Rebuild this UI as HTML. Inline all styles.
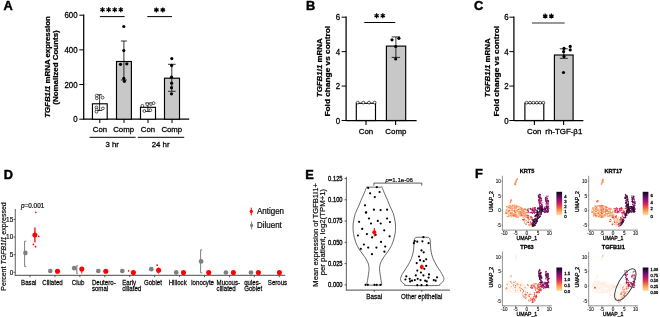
<!DOCTYPE html>
<html><head><meta charset="utf-8"><title>Figure</title>
<style>
html,body{margin:0;padding:0;background:#fff;width:660px;height:317px;overflow:hidden}
svg{display:block;font-family:"Liberation Sans",sans-serif;will-change:transform}
text{stroke:#000;stroke-width:0.28px}
</style></head><body>
<svg width="660" height="317" viewBox="0 0 660 317">
<rect width="660" height="317" fill="#fff"/>
<text x="3.50" y="9.75" font-size="12.8" text-anchor="start" font-weight="bold" fill="#000" style="stroke-width:0.45px">A</text>
<text x="306.10" y="9.75" font-size="12.8" text-anchor="start" font-weight="bold" fill="#000" style="stroke-width:0.45px">B</text>
<text x="474.10" y="10.15" font-size="12.8" text-anchor="start" font-weight="bold" fill="#000" style="stroke-width:0.45px">C</text>
<text x="3.80" y="178.75" font-size="12.8" text-anchor="start" font-weight="bold" fill="#000" style="stroke-width:0.45px">D</text>
<text x="305.20" y="178.75" font-size="12.8" text-anchor="start" font-weight="bold" fill="#000" style="stroke-width:0.45px">E</text>
<text x="474.90" y="178.35" font-size="12.8" text-anchor="start" font-weight="bold" fill="#000" style="stroke-width:0.45px">F</text>
<line x1="83.70" y1="14.60" x2="83.70" y2="119.80" stroke="#000" stroke-width="1.25"/>
<line x1="79.30" y1="119.20" x2="83.70" y2="119.20" stroke="#000" stroke-width="1.0"/>
<text transform="translate(77.6,122.25) scale(0.915,1)" font-size="8.6" text-anchor="end">0</text>
<line x1="79.30" y1="84.53" x2="83.70" y2="84.53" stroke="#000" stroke-width="1.0"/>
<text transform="translate(77.6,87.58) scale(0.915,1)" font-size="8.6" text-anchor="end">200</text>
<line x1="79.30" y1="49.87" x2="83.70" y2="49.87" stroke="#000" stroke-width="1.0"/>
<text transform="translate(77.6,52.92) scale(0.915,1)" font-size="8.6" text-anchor="end">400</text>
<line x1="79.30" y1="15.20" x2="83.70" y2="15.20" stroke="#000" stroke-width="1.0"/>
<text transform="translate(77.6,18.25) scale(0.915,1)" font-size="8.6" text-anchor="end">600</text>
<line x1="83.70" y1="119.20" x2="189.20" y2="119.20" stroke="#000" stroke-width="1.25"/>
<rect x="92.45" y="103.80" width="14.75" height="15.40" fill="#fff" stroke="#000" stroke-width="1.15"/>
<rect x="116.50" y="61.50" width="14.90" height="57.70" fill="#c8c8c8" stroke="#000" stroke-width="1.15"/>
<rect x="140.50" y="107.30" width="15.00" height="11.90" fill="#fff" stroke="#000" stroke-width="1.15"/>
<rect x="164.50" y="78.20" width="15.00" height="41.00" fill="#c8c8c8" stroke="#000" stroke-width="1.15"/>
<line x1="99.80" y1="119.20" x2="99.80" y2="123.00" stroke="#000" stroke-width="1.0"/>
<line x1="124.00" y1="119.20" x2="124.00" y2="123.00" stroke="#000" stroke-width="1.0"/>
<line x1="148.00" y1="119.20" x2="148.00" y2="123.00" stroke="#000" stroke-width="1.0"/>
<line x1="172.00" y1="119.20" x2="172.00" y2="123.00" stroke="#000" stroke-width="1.0"/>
<line x1="123.90" y1="41.00" x2="123.90" y2="80.00" stroke="#000" stroke-width="0.8"/>
<line x1="120.90" y1="41.00" x2="126.90" y2="41.00" stroke="#000" stroke-width="0.8"/>
<line x1="120.90" y1="80.00" x2="126.90" y2="80.00" stroke="#000" stroke-width="0.8"/>
<line x1="99.60" y1="94.80" x2="99.60" y2="110.50" stroke="#000" stroke-width="0.8"/>
<line x1="97.10" y1="94.80" x2="102.10" y2="94.80" stroke="#000" stroke-width="0.8"/>
<line x1="97.10" y1="110.50" x2="102.10" y2="110.50" stroke="#000" stroke-width="0.8"/>
<line x1="147.90" y1="103.00" x2="147.90" y2="111.50" stroke="#000" stroke-width="0.8"/>
<line x1="145.30" y1="103.00" x2="150.50" y2="103.00" stroke="#000" stroke-width="0.8"/>
<line x1="145.30" y1="111.50" x2="150.50" y2="111.50" stroke="#000" stroke-width="0.8"/>
<line x1="171.80" y1="64.30" x2="171.80" y2="91.30" stroke="#000" stroke-width="0.8"/>
<line x1="168.00" y1="64.30" x2="175.60" y2="64.30" stroke="#000" stroke-width="0.8"/>
<line x1="168.00" y1="91.30" x2="175.60" y2="91.30" stroke="#000" stroke-width="0.8"/>
<circle cx="123.80" cy="26.50" r="1.6" fill="#000"/>
<circle cx="123.80" cy="50.60" r="1.6" fill="#000"/>
<circle cx="120.50" cy="64.30" r="1.6" fill="#000"/>
<circle cx="126.80" cy="63.80" r="1.6" fill="#000"/>
<circle cx="123.80" cy="78.40" r="1.6" fill="#000"/>
<circle cx="124.40" cy="81.30" r="1.6" fill="#000"/>
<circle cx="171.80" cy="58.60" r="1.6" fill="#000"/>
<circle cx="171.60" cy="65.40" r="1.6" fill="#000"/>
<circle cx="171.50" cy="77.20" r="1.6" fill="#000"/>
<circle cx="171.60" cy="83.20" r="1.6" fill="#000"/>
<circle cx="171.50" cy="87.70" r="1.6" fill="#000"/>
<circle cx="171.50" cy="93.80" r="1.6" fill="#000"/>
<circle cx="96.70" cy="95.60" r="1.4" fill="#fff" stroke="#000" stroke-width="0.65"/>
<circle cx="96.80" cy="98.30" r="1.4" fill="#fff" stroke="#000" stroke-width="0.65"/>
<circle cx="102.60" cy="97.60" r="1.4" fill="#fff" stroke="#000" stroke-width="0.65"/>
<circle cx="96.50" cy="107.40" r="1.4" fill="#fff" stroke="#000" stroke-width="0.65"/>
<circle cx="96.70" cy="109.60" r="1.4" fill="#fff" stroke="#000" stroke-width="0.65"/>
<circle cx="96.50" cy="111.70" r="1.4" fill="#fff" stroke="#000" stroke-width="0.65"/>
<circle cx="102.90" cy="108.40" r="1.4" fill="#fff" stroke="#000" stroke-width="0.65"/>
<circle cx="142.40" cy="105.80" r="1.4" fill="#fff" stroke="#000" stroke-width="0.65"/>
<circle cx="147.30" cy="104.20" r="1.4" fill="#fff" stroke="#000" stroke-width="0.65"/>
<circle cx="151.00" cy="104.00" r="1.4" fill="#fff" stroke="#000" stroke-width="0.65"/>
<circle cx="153.60" cy="103.10" r="1.4" fill="#fff" stroke="#000" stroke-width="0.65"/>
<circle cx="144.30" cy="111.00" r="1.4" fill="#fff" stroke="#000" stroke-width="0.65"/>
<circle cx="150.40" cy="110.20" r="1.4" fill="#fff" stroke="#000" stroke-width="0.65"/>
<text x="100.00" y="131.80" font-size="7.8" text-anchor="middle" fill="#000">Con</text>
<text x="123.60" y="131.80" font-size="7.8" text-anchor="middle" fill="#000">Comp</text>
<text x="148.00" y="131.80" font-size="7.8" text-anchor="middle" fill="#000">Con</text>
<text x="171.80" y="131.80" font-size="7.8" text-anchor="middle" fill="#000">Comp</text>
<line x1="89.60" y1="137.30" x2="135.60" y2="137.30" stroke="#000" stroke-width="1.0"/>
<line x1="137.80" y1="137.30" x2="184.20" y2="137.30" stroke="#000" stroke-width="1.0"/>
<text x="112.20" y="146.50" font-size="7.8" text-anchor="middle" fill="#000">3 hr</text>
<text x="160.60" y="146.50" font-size="7.8" text-anchor="middle" fill="#000">24 hr</text>
<path d="M102.50,7.20L102.50,12.20M100.33,8.45L104.67,10.95M100.33,10.95L104.67,8.45" stroke="#000" stroke-width="1.25"/>
<path d="M108.60,7.20L108.60,12.20M106.43,8.45L110.77,10.95M106.43,10.95L110.77,8.45" stroke="#000" stroke-width="1.25"/>
<path d="M114.70,7.20L114.70,12.20M112.53,8.45L116.87,10.95M112.53,10.95L116.87,8.45" stroke="#000" stroke-width="1.25"/>
<path d="M120.80,7.20L120.80,12.20M118.63,8.45L122.97,10.95M118.63,10.95L122.97,8.45" stroke="#000" stroke-width="1.25"/>
<line x1="99.90" y1="16.60" x2="124.60" y2="16.60" stroke="#000" stroke-width="1.0"/>
<path d="M156.40,7.40L156.40,12.40M154.23,8.65L158.57,11.15M154.23,11.15L158.57,8.65" stroke="#000" stroke-width="1.25"/>
<path d="M162.80,7.40L162.80,12.40M160.63,8.65L164.97,11.15M160.63,11.15L164.97,8.65" stroke="#000" stroke-width="1.25"/>
<line x1="147.30" y1="16.60" x2="172.00" y2="16.60" stroke="#000" stroke-width="1.0"/>
<text transform="translate(49.8,67.0) rotate(-90) scale(1,0.88)" font-size="7.85" text-anchor="middle" font-weight="bold"><tspan font-style="italic">TGFB1l1</tspan> mRNA expression</text>
<text transform="translate(58.30,67.50) rotate(-90) scale(1,0.88)" font-size="7.95" text-anchor="middle" font-weight="bold" fill="#000">(Nomalized Counts)</text>
<line x1="346.10" y1="16.60" x2="346.10" y2="121.10" stroke="#000" stroke-width="1.25"/>
<line x1="341.60" y1="120.50" x2="346.10" y2="120.50" stroke="#000" stroke-width="1.0"/>
<text transform="translate(340.2,123.55) scale(0.915,1)" font-size="8.6" text-anchor="end">0</text>
<line x1="341.60" y1="86.07" x2="346.10" y2="86.07" stroke="#000" stroke-width="1.0"/>
<text transform="translate(340.2,89.12) scale(0.915,1)" font-size="8.6" text-anchor="end">2</text>
<line x1="341.60" y1="51.63" x2="346.10" y2="51.63" stroke="#000" stroke-width="1.0"/>
<text transform="translate(340.2,54.68) scale(0.915,1)" font-size="8.6" text-anchor="end">4</text>
<line x1="341.60" y1="17.20" x2="346.10" y2="17.20" stroke="#000" stroke-width="1.0"/>
<text transform="translate(340.2,20.25) scale(0.915,1)" font-size="8.6" text-anchor="end">6</text>
<line x1="346.10" y1="120.50" x2="416.60" y2="120.50" stroke="#000" stroke-width="1.25"/>
<rect x="356.30" y="103.28" width="19.20" height="17.22" fill="#fff" stroke="#000" stroke-width="1.15"/>
<rect x="386.40" y="46.10" width="19.30" height="74.40" fill="#c8c8c8" stroke="#000" stroke-width="1.15"/>
<line x1="395.90" y1="36.90" x2="395.90" y2="57.40" stroke="#000" stroke-width="0.8"/>
<line x1="391.70" y1="36.90" x2="400.10" y2="36.90" stroke="#000" stroke-width="0.8"/>
<line x1="391.70" y1="57.40" x2="400.10" y2="57.40" stroke="#000" stroke-width="0.8"/>
<circle cx="392.00" cy="39.80" r="1.6" fill="#000"/>
<circle cx="398.90" cy="38.30" r="1.6" fill="#000"/>
<circle cx="395.70" cy="46.50" r="1.6" fill="#000"/>
<circle cx="395.70" cy="59.00" r="1.6" fill="#000"/>
<circle cx="357.70" cy="102.60" r="1.4" fill="#fff" stroke="#000" stroke-width="0.65"/>
<circle cx="363.30" cy="102.60" r="1.4" fill="#fff" stroke="#000" stroke-width="0.65"/>
<circle cx="369.00" cy="102.60" r="1.4" fill="#fff" stroke="#000" stroke-width="0.65"/>
<circle cx="374.60" cy="102.60" r="1.4" fill="#fff" stroke="#000" stroke-width="0.65"/>
<line x1="366.00" y1="120.50" x2="366.00" y2="125.00" stroke="#000" stroke-width="1.1"/>
<line x1="395.60" y1="120.50" x2="395.60" y2="125.00" stroke="#000" stroke-width="1.1"/>
<text x="366.00" y="134.00" font-size="7.9" text-anchor="middle" fill="#000">Con</text>
<text x="395.90" y="134.00" font-size="7.9" text-anchor="middle" fill="#000">Comp</text>
<path d="M376.60,13.20L376.60,18.20M374.43,14.45L378.77,16.95M374.43,16.95L378.77,14.45" stroke="#000" stroke-width="1.25"/>
<path d="M382.80,13.20L382.80,18.20M380.63,14.45L384.97,16.95M380.63,16.95L384.97,14.45" stroke="#000" stroke-width="1.25"/>
<line x1="364.30" y1="22.50" x2="395.30" y2="22.50" stroke="#000" stroke-width="1.0"/>
<text transform="translate(321.6,67.8) rotate(-90) scale(1,0.88)" font-size="7.9" text-anchor="middle" font-weight="bold"><tspan font-style="italic">TGFB1l1</tspan> mRNA</text>
<text transform="translate(330.40,71.20) rotate(-90) scale(1,0.88)" font-size="8.3" text-anchor="middle" font-weight="bold" fill="#000">Fold change vs control</text>
<line x1="513.90" y1="16.60" x2="513.90" y2="121.10" stroke="#000" stroke-width="1.25"/>
<line x1="509.40" y1="120.50" x2="513.90" y2="120.50" stroke="#000" stroke-width="1.0"/>
<text transform="translate(508.6,123.55) scale(0.915,1)" font-size="8.6" text-anchor="end">0</text>
<line x1="509.40" y1="86.07" x2="513.90" y2="86.07" stroke="#000" stroke-width="1.0"/>
<text transform="translate(508.6,89.12) scale(0.915,1)" font-size="8.6" text-anchor="end">2</text>
<line x1="509.40" y1="51.63" x2="513.90" y2="51.63" stroke="#000" stroke-width="1.0"/>
<text transform="translate(508.6,54.68) scale(0.915,1)" font-size="8.6" text-anchor="end">4</text>
<line x1="509.40" y1="17.20" x2="513.90" y2="17.20" stroke="#000" stroke-width="1.0"/>
<text transform="translate(508.6,20.25) scale(0.915,1)" font-size="8.6" text-anchor="end">6</text>
<line x1="513.90" y1="120.50" x2="583.40" y2="120.50" stroke="#000" stroke-width="1.25"/>
<rect x="524.90" y="103.28" width="18.90" height="17.22" fill="#fff" stroke="#000" stroke-width="1.15"/>
<rect x="554.40" y="55.00" width="18.70" height="65.50" fill="#c8c8c8" stroke="#000" stroke-width="1.15"/>
<line x1="563.80" y1="48.80" x2="563.80" y2="58.30" stroke="#000" stroke-width="0.8"/>
<line x1="559.80" y1="48.80" x2="567.80" y2="48.80" stroke="#000" stroke-width="0.8"/>
<line x1="559.80" y1="58.30" x2="567.80" y2="58.30" stroke="#000" stroke-width="0.8"/>
<circle cx="564.00" cy="48.40" r="1.6" fill="#000"/>
<circle cx="570.20" cy="46.40" r="1.6" fill="#000"/>
<circle cx="570.20" cy="49.90" r="1.6" fill="#000"/>
<circle cx="563.60" cy="51.60" r="1.6" fill="#000"/>
<circle cx="564.00" cy="56.40" r="1.6" fill="#000"/>
<circle cx="563.50" cy="72.50" r="1.6" fill="#000"/>
<circle cx="526.60" cy="102.70" r="1.4" fill="#fff" stroke="#000" stroke-width="0.65"/>
<circle cx="530.00" cy="102.70" r="1.4" fill="#fff" stroke="#000" stroke-width="0.65"/>
<circle cx="533.40" cy="102.70" r="1.4" fill="#fff" stroke="#000" stroke-width="0.65"/>
<circle cx="536.80" cy="102.70" r="1.4" fill="#fff" stroke="#000" stroke-width="0.65"/>
<circle cx="540.20" cy="102.70" r="1.4" fill="#fff" stroke="#000" stroke-width="0.65"/>
<circle cx="543.40" cy="102.70" r="1.4" fill="#fff" stroke="#000" stroke-width="0.65"/>
<line x1="534.40" y1="120.50" x2="534.40" y2="125.00" stroke="#000" stroke-width="1.1"/>
<line x1="563.60" y1="120.50" x2="563.60" y2="125.00" stroke="#000" stroke-width="1.1"/>
<text x="534.20" y="133.60" font-size="7.9" text-anchor="middle" fill="#000">Con</text>
<text x="563.80" y="133.60" font-size="7.9" text-anchor="middle" fill="#000">rh-TGF-β1</text>
<path d="M545.20,13.60L545.20,18.60M543.03,14.85L547.37,17.35M543.03,17.35L547.37,14.85" stroke="#000" stroke-width="1.25"/>
<path d="M551.40,13.60L551.40,18.60M549.23,14.85L553.57,17.35M549.23,17.35L553.57,14.85" stroke="#000" stroke-width="1.25"/>
<line x1="531.90" y1="23.00" x2="564.70" y2="23.00" stroke="#333" stroke-width="1.2"/>
<text transform="translate(490.4,67.8) rotate(-90) scale(1,0.88)" font-size="7.9" text-anchor="middle" font-weight="bold"><tspan font-style="italic">TGFB1l1</tspan> mRNA</text>
<text transform="translate(499.20,71.20) rotate(-90) scale(1,0.88)" font-size="8.3" text-anchor="middle" font-weight="bold" fill="#000">Fold change vs control</text>
<line x1="15.30" y1="209.00" x2="15.30" y2="275.90" stroke="#6e6e6e" stroke-width="1.1"/>
<line x1="14.75" y1="275.40" x2="285.20" y2="275.40" stroke="#6e6e6e" stroke-width="1.1"/>
<line x1="13.60" y1="272.30" x2="15.30" y2="272.30" stroke="#333" stroke-width="0.8"/>
<text x="13.20" y="274.60" font-size="6.4" text-anchor="end" fill="#333" style="stroke-width:0.2px">0</text>
<line x1="13.60" y1="254.67" x2="15.30" y2="254.67" stroke="#333" stroke-width="0.8"/>
<text x="13.20" y="256.97" font-size="6.4" text-anchor="end" fill="#333" style="stroke-width:0.2px">5</text>
<line x1="13.60" y1="237.04" x2="15.30" y2="237.04" stroke="#333" stroke-width="0.8"/>
<text x="13.20" y="239.34" font-size="6.4" text-anchor="end" fill="#333" style="stroke-width:0.2px">10</text>
<line x1="13.60" y1="219.41" x2="15.30" y2="219.41" stroke="#333" stroke-width="0.8"/>
<text x="13.20" y="221.71" font-size="6.4" text-anchor="end" fill="#333" style="stroke-width:0.2px">15</text>
<line x1="30.00" y1="275.40" x2="30.00" y2="277.20" stroke="#333" stroke-width="0.8"/>
<line x1="54.93" y1="275.40" x2="54.93" y2="277.20" stroke="#333" stroke-width="0.8"/>
<line x1="79.86" y1="275.40" x2="79.86" y2="277.20" stroke="#333" stroke-width="0.8"/>
<line x1="104.79" y1="275.40" x2="104.79" y2="277.20" stroke="#333" stroke-width="0.8"/>
<line x1="129.72" y1="275.40" x2="129.72" y2="277.20" stroke="#333" stroke-width="0.8"/>
<line x1="154.65" y1="275.40" x2="154.65" y2="277.20" stroke="#333" stroke-width="0.8"/>
<line x1="179.58" y1="275.40" x2="179.58" y2="277.20" stroke="#333" stroke-width="0.8"/>
<line x1="204.51" y1="275.40" x2="204.51" y2="277.20" stroke="#333" stroke-width="0.8"/>
<line x1="229.44" y1="275.40" x2="229.44" y2="277.20" stroke="#333" stroke-width="0.8"/>
<line x1="254.37" y1="275.40" x2="254.37" y2="277.20" stroke="#333" stroke-width="0.8"/>
<line x1="279.30" y1="275.40" x2="279.30" y2="277.20" stroke="#333" stroke-width="0.8"/>
<text transform="translate(21.10,284.50) scale(0.85,1)" font-size="7.2" fill="#1a1a1a" style="stroke-width:0.26px">Basal</text>
<text transform="translate(42.30,284.50) scale(0.85,1)" font-size="7.2" fill="#1a1a1a" style="stroke-width:0.26px">Ciliated</text>
<text transform="translate(71.80,284.50) scale(0.85,1)" font-size="7.2" fill="#1a1a1a" style="stroke-width:0.26px">Club</text>
<text transform="translate(91.90,284.50) scale(0.85,1)" font-size="7.2" fill="#1a1a1a" style="stroke-width:0.26px">Deutero-</text>
<text transform="translate(91.90,291.00) scale(0.85,1)" font-size="7.2" fill="#1a1a1a" style="stroke-width:0.26px">somal</text>
<text transform="translate(122.20,284.50) scale(0.85,1)" font-size="7.2" fill="#1a1a1a" style="stroke-width:0.26px">Early</text>
<text transform="translate(122.20,291.00) scale(0.85,1)" font-size="7.2" fill="#1a1a1a" style="stroke-width:0.26px">ciliated</text>
<text transform="translate(143.90,284.50) scale(0.85,1)" font-size="7.2" fill="#1a1a1a" style="stroke-width:0.26px">Goblet</text>
<text transform="translate(168.70,284.50) scale(0.85,1)" font-size="7.2" fill="#1a1a1a" style="stroke-width:0.26px">Hillock</text>
<text transform="translate(190.90,284.50) scale(0.85,1)" font-size="7.2" fill="#1a1a1a" style="stroke-width:0.26px">Ionocyte</text>
<text transform="translate(216.60,284.50) scale(0.85,1)" font-size="7.2" fill="#1a1a1a" style="stroke-width:0.26px">Mucous-</text>
<text transform="translate(216.60,291.00) scale(0.85,1)" font-size="7.2" fill="#1a1a1a" style="stroke-width:0.26px">ciliated</text>
<text transform="translate(244.20,284.50) scale(0.85,1)" font-size="7.2" fill="#1a1a1a" style="stroke-width:0.26px">quies-</text>
<text transform="translate(244.20,291.00) scale(0.85,1)" font-size="7.2" fill="#1a1a1a" style="stroke-width:0.26px">Goblet</text>
<text transform="translate(267.80,284.50) scale(0.85,1)" font-size="7.2" fill="#1a1a1a" style="stroke-width:0.26px">Serous</text>
<path d="M26.30,241.20H24.60V266.40H26.30" fill="none" stroke="#7f7f7f" stroke-width="1.0"/>
<circle cx="25.40" cy="252.90" r="2.3" fill="#7f7f7f"/>
<line x1="34.90" y1="227.40" x2="34.90" y2="242.60" stroke="#ff0000" stroke-width="1.3"/>
<circle cx="34.90" cy="235.00" r="2.5" fill="#ff0000"/>
<circle cx="35.80" cy="212.30" r="0.85" fill="#ff0000"/>
<circle cx="38.80" cy="236.30" r="0.85" fill="#ff0000"/>
<circle cx="33.40" cy="244.40" r="0.85" fill="#ff0000"/>
<circle cx="35.60" cy="246.70" r="0.85" fill="#ff0000"/>
<path d="M202.30,249.90H200.60V272.80H202.30" fill="none" stroke="#7f7f7f" stroke-width="1.0"/>
<path d="M77.90,265.80H76.80V273.20H77.90" fill="none" stroke="#7f7f7f" stroke-width="1.1"/>
<circle cx="50.30" cy="271.00" r="2.35" fill="#7f7f7f"/>
<circle cx="74.20" cy="268.20" r="2.35" fill="#7f7f7f"/>
<circle cx="98.30" cy="271.00" r="2.35" fill="#7f7f7f"/>
<circle cx="122.30" cy="271.00" r="2.35" fill="#7f7f7f"/>
<circle cx="151.30" cy="269.20" r="2.35" fill="#7f7f7f"/>
<circle cx="176.20" cy="272.40" r="2.35" fill="#7f7f7f"/>
<circle cx="201.10" cy="261.40" r="2.35" fill="#7f7f7f"/>
<circle cx="225.90" cy="272.50" r="2.35" fill="#7f7f7f"/>
<circle cx="251.00" cy="272.50" r="2.35" fill="#7f7f7f"/>
<line x1="158.40" y1="267.40" x2="158.40" y2="273.60" stroke="#ff0000" stroke-width="1.0"/>
<line x1="81.80" y1="269.00" x2="81.80" y2="273.50" stroke="#ff0000" stroke-width="1.0"/>
<circle cx="57.50" cy="271.20" r="2.55" fill="#ff0000"/>
<circle cx="81.80" cy="269.00" r="2.55" fill="#ff0000"/>
<circle cx="105.80" cy="271.20" r="2.55" fill="#ff0000"/>
<circle cx="133.40" cy="272.50" r="2.55" fill="#ff0000"/>
<circle cx="158.60" cy="270.20" r="2.55" fill="#ff0000"/>
<circle cx="183.50" cy="272.50" r="2.55" fill="#ff0000"/>
<circle cx="208.70" cy="272.50" r="2.55" fill="#ff0000"/>
<circle cx="233.40" cy="272.50" r="2.55" fill="#ff0000"/>
<circle cx="258.40" cy="272.50" r="2.55" fill="#ff0000"/>
<circle cx="279.40" cy="272.50" r="2.55" fill="#ff0000"/>
<circle cx="157.20" cy="265.20" r="0.85" fill="#ff0000"/>
<circle cx="128.60" cy="270.90" r="0.8" fill="#ff0000"/>
<line x1="251.30" y1="207.60" x2="251.30" y2="215.40" stroke="#ff0000" stroke-width="1.0"/>
<circle cx="251.30" cy="211.40" r="1.6" fill="#ff0000"/>
<text transform="translate(257.0,213.8) scale(0.95,1)" font-size="8.4" fill="#111" style="stroke-width:0.22px">Antigen</text>
<line x1="251.60" y1="221.70" x2="251.60" y2="229.30" stroke="#7f7f7f" stroke-width="1.0"/>
<circle cx="251.60" cy="225.40" r="1.6" fill="#7f7f7f"/>
<text transform="translate(257.0,227.6) scale(0.95,1)" font-size="8.4" fill="#111" style="stroke-width:0.22px">Diluent</text>
<text x="21.00" y="208.10" font-size="6.4" text-anchor="start" fill="#111" style="stroke-width:0.2px"><tspan font-style="italic">p</tspan>=0.001</text>
<text transform="translate(6.1,246.5) rotate(-90)" font-size="7" text-anchor="middle" fill="#111" style="stroke-width:0.2px">Percent <tspan font-style="italic">TGFB1l1</tspan> expressed</text>
<line x1="346.40" y1="176.80" x2="346.40" y2="290.60" stroke="#6e6e6e" stroke-width="1.1"/>
<line x1="345.85" y1="290.10" x2="449.90" y2="290.10" stroke="#6e6e6e" stroke-width="1.1"/>
<line x1="344.60" y1="284.90" x2="346.40" y2="284.90" stroke="#333" stroke-width="0.8"/>
<text transform="translate(342.6,287.25) scale(0.88,1)" font-size="6.6" text-anchor="end" fill="#111" style="stroke-width:0.32px">0.000</text>
<line x1="344.60" y1="263.62" x2="346.40" y2="263.62" stroke="#333" stroke-width="0.8"/>
<text transform="translate(342.6,265.97) scale(0.88,1)" font-size="6.6" text-anchor="end" fill="#111" style="stroke-width:0.32px">0.025</text>
<line x1="344.60" y1="242.34" x2="346.40" y2="242.34" stroke="#333" stroke-width="0.8"/>
<text transform="translate(342.6,244.69) scale(0.88,1)" font-size="6.6" text-anchor="end" fill="#111" style="stroke-width:0.32px">0.050</text>
<line x1="344.60" y1="221.06" x2="346.40" y2="221.06" stroke="#333" stroke-width="0.8"/>
<text transform="translate(342.6,223.41) scale(0.88,1)" font-size="6.6" text-anchor="end" fill="#111" style="stroke-width:0.32px">0.075</text>
<line x1="344.60" y1="199.78" x2="346.40" y2="199.78" stroke="#333" stroke-width="0.8"/>
<text transform="translate(342.6,202.13) scale(0.88,1)" font-size="6.6" text-anchor="end" fill="#111" style="stroke-width:0.32px">0.100</text>
<line x1="344.60" y1="178.50" x2="346.40" y2="178.50" stroke="#333" stroke-width="0.8"/>
<text transform="translate(342.6,180.85) scale(0.88,1)" font-size="6.6" text-anchor="end" fill="#111" style="stroke-width:0.32px">0.125</text>
<line x1="374.30" y1="290.10" x2="374.30" y2="291.90" stroke="#333" stroke-width="0.8"/>
<line x1="421.80" y1="290.10" x2="421.80" y2="291.90" stroke="#333" stroke-width="0.8"/>
<text transform="translate(374.3,298.7) scale(0.89,1)" font-size="7.2" text-anchor="middle" fill="#1a1a1a" style="stroke-width:0.26px">Basal</text>
<text transform="translate(421.7,298.7) scale(0.855,1)" font-size="7.2" text-anchor="middle" fill="#1a1a1a" style="stroke-width:0.26px">Other epithelial</text>
<text transform="translate(317.8,234.9) rotate(-90)" font-size="7.6" text-anchor="middle" fill="#111" style="stroke-width:0.2px">Mean expression of TGFB1I1+</text>
<text transform="translate(324.9,232.1) rotate(-90)" font-size="7.8" text-anchor="middle" fill="#111" style="stroke-width:0.2px">per patient, log2(TPM+1)</text>
<path d="M380.30,187.20C382.57,187.22 381.17,186.18 381.90,187.30C382.63,188.42 383.75,191.73 384.70,193.90C385.65,196.07 386.70,198.18 387.60,200.30C388.50,202.42 389.15,204.40 390.10,206.60C391.05,208.80 392.45,210.93 393.30,213.50C394.15,216.07 394.82,219.63 395.20,222.00C395.57,224.37 395.57,225.80 395.55,227.70C395.53,229.60 395.53,231.03 395.10,233.40C394.68,235.77 393.92,239.30 393.00,241.90C392.08,244.50 391.12,246.50 389.60,249.00C388.08,251.50 385.40,254.60 383.90,256.90C382.40,259.20 381.33,260.83 380.60,262.80C379.87,264.77 379.57,266.72 379.50,268.70C379.43,270.68 379.93,272.72 380.20,274.70C380.47,276.68 380.85,278.95 381.10,280.60C381.35,282.25 381.83,283.85 381.70,284.60C381.57,285.35 382.53,285.02 380.30,285.10C378.07,285.18 370.53,285.18 368.30,285.10C366.07,285.02 367.03,285.35 366.90,284.60C366.77,283.85 367.25,282.25 367.50,280.60C367.75,278.95 368.13,276.68 368.40,274.70C368.67,272.72 369.17,270.68 369.10,268.70C369.03,266.72 368.73,264.77 368.00,262.80C367.27,260.83 366.20,259.20 364.70,256.90C363.20,254.60 360.52,251.50 359.00,249.00C357.48,246.50 356.52,244.50 355.60,241.90C354.68,239.30 353.93,235.77 353.50,233.40C353.07,231.03 353.07,229.60 353.05,227.70C353.03,225.80 353.03,224.37 353.40,222.00C353.78,219.63 354.45,216.07 355.30,213.50C356.15,210.93 357.55,208.80 358.50,206.60C359.45,204.40 360.10,202.42 361.00,200.30C361.90,198.18 362.95,196.07 363.90,193.90C364.85,191.73 365.97,188.42 366.70,187.30C367.43,186.18 366.03,187.22 368.30,187.20C370.57,187.18 378.03,187.18 380.30,187.20Z" fill="none" stroke="#444" stroke-width="0.8"/>
<path d="M427.20,237.30C429.20,237.42 428.70,237.55 429.20,238.00C429.70,238.45 430.00,239.12 430.20,240.00C430.40,240.88 430.27,241.48 430.40,243.30C430.53,245.12 430.57,248.37 431.00,250.90C431.43,253.43 432.02,255.98 433.00,258.50C433.98,261.02 435.63,263.80 436.90,266.00C438.17,268.20 439.48,269.80 440.60,271.70C441.72,273.60 443.15,275.83 443.60,277.40C444.05,278.97 443.95,279.93 443.30,281.10C442.65,282.27 440.72,283.67 439.70,284.40C438.68,285.13 442.62,285.32 437.20,285.50C431.78,285.68 412.62,285.68 407.20,285.50C401.78,285.32 405.72,285.13 404.70,284.40C403.68,283.67 401.75,282.27 401.10,281.10C400.45,279.93 400.35,278.97 400.80,277.40C401.25,275.83 402.68,273.60 403.80,271.70C404.92,269.80 406.23,268.20 407.50,266.00C408.77,263.80 410.42,261.02 411.40,258.50C412.38,255.98 412.97,253.43 413.40,250.90C413.83,248.37 413.87,245.12 414.00,243.30C414.13,241.48 414.00,240.88 414.20,240.00C414.40,239.12 414.70,238.45 415.20,238.00C415.70,237.55 415.20,237.42 417.20,237.30C419.20,237.18 425.20,237.18 427.20,237.30Z" fill="none" stroke="#444" stroke-width="0.8"/>
<circle cx="368.20" cy="187.90" r="1.1" fill="#000"/>
<circle cx="376.80" cy="187.20" r="1.1" fill="#000"/>
<circle cx="370.10" cy="193.30" r="1.1" fill="#000"/>
<circle cx="379.60" cy="192.00" r="1.1" fill="#000"/>
<circle cx="374.80" cy="197.10" r="1.1" fill="#000"/>
<circle cx="365.00" cy="205.30" r="1.1" fill="#000"/>
<circle cx="373.90" cy="209.70" r="1.1" fill="#000"/>
<circle cx="380.60" cy="210.10" r="1.1" fill="#000"/>
<circle cx="387.10" cy="209.70" r="1.1" fill="#000"/>
<circle cx="365.90" cy="212.60" r="1.1" fill="#000"/>
<circle cx="366.20" cy="212.40" r="1.1" fill="#000"/>
<circle cx="369.00" cy="218.50" r="1.1" fill="#000"/>
<circle cx="387.10" cy="218.50" r="1.1" fill="#000"/>
<circle cx="359.10" cy="221.80" r="1.1" fill="#000"/>
<circle cx="371.00" cy="223.50" r="1.1" fill="#000"/>
<circle cx="377.80" cy="220.90" r="1.1" fill="#000"/>
<circle cx="380.70" cy="223.50" r="1.1" fill="#000"/>
<circle cx="389.90" cy="222.00" r="1.1" fill="#000"/>
<circle cx="362.20" cy="228.90" r="1.1" fill="#000"/>
<circle cx="384.20" cy="230.30" r="1.1" fill="#000"/>
<circle cx="366.90" cy="234.10" r="1.1" fill="#000"/>
<circle cx="375.70" cy="234.80" r="1.1" fill="#000"/>
<circle cx="357.90" cy="235.50" r="1.1" fill="#000"/>
<circle cx="372.10" cy="237.40" r="1.1" fill="#000"/>
<circle cx="389.60" cy="236.30" r="1.1" fill="#000"/>
<circle cx="381.00" cy="241.90" r="1.1" fill="#000"/>
<circle cx="363.90" cy="244.50" r="1.1" fill="#000"/>
<circle cx="360.80" cy="248.80" r="1.1" fill="#000"/>
<circle cx="368.20" cy="247.60" r="1.1" fill="#000"/>
<circle cx="376.40" cy="247.60" r="1.1" fill="#000"/>
<circle cx="385.20" cy="246.60" r="1.1" fill="#000"/>
<circle cx="384.40" cy="251.70" r="1.1" fill="#000"/>
<circle cx="372.00" cy="254.20" r="1.1" fill="#000"/>
<circle cx="365.60" cy="284.80" r="1.1" fill="#000"/>
<circle cx="367.80" cy="284.80" r="1.1" fill="#000"/>
<circle cx="374.50" cy="284.80" r="1.1" fill="#000"/>
<circle cx="376.70" cy="284.80" r="1.1" fill="#000"/>
<circle cx="380.40" cy="284.80" r="1.1" fill="#000"/>
<circle cx="423.40" cy="237.20" r="1.1" fill="#000"/>
<circle cx="414.80" cy="241.00" r="1.1" fill="#000"/>
<circle cx="417.30" cy="241.70" r="1.1" fill="#000"/>
<circle cx="413.90" cy="243.20" r="1.1" fill="#000"/>
<circle cx="422.40" cy="241.30" r="1.1" fill="#000"/>
<circle cx="428.60" cy="243.20" r="1.1" fill="#000"/>
<circle cx="421.50" cy="250.40" r="1.1" fill="#000"/>
<circle cx="423.70" cy="252.30" r="1.1" fill="#000"/>
<circle cx="419.00" cy="256.50" r="1.1" fill="#000"/>
<circle cx="420.10" cy="260.20" r="1.1" fill="#000"/>
<circle cx="423.70" cy="261.20" r="1.1" fill="#000"/>
<circle cx="426.20" cy="259.30" r="1.1" fill="#000"/>
<circle cx="416.70" cy="263.10" r="1.1" fill="#000"/>
<circle cx="426.20" cy="265.90" r="1.1" fill="#000"/>
<circle cx="424.30" cy="268.80" r="1.1" fill="#000"/>
<circle cx="417.30" cy="270.60" r="1.1" fill="#000"/>
<circle cx="420.90" cy="272.50" r="1.1" fill="#000"/>
<circle cx="429.00" cy="274.40" r="1.1" fill="#000"/>
<circle cx="415.80" cy="275.40" r="1.1" fill="#000"/>
<circle cx="423.40" cy="275.40" r="1.1" fill="#000"/>
<circle cx="406.30" cy="276.30" r="1.1" fill="#000"/>
<circle cx="409.70" cy="278.80" r="1.1" fill="#000"/>
<circle cx="417.70" cy="278.80" r="1.1" fill="#000"/>
<circle cx="428.60" cy="277.60" r="1.1" fill="#000"/>
<circle cx="437.00" cy="277.30" r="1.1" fill="#000"/>
<circle cx="405.40" cy="279.50" r="1.1" fill="#000"/>
<circle cx="412.00" cy="280.70" r="1.1" fill="#000"/>
<circle cx="414.80" cy="280.10" r="1.1" fill="#000"/>
<circle cx="420.50" cy="280.10" r="1.1" fill="#000"/>
<circle cx="425.20" cy="280.70" r="1.1" fill="#000"/>
<circle cx="433.80" cy="280.10" r="1.1" fill="#000"/>
<circle cx="435.60" cy="280.70" r="1.1" fill="#000"/>
<circle cx="410.10" cy="281.40" r="1.1" fill="#000"/>
<circle cx="426.80" cy="281.40" r="1.1" fill="#000"/>
<circle cx="417.30" cy="285.20" r="1.1" fill="#000"/>
<circle cx="421.50" cy="285.20" r="1.1" fill="#000"/>
<circle cx="426.80" cy="285.20" r="1.1" fill="#000"/>
<line x1="374.30" y1="228.00" x2="374.30" y2="236.40" stroke="#ff0000" stroke-width="1.1"/>
<circle cx="374.30" cy="232.30" r="2.0" fill="#ff0000"/>
<line x1="421.80" y1="264.50" x2="421.80" y2="269.30" stroke="#ff0000" stroke-width="1.0"/>
<circle cx="421.80" cy="266.90" r="2.0" fill="#ff0000"/>
<path d="M373.9,185.6V183.1H421.8V185.6" fill="none" stroke="#333" stroke-width="0.8"/>
<text x="399.20" y="181.90" font-size="6.1" text-anchor="middle" fill="#111" style="stroke-width:0.2px"><tspan font-style="italic">p</tspan>=1.1e-06</text>
<line x1="502.40" y1="175.80" x2="502.40" y2="230.50" stroke="#7a7a7a" stroke-width="0.8"/>
<line x1="502.00" y1="230.10" x2="551.80" y2="230.10" stroke="#7a7a7a" stroke-width="0.8"/>
<line x1="504.30" y1="230.10" x2="504.30" y2="231.10" stroke="#333" stroke-width="0.5"/>
<text x="504.30" y="235.00" font-size="4.6" text-anchor="middle" fill="#333" style="stroke-width:0.12px">-10</text>
<line x1="515.55" y1="230.10" x2="515.55" y2="231.10" stroke="#333" stroke-width="0.5"/>
<text x="515.55" y="235.00" font-size="4.6" text-anchor="middle" fill="#333" style="stroke-width:0.12px">-5</text>
<line x1="526.80" y1="230.10" x2="526.80" y2="231.10" stroke="#333" stroke-width="0.5"/>
<text x="526.80" y="235.00" font-size="4.6" text-anchor="middle" fill="#333" style="stroke-width:0.12px">0</text>
<line x1="538.05" y1="230.10" x2="538.05" y2="231.10" stroke="#333" stroke-width="0.5"/>
<text x="538.05" y="235.00" font-size="4.6" text-anchor="middle" fill="#333" style="stroke-width:0.12px">5</text>
<line x1="549.30" y1="230.10" x2="549.30" y2="231.10" stroke="#333" stroke-width="0.5"/>
<text x="549.30" y="235.00" font-size="4.6" text-anchor="middle" fill="#333" style="stroke-width:0.12px">10</text>
<line x1="501.40" y1="181.20" x2="502.40" y2="181.20" stroke="#333" stroke-width="0.5"/>
<text x="500.80" y="182.85" font-size="4.6" text-anchor="end" fill="#333" style="stroke-width:0.12px">10</text>
<line x1="501.40" y1="195.85" x2="502.40" y2="195.85" stroke="#333" stroke-width="0.5"/>
<text x="500.80" y="197.50" font-size="4.6" text-anchor="end" fill="#333" style="stroke-width:0.12px">5</text>
<line x1="501.40" y1="210.50" x2="502.40" y2="210.50" stroke="#333" stroke-width="0.5"/>
<text x="500.80" y="212.15" font-size="4.6" text-anchor="end" fill="#333" style="stroke-width:0.12px">0</text>
<line x1="501.40" y1="225.15" x2="502.40" y2="225.15" stroke="#333" stroke-width="0.5"/>
<text x="500.80" y="226.80" font-size="4.6" text-anchor="end" fill="#333" style="stroke-width:0.12px">-5</text>
<text x="526.80" y="239.80" font-size="5.2" text-anchor="middle" fill="#111">UMAP_1</text>
<text transform="translate(492.60,201.50) rotate(-90)" font-size="5.2" text-anchor="middle" fill="#111">UMAP_2</text>
<text x="527.00" y="173.00" font-size="5.6" text-anchor="middle" font-weight="bold" fill="#000">KRT5</text>
<defs><linearGradient id="gKRT5" x1="0" y1="0" x2="0" y2="1"><stop offset="0.00" stop-color="#0e0514"/><stop offset="0.10" stop-color="#2e0a38"/><stop offset="0.20" stop-color="#580c5c"/><stop offset="0.32" stop-color="#8a1070"/><stop offset="0.43" stop-color="#b0186c"/><stop offset="0.55" stop-color="#d83058"/><stop offset="0.67" stop-color="#ef6340"/><stop offset="0.78" stop-color="#f9954f"/><stop offset="0.90" stop-color="#fcc07a"/><stop offset="1.00" stop-color="#fde3b0"/></linearGradient></defs>
<rect x="556.40" y="191.80" width="5.7" height="23.5" fill="url(#gKRT5)"/>
<text x="564.20" y="197.55" font-size="4.3" text-anchor="start" fill="#111">4</text>
<text x="564.20" y="202.55" font-size="4.3" text-anchor="start" fill="#111">3</text>
<text x="564.20" y="207.55" font-size="4.3" text-anchor="start" fill="#111">2</text>
<text x="564.20" y="212.65" font-size="4.3" text-anchor="start" fill="#111">1</text>
<text x="564.20" y="217.55" font-size="4.3" text-anchor="start" fill="#111">0</text>
<circle cx="512.9" cy="213.6" r="0.6" fill="#fdeddd"/>
<circle cx="509.9" cy="211.3" r="0.6" fill="#fde1c2"/>
<circle cx="515.9" cy="180.3" r="0.6" fill="#fde0c0"/>
<circle cx="509.8" cy="216.5" r="0.6" fill="#fddcba"/>
<circle cx="511.0" cy="215.0" r="0.6" fill="#fddab6"/>
<circle cx="505.9" cy="209.7" r="0.6" fill="#fdd9b4"/>
<circle cx="516.7" cy="215.7" r="0.6" fill="#fdd8b2"/>
<circle cx="511.3" cy="210.7" r="0.6" fill="#fdd8b2"/>
<circle cx="515.0" cy="211.4" r="0.6" fill="#fdd8b2"/>
<circle cx="515.2" cy="216.8" r="0.6" fill="#fdd7b2"/>
<circle cx="511.4" cy="216.9" r="0.6" fill="#fdd7b1"/>
<circle cx="513.2" cy="206.3" r="0.6" fill="#fdd6af"/>
<circle cx="506.2" cy="210.3" r="0.6" fill="#fdd6af"/>
<circle cx="511.4" cy="208.8" r="0.6" fill="#fdd5ad"/>
<circle cx="508.8" cy="212.7" r="0.6" fill="#fdd4ac"/>
<circle cx="506.9" cy="207.8" r="0.6" fill="#fdd4ac"/>
<circle cx="512.9" cy="214.2" r="0.6" fill="#fdd3ab"/>
<circle cx="509.8" cy="209.6" r="0.6" fill="#fdd3aa"/>
<circle cx="510.3" cy="205.8" r="0.6" fill="#fdd3aa"/>
<circle cx="507.5" cy="216.3" r="0.6" fill="#fcd3aa"/>
<circle cx="514.5" cy="212.4" r="0.6" fill="#fcd3aa"/>
<circle cx="509.3" cy="211.7" r="0.6" fill="#fcd3aa"/>
<circle cx="516.1" cy="179.9" r="0.6" fill="#fcd2a9"/>
<circle cx="511.3" cy="210.6" r="0.6" fill="#fcd2a8"/>
<circle cx="511.7" cy="213.8" r="0.6" fill="#fcd2a8"/>
<circle cx="512.6" cy="207.1" r="0.6" fill="#fcd2a8"/>
<circle cx="515.1" cy="213.5" r="0.6" fill="#fcd1a7"/>
<circle cx="512.4" cy="208.2" r="0.6" fill="#fcd1a7"/>
<circle cx="514.8" cy="209.7" r="0.6" fill="#fcd0a5"/>
<circle cx="517.7" cy="206.1" r="0.6" fill="#fccfa4"/>
<circle cx="510.6" cy="208.0" r="0.6" fill="#fccfa3"/>
<circle cx="516.1" cy="205.9" r="0.6" fill="#fccea2"/>
<circle cx="515.4" cy="207.5" r="0.6" fill="#fccd9f"/>
<circle cx="521.7" cy="213.9" r="0.6" fill="#fccd9f"/>
<circle cx="515.1" cy="215.2" r="0.6" fill="#fccc9f"/>
<circle cx="515.4" cy="214.3" r="0.6" fill="#fccc9e"/>
<circle cx="526.1" cy="212.1" r="0.6" fill="#fccc9e"/>
<circle cx="516.2" cy="210.2" r="0.6" fill="#fccc9e"/>
<circle cx="515.3" cy="212.3" r="0.6" fill="#fccb9c"/>
<circle cx="509.5" cy="215.6" r="0.6" fill="#fccb9c"/>
<circle cx="522.5" cy="209.5" r="0.6" fill="#fccb9c"/>
<circle cx="514.0" cy="205.3" r="0.6" fill="#fccb9c"/>
<circle cx="521.2" cy="210.0" r="0.6" fill="#fcca9b"/>
<circle cx="506.2" cy="212.9" r="0.6" fill="#fcca9b"/>
<circle cx="511.5" cy="207.6" r="0.6" fill="#fcca9a"/>
<circle cx="507.4" cy="206.3" r="0.6" fill="#fcca9a"/>
<circle cx="518.0" cy="209.7" r="0.6" fill="#fcc999"/>
<circle cx="522.4" cy="211.9" r="0.6" fill="#fcc999"/>
<circle cx="511.0" cy="207.5" r="0.6" fill="#fcc999"/>
<circle cx="508.1" cy="210.6" r="0.6" fill="#fcc898"/>
<circle cx="523.4" cy="215.9" r="0.6" fill="#fcc898"/>
<circle cx="507.0" cy="214.2" r="0.6" fill="#fcc897"/>
<circle cx="514.9" cy="212.0" r="0.6" fill="#fcc897"/>
<circle cx="528.3" cy="217.6" r="0.6" fill="#fcc896"/>
<circle cx="514.7" cy="215.9" r="0.6" fill="#fcc795"/>
<circle cx="516.0" cy="207.2" r="0.6" fill="#fcc794"/>
<circle cx="510.7" cy="215.3" r="0.6" fill="#fcc694"/>
<circle cx="510.4" cy="216.2" r="0.6" fill="#fcc491"/>
<circle cx="518.4" cy="209.3" r="0.6" fill="#fcc490"/>
<circle cx="523.4" cy="209.5" r="0.6" fill="#fcc490"/>
<circle cx="510.2" cy="207.5" r="0.6" fill="#fcc38f"/>
<circle cx="513.3" cy="214.4" r="0.6" fill="#fcc38f"/>
<circle cx="515.6" cy="183.6" r="0.6" fill="#fcc38f"/>
<circle cx="522.7" cy="212.9" r="0.6" fill="#fcc28e"/>
<circle cx="509.0" cy="216.4" r="0.6" fill="#fcc18d"/>
<circle cx="519.1" cy="213.7" r="0.6" fill="#fcc18c"/>
<circle cx="507.8" cy="209.3" r="0.6" fill="#fcc18c"/>
<circle cx="525.1" cy="210.9" r="0.6" fill="#fcc08b"/>
<circle cx="515.5" cy="214.7" r="0.6" fill="#fcc08b"/>
<circle cx="521.3" cy="211.8" r="0.6" fill="#fcbf8a"/>
<circle cx="523.1" cy="213.2" r="0.6" fill="#fcbf8a"/>
<circle cx="507.3" cy="206.4" r="0.6" fill="#fcbf8a"/>
<circle cx="525.8" cy="217.0" r="0.6" fill="#fcbf8a"/>
<circle cx="516.5" cy="206.0" r="0.6" fill="#fcbe89"/>
<circle cx="522.6" cy="209.9" r="0.6" fill="#fbbe88"/>
<circle cx="520.3" cy="213.8" r="0.6" fill="#fbbe88"/>
<circle cx="520.6" cy="207.5" r="0.6" fill="#fbbe88"/>
<circle cx="512.4" cy="210.3" r="0.6" fill="#fbbe88"/>
<circle cx="514.4" cy="207.1" r="0.6" fill="#fbbd87"/>
<circle cx="512.0" cy="215.8" r="0.6" fill="#fbbd87"/>
<circle cx="509.9" cy="215.7" r="0.6" fill="#fbbd87"/>
<circle cx="524.9" cy="213.3" r="0.6" fill="#fbbd87"/>
<circle cx="515.4" cy="214.0" r="0.6" fill="#fbbc85"/>
<circle cx="515.0" cy="205.2" r="0.6" fill="#fbbc85"/>
<circle cx="514.6" cy="207.5" r="0.6" fill="#fbbc85"/>
<circle cx="509.7" cy="210.5" r="0.6" fill="#fbbb85"/>
<circle cx="511.4" cy="209.0" r="0.6" fill="#fbbb85"/>
<circle cx="509.1" cy="210.1" r="0.6" fill="#fbbb84"/>
<circle cx="519.5" cy="213.7" r="0.6" fill="#fbba84"/>
<circle cx="515.1" cy="211.3" r="0.6" fill="#fbba83"/>
<circle cx="520.9" cy="215.4" r="0.6" fill="#fbba83"/>
<circle cx="510.0" cy="212.8" r="0.6" fill="#fbba83"/>
<circle cx="509.6" cy="215.2" r="0.6" fill="#fbb982"/>
<circle cx="521.7" cy="213.6" r="0.6" fill="#fbb982"/>
<circle cx="517.2" cy="210.2" r="0.6" fill="#fbb981"/>
<circle cx="516.2" cy="212.6" r="0.6" fill="#fbb881"/>
<circle cx="515.2" cy="184.7" r="0.6" fill="#fbb880"/>
<circle cx="522.9" cy="210.2" r="0.6" fill="#fbb780"/>
<circle cx="523.8" cy="213.0" r="0.6" fill="#fbb77f"/>
<circle cx="519.6" cy="210.1" r="0.6" fill="#fbb77f"/>
<circle cx="529.0" cy="225.7" r="0.6" fill="#fbb67f"/>
<circle cx="514.1" cy="205.2" r="0.6" fill="#fbb67e"/>
<circle cx="520.2" cy="216.2" r="0.6" fill="#fbb57d"/>
<circle cx="508.1" cy="211.1" r="0.6" fill="#fbb57d"/>
<circle cx="516.6" cy="216.6" r="0.6" fill="#fbb57d"/>
<circle cx="512.1" cy="216.0" r="0.6" fill="#fbb57d"/>
<circle cx="519.4" cy="214.4" r="0.6" fill="#fbb57d"/>
<circle cx="515.0" cy="183.2" r="0.6" fill="#fbb57d"/>
<circle cx="507.7" cy="213.7" r="0.6" fill="#fbb47c"/>
<circle cx="508.2" cy="213.4" r="0.6" fill="#fbb47c"/>
<circle cx="526.4" cy="210.5" r="0.6" fill="#fbb47b"/>
<circle cx="512.1" cy="208.9" r="0.6" fill="#fbb47b"/>
<circle cx="512.0" cy="210.0" r="0.6" fill="#fbb47b"/>
<circle cx="514.8" cy="183.2" r="0.6" fill="#fbb37b"/>
<circle cx="526.8" cy="213.0" r="0.6" fill="#fbb37b"/>
<circle cx="508.3" cy="205.5" r="0.6" fill="#fbb37a"/>
<circle cx="518.5" cy="206.0" r="0.6" fill="#fbb37a"/>
<circle cx="507.2" cy="212.8" r="0.6" fill="#fbb37a"/>
<circle cx="510.6" cy="207.7" r="0.6" fill="#fbb279"/>
<circle cx="520.4" cy="213.4" r="0.6" fill="#fbb279"/>
<circle cx="518.7" cy="209.5" r="0.6" fill="#fab178"/>
<circle cx="507.1" cy="209.4" r="0.6" fill="#fab178"/>
<circle cx="519.7" cy="208.3" r="0.6" fill="#fab178"/>
<circle cx="521.5" cy="210.4" r="0.6" fill="#fab178"/>
<circle cx="517.1" cy="214.0" r="0.6" fill="#fab178"/>
<circle cx="518.9" cy="207.9" r="0.6" fill="#fab177"/>
<circle cx="517.4" cy="216.5" r="0.6" fill="#fab077"/>
<circle cx="530.6" cy="216.7" r="0.6" fill="#fab077"/>
<circle cx="519.3" cy="208.3" r="0.6" fill="#fab077"/>
<circle cx="515.6" cy="212.6" r="0.6" fill="#fab077"/>
<circle cx="509.6" cy="205.4" r="0.6" fill="#fab077"/>
<circle cx="506.6" cy="210.5" r="0.6" fill="#fab077"/>
<circle cx="527.4" cy="218.5" r="0.6" fill="#fab076"/>
<circle cx="505.7" cy="212.1" r="0.6" fill="#fab076"/>
<circle cx="516.2" cy="215.5" r="0.6" fill="#fab076"/>
<circle cx="506.3" cy="213.4" r="0.6" fill="#fab076"/>
<circle cx="510.4" cy="205.3" r="0.6" fill="#fab076"/>
<circle cx="530.9" cy="225.3" r="0.6" fill="#faaf76"/>
<circle cx="509.4" cy="207.5" r="0.6" fill="#faaf75"/>
<circle cx="525.2" cy="212.7" r="0.6" fill="#faaf75"/>
<circle cx="512.0" cy="208.8" r="0.6" fill="#faaf75"/>
<circle cx="516.5" cy="208.3" r="0.6" fill="#faaf75"/>
<circle cx="515.5" cy="212.0" r="0.6" fill="#faaf75"/>
<circle cx="513.7" cy="210.9" r="0.6" fill="#faaf75"/>
<circle cx="514.8" cy="205.4" r="0.6" fill="#faaf75"/>
<circle cx="515.5" cy="207.2" r="0.6" fill="#faae74"/>
<circle cx="521.2" cy="215.8" r="0.6" fill="#faae74"/>
<circle cx="514.9" cy="212.1" r="0.6" fill="#faae74"/>
<circle cx="526.4" cy="215.5" r="0.6" fill="#faae74"/>
<circle cx="514.5" cy="184.2" r="0.6" fill="#faae74"/>
<circle cx="514.7" cy="183.9" r="0.6" fill="#faae74"/>
<circle cx="528.5" cy="215.0" r="0.6" fill="#faae73"/>
<circle cx="513.2" cy="213.5" r="0.6" fill="#faad73"/>
<circle cx="506.2" cy="211.0" r="0.6" fill="#faad73"/>
<circle cx="519.4" cy="211.9" r="0.6" fill="#faad73"/>
<circle cx="514.9" cy="214.0" r="0.6" fill="#faad73"/>
<circle cx="512.4" cy="212.2" r="0.6" fill="#faad72"/>
<circle cx="513.6" cy="213.7" r="0.6" fill="#faad72"/>
<circle cx="509.1" cy="215.3" r="0.6" fill="#faad72"/>
<circle cx="525.4" cy="209.2" r="0.6" fill="#faad72"/>
<circle cx="512.9" cy="214.1" r="0.6" fill="#faac72"/>
<circle cx="514.4" cy="211.0" r="0.6" fill="#faac71"/>
<circle cx="508.6" cy="214.8" r="0.6" fill="#faac71"/>
<circle cx="515.0" cy="184.6" r="0.6" fill="#faac71"/>
<circle cx="515.9" cy="205.1" r="0.6" fill="#faab70"/>
<circle cx="520.7" cy="212.2" r="0.6" fill="#faab70"/>
<circle cx="524.2" cy="221.4" r="0.6" fill="#faab70"/>
<circle cx="510.6" cy="213.4" r="0.6" fill="#faab70"/>
<circle cx="514.3" cy="210.6" r="0.6" fill="#faab70"/>
<circle cx="509.0" cy="213.9" r="0.6" fill="#faaa6f"/>
<circle cx="515.9" cy="216.0" r="0.6" fill="#faaa6f"/>
<circle cx="517.5" cy="206.3" r="0.6" fill="#faaa6f"/>
<circle cx="510.1" cy="206.4" r="0.6" fill="#faaa6e"/>
<circle cx="510.5" cy="200.5" r="0.6" fill="#faa96e"/>
<circle cx="522.0" cy="209.7" r="0.6" fill="#faa96d"/>
<circle cx="511.0" cy="210.3" r="0.6" fill="#faa96d"/>
<circle cx="519.8" cy="213.6" r="0.6" fill="#faa96d"/>
<circle cx="506.2" cy="212.8" r="0.6" fill="#faa96d"/>
<circle cx="526.1" cy="214.1" r="0.6" fill="#faa86c"/>
<circle cx="523.1" cy="211.4" r="0.6" fill="#faa86c"/>
<circle cx="526.8" cy="222.3" r="0.6" fill="#faa86c"/>
<circle cx="527.2" cy="212.5" r="0.6" fill="#faa76c"/>
<circle cx="522.0" cy="216.6" r="0.6" fill="#faa76c"/>
<circle cx="529.0" cy="218.3" r="0.6" fill="#faa76b"/>
<circle cx="514.9" cy="183.7" r="0.6" fill="#faa76b"/>
<circle cx="518.2" cy="212.2" r="0.6" fill="#faa76b"/>
<circle cx="516.3" cy="207.4" r="0.6" fill="#faa76b"/>
<circle cx="530.2" cy="223.9" r="0.6" fill="#faa76b"/>
<circle cx="514.4" cy="206.4" r="0.6" fill="#faa66a"/>
<circle cx="518.0" cy="211.4" r="0.6" fill="#faa66a"/>
<circle cx="516.1" cy="210.4" r="0.6" fill="#faa66a"/>
<circle cx="510.4" cy="213.3" r="0.6" fill="#faa66a"/>
<circle cx="511.1" cy="217.0" r="0.6" fill="#f9a66a"/>
<circle cx="523.1" cy="217.6" r="0.6" fill="#f9a669"/>
<circle cx="516.2" cy="215.5" r="0.6" fill="#f9a569"/>
<circle cx="529.4" cy="225.4" r="0.6" fill="#f9a569"/>
<circle cx="509.5" cy="206.1" r="0.6" fill="#f9a569"/>
<circle cx="520.2" cy="209.7" r="0.6" fill="#f9a568"/>
<circle cx="523.2" cy="220.0" r="0.6" fill="#f9a568"/>
<circle cx="528.6" cy="219.3" r="0.6" fill="#f9a568"/>
<circle cx="513.3" cy="213.6" r="0.6" fill="#f9a568"/>
<circle cx="522.6" cy="208.7" r="0.6" fill="#f9a568"/>
<circle cx="520.3" cy="212.3" r="0.6" fill="#f9a568"/>
<circle cx="508.2" cy="216.1" r="0.6" fill="#f9a468"/>
<circle cx="530.5" cy="217.8" r="0.6" fill="#f9a468"/>
<circle cx="515.4" cy="181.6" r="0.6" fill="#f9a467"/>
<circle cx="506.9" cy="212.6" r="0.6" fill="#f9a467"/>
<circle cx="506.9" cy="212.1" r="0.6" fill="#f9a467"/>
<circle cx="521.6" cy="208.6" r="0.6" fill="#f9a366"/>
<circle cx="509.6" cy="207.9" r="0.6" fill="#f9a366"/>
<circle cx="524.0" cy="214.1" r="0.6" fill="#f9a366"/>
<circle cx="524.3" cy="209.0" r="0.6" fill="#f9a366"/>
<circle cx="512.5" cy="215.5" r="0.6" fill="#f9a366"/>
<circle cx="530.4" cy="222.1" r="0.6" fill="#f9a365"/>
<circle cx="524.2" cy="216.6" r="0.6" fill="#f9a365"/>
<circle cx="510.6" cy="212.3" r="0.6" fill="#f9a265"/>
<circle cx="525.6" cy="213.3" r="0.6" fill="#f9a265"/>
<circle cx="515.4" cy="211.7" r="0.6" fill="#f9a264"/>
<circle cx="514.1" cy="205.6" r="0.6" fill="#f9a264"/>
<circle cx="520.5" cy="213.3" r="0.6" fill="#f9a264"/>
<circle cx="516.0" cy="208.6" r="0.6" fill="#f9a264"/>
<circle cx="522.8" cy="208.6" r="0.6" fill="#f9a264"/>
<circle cx="516.6" cy="205.9" r="0.6" fill="#f9a264"/>
<circle cx="511.3" cy="213.9" r="0.6" fill="#f9a164"/>
<circle cx="518.0" cy="215.7" r="0.6" fill="#f9a163"/>
<circle cx="518.9" cy="210.0" r="0.6" fill="#f9a163"/>
<circle cx="513.4" cy="208.2" r="0.6" fill="#f9a062"/>
<circle cx="521.2" cy="214.9" r="0.6" fill="#f9a062"/>
<circle cx="512.5" cy="212.1" r="0.6" fill="#f9a062"/>
<circle cx="516.5" cy="214.7" r="0.6" fill="#f9a062"/>
<circle cx="513.4" cy="216.5" r="0.6" fill="#f9a062"/>
<circle cx="531.7" cy="224.6" r="0.6" fill="#f99f62"/>
<circle cx="527.6" cy="215.0" r="0.6" fill="#f99f61"/>
<circle cx="516.6" cy="181.9" r="0.6" fill="#f99f61"/>
<circle cx="511.7" cy="210.4" r="0.6" fill="#f99e61"/>
<circle cx="530.2" cy="216.7" r="0.6" fill="#f99e61"/>
<circle cx="507.1" cy="207.0" r="0.6" fill="#f99e61"/>
<circle cx="518.1" cy="209.7" r="0.6" fill="#f99d61"/>
<circle cx="523.0" cy="217.6" r="0.6" fill="#f99d60"/>
<circle cx="516.4" cy="215.1" r="0.6" fill="#f99d60"/>
<circle cx="529.9" cy="223.8" r="0.6" fill="#f99d60"/>
<circle cx="527.8" cy="219.0" r="0.6" fill="#f89d60"/>
<circle cx="519.7" cy="206.5" r="0.6" fill="#f89c60"/>
<circle cx="517.3" cy="217.2" r="0.6" fill="#f89c60"/>
<circle cx="528.6" cy="218.5" r="0.6" fill="#f89b60"/>
<circle cx="524.3" cy="216.1" r="0.6" fill="#f89b5f"/>
<circle cx="530.6" cy="217.1" r="0.6" fill="#f89b5f"/>
<circle cx="515.5" cy="184.1" r="0.6" fill="#f89a5f"/>
<circle cx="513.0" cy="214.3" r="0.6" fill="#f89a5f"/>
<circle cx="516.7" cy="210.8" r="0.6" fill="#f89a5f"/>
<circle cx="517.1" cy="207.1" r="0.6" fill="#f8995e"/>
<circle cx="510.0" cy="208.3" r="0.6" fill="#f8995e"/>
<circle cx="525.3" cy="214.4" r="0.6" fill="#f8995e"/>
<circle cx="518.1" cy="207.0" r="0.6" fill="#f8995e"/>
<circle cx="524.9" cy="219.4" r="0.6" fill="#f8995e"/>
<circle cx="508.1" cy="207.9" r="0.6" fill="#f8995e"/>
<circle cx="507.9" cy="211.6" r="0.6" fill="#f8995e"/>
<circle cx="520.0" cy="211.4" r="0.6" fill="#f8995e"/>
<circle cx="526.2" cy="216.7" r="0.6" fill="#f8995e"/>
<circle cx="529.6" cy="219.5" r="0.6" fill="#f8985e"/>
<circle cx="524.3" cy="211.9" r="0.6" fill="#f8985e"/>
<circle cx="532.1" cy="217.3" r="0.6" fill="#f8975d"/>
<circle cx="515.9" cy="182.6" r="0.6" fill="#f8975d"/>
<circle cx="528.7" cy="220.2" r="0.6" fill="#f8975d"/>
<circle cx="522.1" cy="210.4" r="0.6" fill="#f8975d"/>
<circle cx="515.4" cy="183.1" r="0.6" fill="#f8965d"/>
<circle cx="529.3" cy="225.4" r="0.6" fill="#f7965c"/>
<circle cx="522.2" cy="212.8" r="0.6" fill="#f7955c"/>
<circle cx="528.8" cy="219.4" r="0.6" fill="#f7955c"/>
<circle cx="530.5" cy="217.5" r="0.6" fill="#f7955c"/>
<circle cx="526.5" cy="217.4" r="0.6" fill="#f7955c"/>
<circle cx="517.2" cy="210.6" r="0.6" fill="#f7955c"/>
<circle cx="516.9" cy="212.0" r="0.6" fill="#f7955c"/>
<circle cx="515.3" cy="212.8" r="0.6" fill="#f7955c"/>
<circle cx="505.8" cy="213.3" r="0.6" fill="#f7945c"/>
<circle cx="521.3" cy="207.5" r="0.6" fill="#f7945b"/>
<circle cx="509.1" cy="211.6" r="0.6" fill="#f7945b"/>
<circle cx="516.8" cy="206.5" r="0.6" fill="#f7935b"/>
<circle cx="523.1" cy="209.9" r="0.6" fill="#f7935b"/>
<circle cx="511.4" cy="212.6" r="0.6" fill="#f7935b"/>
<circle cx="523.7" cy="211.2" r="0.6" fill="#f7935b"/>
<circle cx="513.8" cy="215.4" r="0.6" fill="#f7935b"/>
<circle cx="526.3" cy="209.3" r="0.6" fill="#f7935b"/>
<circle cx="520.8" cy="212.1" r="0.6" fill="#f7925a"/>
<circle cx="515.0" cy="216.5" r="0.6" fill="#f7915a"/>
<circle cx="508.0" cy="216.6" r="0.6" fill="#f7915a"/>
<circle cx="517.6" cy="209.6" r="0.6" fill="#f7915a"/>
<circle cx="506.7" cy="210.0" r="0.6" fill="#f7915a"/>
<circle cx="523.9" cy="210.2" r="0.6" fill="#f79059"/>
<circle cx="527.3" cy="222.1" r="0.6" fill="#f79059"/>
<circle cx="521.2" cy="209.3" r="0.6" fill="#f79059"/>
<circle cx="531.7" cy="223.4" r="0.6" fill="#f79059"/>
<circle cx="506.7" cy="206.6" r="0.6" fill="#f78f59"/>
<circle cx="509.0" cy="207.1" r="0.6" fill="#f78f59"/>
<circle cx="515.5" cy="184.5" r="0.6" fill="#f78f59"/>
<circle cx="508.9" cy="207.4" r="0.6" fill="#f78f59"/>
<circle cx="524.4" cy="218.6" r="0.6" fill="#f68f59"/>
<circle cx="511.1" cy="199.4" r="0.6" fill="#f68e58"/>
<circle cx="515.7" cy="212.4" r="0.6" fill="#f68e58"/>
<circle cx="523.6" cy="211.1" r="0.6" fill="#f68e58"/>
<circle cx="520.7" cy="208.1" r="0.6" fill="#f68d58"/>
<circle cx="523.4" cy="212.0" r="0.6" fill="#f68c57"/>
<circle cx="516.1" cy="216.8" r="0.6" fill="#f68c57"/>
<circle cx="512.4" cy="205.7" r="0.6" fill="#f68c57"/>
<circle cx="517.0" cy="179.6" r="0.6" fill="#f68c57"/>
<circle cx="514.7" cy="214.0" r="0.6" fill="#f68b57"/>
<circle cx="521.6" cy="214.7" r="0.6" fill="#f68a56"/>
<circle cx="517.1" cy="178.7" r="0.6" fill="#f68a56"/>
<circle cx="525.0" cy="220.9" r="0.6" fill="#f68a56"/>
<circle cx="521.6" cy="212.3" r="0.6" fill="#f68a56"/>
<circle cx="526.1" cy="217.5" r="0.6" fill="#f68956"/>
<circle cx="526.7" cy="212.4" r="0.6" fill="#f68956"/>
<circle cx="514.3" cy="214.4" r="0.6" fill="#f68955"/>
<circle cx="515.4" cy="214.8" r="0.6" fill="#f68955"/>
<circle cx="508.6" cy="211.1" r="0.6" fill="#f68955"/>
<circle cx="510.7" cy="208.0" r="0.6" fill="#f68855"/>
<circle cx="507.3" cy="216.6" r="0.6" fill="#f68855"/>
<circle cx="516.2" cy="181.5" r="0.6" fill="#f68855"/>
<circle cx="514.8" cy="208.3" r="0.6" fill="#f58755"/>
<circle cx="510.9" cy="200.8" r="0.6" fill="#f58754"/>
<circle cx="516.5" cy="217.4" r="0.6" fill="#f58754"/>
<circle cx="526.1" cy="224.0" r="0.6" fill="#f58754"/>
<circle cx="509.6" cy="210.4" r="0.6" fill="#f58754"/>
<circle cx="510.5" cy="208.5" r="0.6" fill="#f58654"/>
<circle cx="531.8" cy="218.5" r="0.6" fill="#f58654"/>
<circle cx="518.6" cy="209.4" r="0.6" fill="#f58654"/>
<circle cx="512.4" cy="208.1" r="0.6" fill="#f58654"/>
<circle cx="526.2" cy="212.4" r="0.6" fill="#f58654"/>
<circle cx="516.3" cy="180.5" r="0.6" fill="#f58554"/>
<circle cx="509.2" cy="207.2" r="0.6" fill="#f58553"/>
<circle cx="520.0" cy="215.7" r="0.6" fill="#f58553"/>
<circle cx="510.4" cy="202.0" r="0.6" fill="#f58553"/>
<circle cx="515.6" cy="207.9" r="0.6" fill="#f58553"/>
<circle cx="510.6" cy="201.8" r="0.6" fill="#f58453"/>
<circle cx="511.0" cy="213.6" r="0.6" fill="#f58453"/>
<circle cx="509.9" cy="203.0" r="0.6" fill="#f58453"/>
<circle cx="531.6" cy="223.7" r="0.6" fill="#f58453"/>
<circle cx="532.1" cy="219.7" r="0.6" fill="#f58453"/>
<circle cx="522.8" cy="211.0" r="0.6" fill="#f58353"/>
<circle cx="516.7" cy="206.2" r="0.6" fill="#f58352"/>
<circle cx="524.4" cy="222.9" r="0.6" fill="#f58352"/>
<circle cx="524.2" cy="213.2" r="0.6" fill="#f58252"/>
<circle cx="514.5" cy="215.6" r="0.6" fill="#f58252"/>
<circle cx="523.5" cy="213.7" r="0.6" fill="#f58252"/>
<circle cx="514.9" cy="211.3" r="0.6" fill="#f58151"/>
<circle cx="510.7" cy="202.6" r="0.6" fill="#f48151"/>
<circle cx="514.7" cy="209.9" r="0.6" fill="#f48051"/>
<circle cx="526.3" cy="220.3" r="0.6" fill="#f48051"/>
<circle cx="532.3" cy="222.4" r="0.6" fill="#f47f50"/>
<circle cx="517.4" cy="179.4" r="0.6" fill="#f47e50"/>
<circle cx="514.4" cy="210.7" r="0.6" fill="#f47c4e"/>
<circle cx="510.5" cy="213.2" r="0.6" fill="#f47c4e"/>
<circle cx="513.0" cy="206.0" r="0.6" fill="#f47b4e"/>
<circle cx="515.0" cy="207.1" r="0.6" fill="#f47b4e"/>
<circle cx="528.8" cy="224.4" r="0.6" fill="#f47a4e"/>
<circle cx="511.6" cy="200.6" r="0.6" fill="#f3794d"/>
<circle cx="521.3" cy="214.7" r="0.6" fill="#f3794d"/>
<circle cx="520.3" cy="211.9" r="0.6" fill="#f3794d"/>
<circle cx="512.2" cy="205.1" r="0.6" fill="#f3794d"/>
<circle cx="524.9" cy="209.2" r="0.6" fill="#f3794d"/>
<circle cx="529.2" cy="216.0" r="0.6" fill="#f3794d"/>
<circle cx="506.2" cy="212.9" r="0.6" fill="#f3774c"/>
<circle cx="511.1" cy="206.7" r="0.6" fill="#f3774c"/>
<circle cx="518.2" cy="213.8" r="0.6" fill="#f3774c"/>
<circle cx="524.4" cy="215.0" r="0.6" fill="#f3774c"/>
<circle cx="530.8" cy="218.8" r="0.6" fill="#f3764c"/>
<circle cx="520.7" cy="213.9" r="0.6" fill="#f3764b"/>
<circle cx="528.6" cy="218.0" r="0.6" fill="#f3754b"/>
<circle cx="519.0" cy="211.9" r="0.6" fill="#f3754b"/>
<circle cx="511.9" cy="213.8" r="0.6" fill="#f3744a"/>
<circle cx="524.6" cy="219.3" r="0.6" fill="#f27349"/>
<circle cx="512.9" cy="210.0" r="0.6" fill="#f27249"/>
<circle cx="523.6" cy="220.1" r="0.6" fill="#f27148"/>
<circle cx="508.9" cy="210.5" r="0.6" fill="#f26f48"/>
<circle cx="530.3" cy="221.8" r="0.6" fill="#f16f48"/>
<circle cx="521.7" cy="212.9" r="0.6" fill="#f16e49"/>
<circle cx="518.5" cy="217.1" r="0.6" fill="#f16d49"/>
<circle cx="514.5" cy="211.0" r="0.6" fill="#f16d49"/>
<circle cx="524.8" cy="209.0" r="0.6" fill="#f16c49"/>
<circle cx="527.1" cy="215.8" r="0.6" fill="#ef694a"/>
<circle cx="531.9" cy="217.4" r="0.6" fill="#ef694a"/>
<circle cx="521.4" cy="215.1" r="0.6" fill="#ef684a"/>
<circle cx="515.0" cy="215.9" r="0.6" fill="#ef684a"/>
<circle cx="522.7" cy="219.7" r="0.6" fill="#ef684a"/>
<circle cx="523.5" cy="219.4" r="0.6" fill="#ee664b"/>
<circle cx="530.7" cy="224.1" r="0.6" fill="#ee664b"/>
<circle cx="525.3" cy="209.4" r="0.6" fill="#ed644c"/>
<circle cx="515.5" cy="184.1" r="0.6" fill="#ec624c"/>
<circle cx="521.3" cy="208.1" r="0.6" fill="#ec604d"/>
<circle cx="510.9" cy="215.3" r="0.6" fill="#eb5e4d"/>
<circle cx="530.7" cy="224.1" r="0.6" fill="#ea5c4e"/>
<circle cx="513.3" cy="215.7" r="0.6" fill="#e8584f"/>
<circle cx="533.7" cy="208.9" r="0.6" fill="#e8574f"/>
<circle cx="525.2" cy="215.9" r="0.6" fill="#e14754"/>
<circle cx="527.6" cy="216.0" r="0.6" fill="#de3e57"/>
<circle cx="539.9" cy="198.3" r="0.6" fill="#de3e57"/>
<circle cx="534.6" cy="212.7" r="0.6" fill="#dc3a58"/>
<circle cx="532.6" cy="209.7" r="0.6" fill="#db3958"/>
<circle cx="523.0" cy="219.4" r="0.6" fill="#db3958"/>
<circle cx="531.1" cy="216.9" r="0.6" fill="#db3958"/>
<circle cx="547.9" cy="207.9" r="0.6" fill="#d7365a"/>
<circle cx="540.1" cy="202.4" r="0.6" fill="#d6355b"/>
<circle cx="532.4" cy="220.3" r="0.6" fill="#d5345b"/>
<circle cx="535.7" cy="209.8" r="0.6" fill="#d3325c"/>
<circle cx="532.0" cy="219.6" r="0.6" fill="#d2325c"/>
<circle cx="531.4" cy="217.2" r="0.6" fill="#cf2f5e"/>
<circle cx="533.2" cy="211.5" r="0.6" fill="#ce2e5e"/>
<circle cx="527.9" cy="209.9" r="0.6" fill="#cc2d5f"/>
<circle cx="533.8" cy="207.9" r="0.6" fill="#cc2d5f"/>
<circle cx="531.5" cy="223.9" r="0.6" fill="#ca2b60"/>
<circle cx="534.8" cy="210.9" r="0.6" fill="#c62961"/>
<circle cx="541.6" cy="200.5" r="0.6" fill="#c62861"/>
<circle cx="533.9" cy="212.2" r="0.6" fill="#c52762"/>
<circle cx="528.2" cy="210.8" r="0.6" fill="#c52762"/>
<circle cx="539.3" cy="197.3" r="0.6" fill="#c32663"/>
<circle cx="532.2" cy="210.2" r="0.6" fill="#c32663"/>
<circle cx="531.7" cy="209.5" r="0.6" fill="#c22563"/>
<circle cx="529.0" cy="208.6" r="0.6" fill="#c12464"/>
<circle cx="532.2" cy="209.7" r="0.6" fill="#c02364"/>
<circle cx="532.8" cy="208.5" r="0.6" fill="#bf2264"/>
<circle cx="539.9" cy="197.1" r="0.6" fill="#bf2265"/>
<circle cx="530.4" cy="208.7" r="0.6" fill="#be2265"/>
<circle cx="532.6" cy="213.2" r="0.6" fill="#be2265"/>
<circle cx="535.5" cy="210.2" r="0.6" fill="#be2265"/>
<circle cx="534.5" cy="213.2" r="0.6" fill="#be2165"/>
<circle cx="528.0" cy="217.7" r="0.6" fill="#bd2165"/>
<circle cx="544.3" cy="207.0" r="0.6" fill="#bd2165"/>
<circle cx="541.7" cy="200.6" r="0.6" fill="#bc2066"/>
<circle cx="548.1" cy="206.2" r="0.6" fill="#bc2066"/>
<circle cx="546.6" cy="210.8" r="0.6" fill="#ba1f66"/>
<circle cx="545.9" cy="199.7" r="0.6" fill="#ba1e67"/>
<circle cx="547.1" cy="206.4" r="0.6" fill="#ba1e67"/>
<circle cx="539.2" cy="199.0" r="0.6" fill="#b91e67"/>
<circle cx="542.1" cy="206.0" r="0.6" fill="#b91d67"/>
<circle cx="528.1" cy="222.3" r="0.6" fill="#b81d67"/>
<circle cx="539.0" cy="196.4" r="0.6" fill="#b81d67"/>
<circle cx="530.5" cy="212.6" r="0.6" fill="#b71c68"/>
<circle cx="527.0" cy="215.1" r="0.6" fill="#b71c68"/>
<circle cx="548.1" cy="204.2" r="0.6" fill="#b71c68"/>
<circle cx="539.3" cy="203.4" r="0.6" fill="#b61c68"/>
<circle cx="528.6" cy="222.2" r="0.6" fill="#b61b68"/>
<circle cx="540.9" cy="200.3" r="0.6" fill="#b61b68"/>
<circle cx="529.9" cy="212.7" r="0.6" fill="#b51b69"/>
<circle cx="547.5" cy="209.8" r="0.6" fill="#b51a69"/>
<circle cx="534.8" cy="209.7" r="0.6" fill="#b51a69"/>
<circle cx="522.8" cy="215.2" r="0.6" fill="#b41a69"/>
<circle cx="533.7" cy="212.7" r="0.6" fill="#b41a69"/>
<circle cx="530.9" cy="208.9" r="0.6" fill="#b41a69"/>
<circle cx="533.7" cy="211.9" r="0.6" fill="#b31969"/>
<circle cx="546.0" cy="198.8" r="0.6" fill="#b3196a"/>
<circle cx="541.5" cy="204.3" r="0.6" fill="#b2186a"/>
<circle cx="531.4" cy="212.0" r="0.6" fill="#b2186a"/>
<circle cx="531.3" cy="212.4" r="0.6" fill="#b2186a"/>
<circle cx="546.8" cy="211.5" r="0.6" fill="#b2186a"/>
<circle cx="534.4" cy="211.6" r="0.6" fill="#b1186a"/>
<circle cx="530.8" cy="222.1" r="0.6" fill="#b1186a"/>
<circle cx="535.3" cy="207.7" r="0.6" fill="#b0186a"/>
<circle cx="546.8" cy="207.6" r="0.6" fill="#b0186a"/>
<circle cx="528.4" cy="215.8" r="0.6" fill="#b0186a"/>
<circle cx="548.3" cy="211.4" r="0.6" fill="#b0186a"/>
<circle cx="528.1" cy="212.7" r="0.6" fill="#b0186a"/>
<circle cx="548.0" cy="203.7" r="0.6" fill="#b0186a"/>
<circle cx="548.8" cy="206.1" r="0.6" fill="#af176a"/>
<circle cx="546.5" cy="198.1" r="0.6" fill="#af176a"/>
<circle cx="535.8" cy="209.1" r="0.6" fill="#ae176a"/>
<circle cx="534.0" cy="209.9" r="0.6" fill="#ae176a"/>
<circle cx="540.8" cy="202.8" r="0.6" fill="#ad176a"/>
<circle cx="532.5" cy="208.0" r="0.6" fill="#ad176a"/>
<circle cx="546.0" cy="201.2" r="0.6" fill="#ac176a"/>
<circle cx="545.4" cy="198.1" r="0.6" fill="#ac176a"/>
<circle cx="530.7" cy="208.4" r="0.6" fill="#ab176a"/>
<circle cx="546.9" cy="205.6" r="0.6" fill="#ab176a"/>
<circle cx="540.8" cy="203.3" r="0.6" fill="#aa166a"/>
<circle cx="531.8" cy="209.6" r="0.6" fill="#aa166a"/>
<circle cx="548.4" cy="200.4" r="0.6" fill="#aa166a"/>
<circle cx="538.3" cy="195.6" r="0.6" fill="#a91669"/>
<circle cx="547.2" cy="210.8" r="0.6" fill="#a91669"/>
<circle cx="547.9" cy="203.8" r="0.6" fill="#a91669"/>
<circle cx="540.5" cy="206.7" r="0.6" fill="#a91669"/>
<circle cx="546.8" cy="200.7" r="0.6" fill="#a81669"/>
<circle cx="546.2" cy="204.2" r="0.6" fill="#a81669"/>
<circle cx="534.6" cy="211.0" r="0.6" fill="#a71669"/>
<circle cx="538.4" cy="196.4" r="0.6" fill="#a71669"/>
<circle cx="532.5" cy="212.8" r="0.6" fill="#a71669"/>
<circle cx="546.0" cy="200.7" r="0.6" fill="#a71669"/>
<circle cx="527.8" cy="209.2" r="0.6" fill="#a61569"/>
<circle cx="546.4" cy="208.1" r="0.6" fill="#a61569"/>
<circle cx="539.5" cy="194.4" r="0.6" fill="#a61569"/>
<circle cx="541.3" cy="200.6" r="0.6" fill="#a61569"/>
<circle cx="548.1" cy="201.3" r="0.6" fill="#a51569"/>
<circle cx="542.0" cy="204.7" r="0.6" fill="#a51569"/>
<circle cx="539.1" cy="202.2" r="0.6" fill="#a51569"/>
<circle cx="548.3" cy="201.0" r="0.6" fill="#a51569"/>
<circle cx="547.8" cy="208.4" r="0.6" fill="#a51569"/>
<circle cx="540.2" cy="197.5" r="0.6" fill="#a41569"/>
<circle cx="547.3" cy="201.4" r="0.6" fill="#a41569"/>
<circle cx="527.7" cy="210.7" r="0.6" fill="#a41569"/>
<circle cx="547.0" cy="208.5" r="0.6" fill="#a41569"/>
<circle cx="540.5" cy="208.0" r="0.6" fill="#a31569"/>
<circle cx="546.6" cy="203.4" r="0.6" fill="#a31569"/>
<circle cx="540.5" cy="196.1" r="0.6" fill="#a21569"/>
<circle cx="539.2" cy="202.5" r="0.6" fill="#a21469"/>
<circle cx="546.6" cy="196.0" r="0.6" fill="#a21469"/>
<circle cx="547.7" cy="207.6" r="0.6" fill="#a11469"/>
<circle cx="540.8" cy="205.3" r="0.6" fill="#a11469"/>
<circle cx="533.7" cy="210.6" r="0.6" fill="#a11469"/>
<circle cx="539.9" cy="200.7" r="0.6" fill="#a01469"/>
<circle cx="545.5" cy="197.4" r="0.6" fill="#a01469"/>
<circle cx="546.9" cy="202.1" r="0.6" fill="#9f1469"/>
<circle cx="540.7" cy="205.6" r="0.6" fill="#9f1469"/>
<circle cx="532.4" cy="219.2" r="0.6" fill="#9f1469"/>
<circle cx="546.2" cy="198.2" r="0.6" fill="#9f1469"/>
<circle cx="546.6" cy="202.4" r="0.6" fill="#9f1469"/>
<circle cx="541.4" cy="206.7" r="0.6" fill="#9e1469"/>
<circle cx="539.7" cy="199.7" r="0.6" fill="#9e1469"/>
<circle cx="541.9" cy="206.6" r="0.6" fill="#9d1369"/>
<circle cx="545.4" cy="212.1" r="0.6" fill="#9d1369"/>
<circle cx="530.5" cy="209.2" r="0.6" fill="#9d1369"/>
<circle cx="547.1" cy="207.8" r="0.6" fill="#9c1369"/>
<circle cx="539.7" cy="197.7" r="0.6" fill="#9c1369"/>
<circle cx="541.3" cy="201.0" r="0.6" fill="#9c1369"/>
<circle cx="539.8" cy="205.5" r="0.6" fill="#9c1369"/>
<circle cx="539.4" cy="199.7" r="0.6" fill="#9c1369"/>
<circle cx="547.0" cy="206.4" r="0.6" fill="#9b1369"/>
<circle cx="548.0" cy="207.0" r="0.6" fill="#9b1369"/>
<circle cx="532.0" cy="212.9" r="0.6" fill="#9a1369"/>
<circle cx="541.1" cy="199.0" r="0.6" fill="#9a1369"/>
<circle cx="540.4" cy="198.2" r="0.6" fill="#9a1369"/>
<circle cx="547.1" cy="202.1" r="0.6" fill="#9a1369"/>
<circle cx="548.3" cy="201.6" r="0.6" fill="#9a1369"/>
<circle cx="542.0" cy="205.3" r="0.6" fill="#991369"/>
<circle cx="526.0" cy="224.0" r="0.6" fill="#991369"/>
<circle cx="539.5" cy="204.6" r="0.6" fill="#991369"/>
<circle cx="545.7" cy="198.2" r="0.6" fill="#991269"/>
<circle cx="545.3" cy="208.8" r="0.6" fill="#991269"/>
<circle cx="547.4" cy="200.6" r="0.6" fill="#991269"/>
<circle cx="541.7" cy="207.1" r="0.6" fill="#981269"/>
<circle cx="539.8" cy="195.5" r="0.6" fill="#981269"/>
<circle cx="538.9" cy="199.4" r="0.6" fill="#981269"/>
<circle cx="548.5" cy="206.7" r="0.6" fill="#971269"/>
<circle cx="546.5" cy="207.4" r="0.6" fill="#971269"/>
<circle cx="547.7" cy="208.1" r="0.6" fill="#971268"/>
<circle cx="540.7" cy="198.6" r="0.6" fill="#971268"/>
<circle cx="546.1" cy="201.6" r="0.6" fill="#961268"/>
<circle cx="546.7" cy="211.8" r="0.6" fill="#961268"/>
<circle cx="542.3" cy="207.1" r="0.6" fill="#961268"/>
<circle cx="547.5" cy="203.9" r="0.6" fill="#961268"/>
<circle cx="548.0" cy="211.2" r="0.6" fill="#961268"/>
<circle cx="547.7" cy="196.8" r="0.6" fill="#951268"/>
<circle cx="539.9" cy="206.4" r="0.6" fill="#941168"/>
<circle cx="542.0" cy="206.7" r="0.6" fill="#941168"/>
<circle cx="541.2" cy="198.5" r="0.6" fill="#941168"/>
<circle cx="533.0" cy="210.2" r="0.6" fill="#941168"/>
<circle cx="542.1" cy="202.8" r="0.6" fill="#941168"/>
<circle cx="528.4" cy="211.3" r="0.6" fill="#941168"/>
<circle cx="539.8" cy="200.1" r="0.6" fill="#941168"/>
<circle cx="548.0" cy="196.0" r="0.6" fill="#941168"/>
<circle cx="538.7" cy="196.9" r="0.6" fill="#931168"/>
<circle cx="546.9" cy="208.4" r="0.6" fill="#931168"/>
<circle cx="540.2" cy="201.3" r="0.6" fill="#931168"/>
<circle cx="546.7" cy="197.1" r="0.6" fill="#921168"/>
<circle cx="547.3" cy="199.6" r="0.6" fill="#921168"/>
<circle cx="548.4" cy="201.0" r="0.6" fill="#921168"/>
<circle cx="541.3" cy="206.2" r="0.6" fill="#921168"/>
<circle cx="540.5" cy="194.7" r="0.6" fill="#911168"/>
<circle cx="535.0" cy="208.9" r="0.6" fill="#911168"/>
<circle cx="540.2" cy="207.8" r="0.6" fill="#911168"/>
<circle cx="548.9" cy="208.3" r="0.6" fill="#911168"/>
<circle cx="528.0" cy="217.5" r="0.6" fill="#901168"/>
<circle cx="538.1" cy="213.0" r="0.6" fill="#901068"/>
<circle cx="547.5" cy="198.5" r="0.6" fill="#901068"/>
<circle cx="540.2" cy="206.5" r="0.6" fill="#901068"/>
<circle cx="539.3" cy="194.8" r="0.6" fill="#901068"/>
<circle cx="532.4" cy="210.7" r="0.6" fill="#901068"/>
<circle cx="540.9" cy="206.8" r="0.6" fill="#901068"/>
<circle cx="546.1" cy="202.9" r="0.6" fill="#8f1068"/>
<circle cx="546.9" cy="210.5" r="0.6" fill="#8f1068"/>
<circle cx="539.2" cy="201.0" r="0.6" fill="#8f1068"/>
<circle cx="545.7" cy="199.4" r="0.6" fill="#8f1068"/>
<circle cx="541.7" cy="208.5" r="0.6" fill="#8e1068"/>
<circle cx="547.8" cy="209.4" r="0.6" fill="#8e1068"/>
<circle cx="548.5" cy="210.5" r="0.6" fill="#8e1068"/>
<circle cx="535.5" cy="212.3" r="0.6" fill="#8e1068"/>
<circle cx="539.7" cy="209.9" r="0.6" fill="#8d1068"/>
<circle cx="539.0" cy="201.2" r="0.6" fill="#8d1068"/>
<circle cx="539.8" cy="207.7" r="0.6" fill="#8d1068"/>
<circle cx="546.7" cy="208.7" r="0.6" fill="#8d1068"/>
<circle cx="542.2" cy="209.2" r="0.6" fill="#8d1068"/>
<circle cx="533.2" cy="210.9" r="0.6" fill="#8d1068"/>
<circle cx="537.8" cy="208.1" r="0.6" fill="#8d1068"/>
<circle cx="541.0" cy="207.1" r="0.6" fill="#8c1067"/>
<circle cx="540.2" cy="203.5" r="0.6" fill="#8c1067"/>
<circle cx="542.2" cy="205.9" r="0.6" fill="#8c1067"/>
<circle cx="536.3" cy="219.1" r="0.6" fill="#8b1067"/>
<circle cx="547.8" cy="211.5" r="0.6" fill="#8b1067"/>
<circle cx="544.1" cy="211.6" r="0.6" fill="#8b1067"/>
<circle cx="539.0" cy="199.9" r="0.6" fill="#8a1066"/>
<circle cx="541.0" cy="211.0" r="0.6" fill="#8a1066"/>
<circle cx="547.5" cy="211.9" r="0.6" fill="#891066"/>
<circle cx="546.2" cy="200.4" r="0.6" fill="#891066"/>
<circle cx="547.5" cy="209.3" r="0.6" fill="#891066"/>
<circle cx="537.5" cy="217.2" r="0.6" fill="#881066"/>
<circle cx="534.0" cy="223.0" r="0.6" fill="#881066"/>
<circle cx="544.7" cy="210.9" r="0.6" fill="#881066"/>
<circle cx="546.1" cy="211.1" r="0.6" fill="#870f66"/>
<circle cx="534.5" cy="208.8" r="0.6" fill="#870f65"/>
<circle cx="541.6" cy="208.2" r="0.6" fill="#860f65"/>
<circle cx="541.9" cy="207.6" r="0.6" fill="#860f65"/>
<circle cx="533.8" cy="220.2" r="0.6" fill="#860f65"/>
<circle cx="541.9" cy="208.6" r="0.6" fill="#850f65"/>
<circle cx="542.1" cy="207.9" r="0.6" fill="#850f65"/>
<circle cx="539.7" cy="206.0" r="0.6" fill="#850f65"/>
<circle cx="539.8" cy="198.4" r="0.6" fill="#850f64"/>
<circle cx="540.2" cy="203.5" r="0.6" fill="#830f64"/>
<circle cx="546.1" cy="201.5" r="0.6" fill="#830f64"/>
<circle cx="533.9" cy="219.5" r="0.6" fill="#830f64"/>
<circle cx="534.7" cy="207.7" r="0.6" fill="#820f64"/>
<circle cx="540.8" cy="209.7" r="0.6" fill="#820f63"/>
<circle cx="548.5" cy="202.1" r="0.6" fill="#820f63"/>
<circle cx="547.1" cy="206.6" r="0.6" fill="#800f63"/>
<circle cx="546.2" cy="206.6" r="0.6" fill="#800f63"/>
<circle cx="538.6" cy="215.1" r="0.6" fill="#7f0f62"/>
<circle cx="543.3" cy="211.4" r="0.6" fill="#7f0f62"/>
<circle cx="537.6" cy="211.0" r="0.6" fill="#7f0f62"/>
<circle cx="543.0" cy="211.8" r="0.6" fill="#7e0f62"/>
<circle cx="538.5" cy="208.6" r="0.6" fill="#7e0f62"/>
<circle cx="547.1" cy="207.3" r="0.6" fill="#7e0f62"/>
<circle cx="544.9" cy="207.7" r="0.6" fill="#7d0f62"/>
<circle cx="547.4" cy="211.9" r="0.6" fill="#7d0f62"/>
<circle cx="533.5" cy="223.0" r="0.6" fill="#7d0f62"/>
<circle cx="541.5" cy="198.9" r="0.6" fill="#7d0f62"/>
<circle cx="540.2" cy="209.1" r="0.6" fill="#7d0f62"/>
<circle cx="539.4" cy="216.6" r="0.6" fill="#7d0f62"/>
<circle cx="546.2" cy="211.8" r="0.6" fill="#7d0f62"/>
<circle cx="544.6" cy="212.6" r="0.6" fill="#7d0f62"/>
<circle cx="534.7" cy="222.3" r="0.6" fill="#7b0e61"/>
<circle cx="533.2" cy="222.4" r="0.6" fill="#7a0e61"/>
<circle cx="540.2" cy="216.2" r="0.6" fill="#7a0e61"/>
<circle cx="545.4" cy="211.0" r="0.6" fill="#7a0e61"/>
<circle cx="538.8" cy="200.4" r="0.6" fill="#7a0e61"/>
<circle cx="537.4" cy="220.0" r="0.6" fill="#7a0e61"/>
<circle cx="535.3" cy="215.6" r="0.6" fill="#7a0e61"/>
<circle cx="545.6" cy="210.0" r="0.6" fill="#7a0e60"/>
<circle cx="539.0" cy="196.5" r="0.6" fill="#790e60"/>
<circle cx="537.8" cy="217.3" r="0.6" fill="#790e60"/>
<circle cx="542.1" cy="209.7" r="0.6" fill="#780e60"/>
<circle cx="542.3" cy="208.3" r="0.6" fill="#770e5f"/>
<circle cx="540.5" cy="216.0" r="0.6" fill="#770e5f"/>
<circle cx="541.5" cy="204.4" r="0.6" fill="#770e5f"/>
<circle cx="541.7" cy="208.7" r="0.6" fill="#770e5f"/>
<circle cx="540.2" cy="207.4" r="0.6" fill="#770e5f"/>
<circle cx="535.6" cy="223.5" r="0.6" fill="#770e5f"/>
<circle cx="547.9" cy="212.0" r="0.6" fill="#760e5f"/>
<circle cx="532.4" cy="223.9" r="0.6" fill="#750e5f"/>
<circle cx="534.8" cy="219.5" r="0.6" fill="#750e5f"/>
<circle cx="533.5" cy="223.8" r="0.6" fill="#750e5f"/>
<circle cx="541.1" cy="209.6" r="0.6" fill="#740e5e"/>
<circle cx="548.2" cy="209.8" r="0.6" fill="#730e5e"/>
<circle cx="541.2" cy="210.7" r="0.6" fill="#730e5e"/>
<circle cx="547.5" cy="211.6" r="0.6" fill="#730e5e"/>
<circle cx="547.4" cy="200.6" r="0.6" fill="#730e5e"/>
<circle cx="537.2" cy="214.6" r="0.6" fill="#730e5e"/>
<circle cx="539.4" cy="213.8" r="0.6" fill="#730e5e"/>
<circle cx="533.2" cy="220.3" r="0.6" fill="#730e5e"/>
<circle cx="544.8" cy="208.2" r="0.6" fill="#720e5e"/>
<circle cx="536.9" cy="210.6" r="0.6" fill="#720e5e"/>
<circle cx="538.9" cy="211.8" r="0.6" fill="#720e5e"/>
<circle cx="545.2" cy="209.4" r="0.6" fill="#720e5e"/>
<circle cx="544.2" cy="211.4" r="0.6" fill="#720e5d"/>
<circle cx="542.1" cy="206.8" r="0.6" fill="#710e5d"/>
<circle cx="539.6" cy="202.4" r="0.6" fill="#710e5d"/>
<circle cx="534.3" cy="222.3" r="0.6" fill="#710e5d"/>
<circle cx="546.8" cy="207.7" r="0.6" fill="#710e5d"/>
<circle cx="540.4" cy="214.1" r="0.6" fill="#710e5d"/>
<circle cx="541.4" cy="208.6" r="0.6" fill="#710e5d"/>
<circle cx="532.3" cy="226.2" r="0.6" fill="#700e5d"/>
<circle cx="534.0" cy="223.0" r="0.6" fill="#700e5d"/>
<circle cx="537.8" cy="215.1" r="0.6" fill="#6f0d5c"/>
<circle cx="536.6" cy="221.9" r="0.6" fill="#6f0d5c"/>
<circle cx="537.2" cy="217.6" r="0.6" fill="#6f0d5c"/>
<circle cx="535.0" cy="224.0" r="0.6" fill="#6f0d5c"/>
<circle cx="545.4" cy="209.3" r="0.6" fill="#6f0d5c"/>
<circle cx="536.5" cy="222.0" r="0.6" fill="#6e0d5c"/>
<circle cx="546.1" cy="210.1" r="0.6" fill="#6e0d5c"/>
<circle cx="533.7" cy="224.8" r="0.6" fill="#6e0d5c"/>
<circle cx="545.8" cy="212.0" r="0.6" fill="#6d0d5c"/>
<circle cx="538.7" cy="196.6" r="0.6" fill="#6d0d5c"/>
<circle cx="542.0" cy="211.2" r="0.6" fill="#6d0d5c"/>
<circle cx="541.3" cy="208.8" r="0.6" fill="#6d0d5c"/>
<circle cx="543.0" cy="209.6" r="0.6" fill="#6d0d5b"/>
<circle cx="540.9" cy="197.7" r="0.6" fill="#6d0d5b"/>
<circle cx="537.2" cy="213.4" r="0.6" fill="#6c0d5b"/>
<circle cx="535.6" cy="215.1" r="0.6" fill="#6c0d5b"/>
<circle cx="540.8" cy="213.5" r="0.6" fill="#6c0d5b"/>
<circle cx="541.8" cy="210.5" r="0.6" fill="#6b0d5b"/>
<circle cx="547.1" cy="207.2" r="0.6" fill="#6b0d5b"/>
<circle cx="534.1" cy="224.9" r="0.6" fill="#6b0d5b"/>
<circle cx="536.4" cy="221.4" r="0.6" fill="#6b0d5b"/>
<circle cx="546.1" cy="206.7" r="0.6" fill="#6b0d5b"/>
<circle cx="539.6" cy="208.0" r="0.6" fill="#6a0d5b"/>
<circle cx="546.2" cy="211.5" r="0.6" fill="#6a0d5a"/>
<circle cx="540.1" cy="212.0" r="0.6" fill="#6a0d5a"/>
<circle cx="541.6" cy="208.7" r="0.6" fill="#6a0d5a"/>
<circle cx="535.5" cy="218.2" r="0.6" fill="#6a0d5a"/>
<circle cx="537.8" cy="213.0" r="0.6" fill="#6a0d5a"/>
<circle cx="536.2" cy="219.4" r="0.6" fill="#690d5a"/>
<circle cx="535.6" cy="223.1" r="0.6" fill="#680d5a"/>
<circle cx="542.1" cy="208.2" r="0.6" fill="#680d5a"/>
<circle cx="546.9" cy="211.1" r="0.6" fill="#670d59"/>
<circle cx="540.8" cy="209.9" r="0.6" fill="#660d59"/>
<circle cx="537.0" cy="215.9" r="0.6" fill="#660d59"/>
<circle cx="533.9" cy="226.2" r="0.6" fill="#660d59"/>
<circle cx="545.3" cy="208.9" r="0.6" fill="#660d59"/>
<circle cx="536.0" cy="223.0" r="0.6" fill="#650d59"/>
<circle cx="533.2" cy="226.0" r="0.6" fill="#650d59"/>
<circle cx="541.9" cy="208.8" r="0.6" fill="#650d59"/>
<circle cx="539.2" cy="211.3" r="0.6" fill="#650d59"/>
<circle cx="537.0" cy="216.9" r="0.6" fill="#650d59"/>
<circle cx="539.3" cy="214.0" r="0.6" fill="#650d59"/>
<circle cx="545.6" cy="200.1" r="0.6" fill="#640d58"/>
<circle cx="535.1" cy="215.8" r="0.6" fill="#630c58"/>
<circle cx="537.3" cy="213.1" r="0.6" fill="#630c58"/>
<circle cx="542.1" cy="210.2" r="0.6" fill="#630c58"/>
<circle cx="537.5" cy="218.5" r="0.6" fill="#620c58"/>
<circle cx="540.2" cy="209.3" r="0.6" fill="#620c58"/>
<circle cx="539.6" cy="217.5" r="0.6" fill="#620c57"/>
<circle cx="535.1" cy="219.8" r="0.6" fill="#620c57"/>
<circle cx="533.4" cy="222.6" r="0.6" fill="#610c57"/>
<circle cx="546.5" cy="206.1" r="0.6" fill="#610c57"/>
<circle cx="536.3" cy="220.2" r="0.6" fill="#600c57"/>
<circle cx="533.5" cy="224.9" r="0.6" fill="#600c57"/>
<circle cx="533.4" cy="225.9" r="0.6" fill="#600c57"/>
<circle cx="536.1" cy="221.0" r="0.6" fill="#600c57"/>
<circle cx="548.0" cy="209.2" r="0.6" fill="#5f0c56"/>
<circle cx="535.3" cy="216.5" r="0.6" fill="#5f0c56"/>
<circle cx="532.4" cy="226.3" r="0.6" fill="#5e0c56"/>
<circle cx="536.8" cy="219.9" r="0.6" fill="#5e0c56"/>
<circle cx="532.4" cy="224.0" r="0.6" fill="#5d0c55"/>
<circle cx="539.8" cy="208.1" r="0.6" fill="#5d0c55"/>
<circle cx="537.5" cy="216.5" r="0.6" fill="#5d0c55"/>
<circle cx="548.0" cy="207.0" r="0.6" fill="#5b0c54"/>
<circle cx="541.7" cy="210.0" r="0.6" fill="#5b0c54"/>
<circle cx="537.2" cy="221.4" r="0.6" fill="#5b0c54"/>
<circle cx="542.1" cy="210.2" r="0.6" fill="#5a0c53"/>
<circle cx="541.8" cy="206.8" r="0.6" fill="#5a0c53"/>
<circle cx="542.5" cy="208.8" r="0.6" fill="#5a0c53"/>
<circle cx="534.9" cy="216.3" r="0.6" fill="#5a0c53"/>
<circle cx="543.0" cy="209.9" r="0.6" fill="#580c52"/>
<circle cx="541.5" cy="211.4" r="0.6" fill="#580c51"/>
<circle cx="544.5" cy="208.9" r="0.6" fill="#580c51"/>
<circle cx="536.1" cy="218.7" r="0.6" fill="#570c51"/>
<circle cx="541.4" cy="213.8" r="0.6" fill="#560c50"/>
<circle cx="540.3" cy="212.7" r="0.6" fill="#560c50"/>
<circle cx="534.2" cy="223.0" r="0.6" fill="#560c50"/>
<circle cx="538.0" cy="215.7" r="0.6" fill="#560c50"/>
<circle cx="533.5" cy="221.5" r="0.6" fill="#550c4f"/>
<circle cx="537.0" cy="216.5" r="0.6" fill="#540c4f"/>
<circle cx="535.0" cy="225.3" r="0.6" fill="#540c4f"/>
<circle cx="541.5" cy="209.6" r="0.6" fill="#540c4e"/>
<circle cx="535.5" cy="218.8" r="0.6" fill="#530c4e"/>
<circle cx="538.2" cy="215.4" r="0.6" fill="#530c4e"/>
<circle cx="540.8" cy="211.0" r="0.6" fill="#530c4e"/>
<circle cx="538.5" cy="195.1" r="0.6" fill="#520b4d"/>
<circle cx="537.1" cy="210.4" r="0.6" fill="#510b4c"/>
<circle cx="536.9" cy="212.5" r="0.6" fill="#500b4c"/>
<circle cx="543.0" cy="209.6" r="0.6" fill="#500b4c"/>
<circle cx="539.9" cy="207.8" r="0.6" fill="#500b4c"/>
<circle cx="537.2" cy="221.5" r="0.6" fill="#500b4b"/>
<circle cx="541.7" cy="207.3" r="0.6" fill="#4f0b4b"/>
<circle cx="544.3" cy="209.9" r="0.6" fill="#4e0b4a"/>
<circle cx="541.4" cy="209.6" r="0.6" fill="#4d0b4a"/>
<circle cx="536.5" cy="214.3" r="0.6" fill="#4d0b4a"/>
<circle cx="543.4" cy="209.0" r="0.6" fill="#4d0b49"/>
<circle cx="538.9" cy="212.2" r="0.6" fill="#4d0b49"/>
<circle cx="536.4" cy="215.0" r="0.6" fill="#4c0b48"/>
<circle cx="537.9" cy="214.6" r="0.6" fill="#4c0b48"/>
<circle cx="542.3" cy="210.5" r="0.6" fill="#4b0b48"/>
<circle cx="541.9" cy="210.4" r="0.6" fill="#4b0b48"/>
<circle cx="534.5" cy="221.7" r="0.6" fill="#4a0b47"/>
<circle cx="536.9" cy="221.7" r="0.6" fill="#480b46"/>
<circle cx="533.1" cy="224.9" r="0.6" fill="#480b46"/>
<circle cx="539.8" cy="214.9" r="0.6" fill="#480b46"/>
<circle cx="538.7" cy="197.5" r="0.6" fill="#470b45"/>
<circle cx="545.1" cy="208.7" r="0.6" fill="#460b44"/>
<circle cx="534.3" cy="219.3" r="0.6" fill="#460b44"/>
<circle cx="540.8" cy="209.6" r="0.6" fill="#450b44"/>
<circle cx="537.8" cy="208.9" r="0.6" fill="#450b43"/>
<circle cx="538.9" cy="212.5" r="0.6" fill="#420b42"/>
<circle cx="537.5" cy="219.9" r="0.6" fill="#420b41"/>
<circle cx="538.7" cy="207.8" r="0.6" fill="#410b40"/>
<circle cx="532.5" cy="224.7" r="0.6" fill="#400b40"/>
<circle cx="541.3" cy="214.3" r="0.6" fill="#400b40"/>
<circle cx="537.0" cy="214.7" r="0.6" fill="#3f0b3f"/>
<circle cx="537.4" cy="211.3" r="0.6" fill="#3e0b3e"/>
<circle cx="542.2" cy="211.4" r="0.6" fill="#3d0b3e"/>
<circle cx="538.4" cy="216.9" r="0.6" fill="#3d0b3e"/>
<circle cx="542.7" cy="209.8" r="0.6" fill="#3a0a3b"/>
<circle cx="533.8" cy="220.2" r="0.6" fill="#380a3a"/>
<circle cx="532.3" cy="225.1" r="0.6" fill="#380a3a"/>
<circle cx="532.9" cy="225.1" r="0.6" fill="#370a39"/>
<circle cx="540.0" cy="209.4" r="0.6" fill="#360a38"/>
<circle cx="532.9" cy="222.8" r="0.6" fill="#360a38"/>
<circle cx="538.3" cy="218.2" r="0.6" fill="#330a36"/>
<circle cx="541.1" cy="211.4" r="0.6" fill="#310a35"/>
<circle cx="538.2" cy="209.0" r="0.6" fill="#310a35"/>
<circle cx="537.1" cy="214.4" r="0.6" fill="#300a34"/>
<circle cx="537.3" cy="212.2" r="0.6" fill="#300a34"/>
<circle cx="535.0" cy="218.7" r="0.6" fill="#300a34"/>
<circle cx="542.3" cy="210.0" r="0.6" fill="#300a34"/>
<circle cx="542.3" cy="209.3" r="0.6" fill="#2f0a33"/>
<circle cx="534.0" cy="219.8" r="0.6" fill="#2f0a33"/>
<circle cx="535.7" cy="220.0" r="0.6" fill="#2e0a33"/>
<circle cx="532.9" cy="223.9" r="0.6" fill="#2e0a32"/>
<circle cx="532.8" cy="221.0" r="0.6" fill="#2e0a32"/>
<circle cx="539.8" cy="210.6" r="0.6" fill="#2d0a31"/>
<circle cx="539.7" cy="208.7" r="0.6" fill="#2c0930"/>
<circle cx="543.0" cy="209.2" r="0.6" fill="#2c0930"/>
<circle cx="539.5" cy="211.5" r="0.6" fill="#2c0930"/>
<circle cx="537.7" cy="212.6" r="0.6" fill="#2a092f"/>
<circle cx="537.4" cy="214.4" r="0.6" fill="#2a092f"/>
<circle cx="534.8" cy="224.5" r="0.6" fill="#2a092e"/>
<circle cx="533.4" cy="220.8" r="0.6" fill="#29092d"/>
<circle cx="538.2" cy="214.0" r="0.6" fill="#27092c"/>
<circle cx="534.9" cy="220.9" r="0.6" fill="#27092b"/>
<circle cx="541.4" cy="211.5" r="0.6" fill="#26082a"/>
<circle cx="535.9" cy="223.3" r="0.6" fill="#250829"/>
<circle cx="533.2" cy="225.3" r="0.6" fill="#230828"/>
<circle cx="540.0" cy="216.3" r="0.6" fill="#230828"/>
<circle cx="538.5" cy="215.1" r="0.6" fill="#220827"/>
<circle cx="536.9" cy="212.3" r="0.6" fill="#210826"/>
<circle cx="537.5" cy="218.7" r="0.6" fill="#200825"/>
<circle cx="537.7" cy="212.2" r="0.6" fill="#200825"/>
<circle cx="535.6" cy="223.7" r="0.6" fill="#1f0824"/>
<circle cx="535.7" cy="215.4" r="0.6" fill="#1e0723"/>
<circle cx="537.0" cy="211.1" r="0.6" fill="#1e0723"/>
<circle cx="535.4" cy="221.1" r="0.6" fill="#1e0723"/>
<circle cx="537.7" cy="213.1" r="0.6" fill="#1d0722"/>
<circle cx="534.5" cy="225.5" r="0.6" fill="#1c0722"/>
<circle cx="541.5" cy="212.7" r="0.6" fill="#1c0722"/>
<circle cx="536.3" cy="215.5" r="0.6" fill="#1a071f"/>
<circle cx="534.2" cy="221.8" r="0.6" fill="#19071e"/>
<circle cx="537.7" cy="208.2" r="0.6" fill="#18071e"/>
<circle cx="541.3" cy="209.8" r="0.6" fill="#17061c"/>
<circle cx="541.3" cy="208.9" r="0.6" fill="#16061c"/>
<circle cx="538.5" cy="218.0" r="0.6" fill="#16061b"/>
<circle cx="539.4" cy="217.5" r="0.6" fill="#120618"/>
<circle cx="537.3" cy="214.1" r="0.6" fill="#110517"/>
<circle cx="536.8" cy="219.9" r="0.6" fill="#0f0515"/>
<circle cx="535.0" cy="225.3" r="0.6" fill="#0e0514"/>
<circle cx="535.9" cy="222.1" r="0.6" fill="#0e0514"/>
<line x1="588.70" y1="175.80" x2="588.70" y2="230.50" stroke="#7a7a7a" stroke-width="0.8"/>
<line x1="588.30" y1="230.10" x2="638.10" y2="230.10" stroke="#7a7a7a" stroke-width="0.8"/>
<line x1="590.60" y1="230.10" x2="590.60" y2="231.10" stroke="#333" stroke-width="0.5"/>
<text x="590.60" y="235.00" font-size="4.6" text-anchor="middle" fill="#333" style="stroke-width:0.12px">-10</text>
<line x1="601.85" y1="230.10" x2="601.85" y2="231.10" stroke="#333" stroke-width="0.5"/>
<text x="601.85" y="235.00" font-size="4.6" text-anchor="middle" fill="#333" style="stroke-width:0.12px">-5</text>
<line x1="613.10" y1="230.10" x2="613.10" y2="231.10" stroke="#333" stroke-width="0.5"/>
<text x="613.10" y="235.00" font-size="4.6" text-anchor="middle" fill="#333" style="stroke-width:0.12px">0</text>
<line x1="624.35" y1="230.10" x2="624.35" y2="231.10" stroke="#333" stroke-width="0.5"/>
<text x="624.35" y="235.00" font-size="4.6" text-anchor="middle" fill="#333" style="stroke-width:0.12px">5</text>
<line x1="635.60" y1="230.10" x2="635.60" y2="231.10" stroke="#333" stroke-width="0.5"/>
<text x="635.60" y="235.00" font-size="4.6" text-anchor="middle" fill="#333" style="stroke-width:0.12px">10</text>
<line x1="587.70" y1="181.20" x2="588.70" y2="181.20" stroke="#333" stroke-width="0.5"/>
<text x="587.10" y="182.85" font-size="4.6" text-anchor="end" fill="#333" style="stroke-width:0.12px">10</text>
<line x1="587.70" y1="195.85" x2="588.70" y2="195.85" stroke="#333" stroke-width="0.5"/>
<text x="587.10" y="197.50" font-size="4.6" text-anchor="end" fill="#333" style="stroke-width:0.12px">5</text>
<line x1="587.70" y1="210.50" x2="588.70" y2="210.50" stroke="#333" stroke-width="0.5"/>
<text x="587.10" y="212.15" font-size="4.6" text-anchor="end" fill="#333" style="stroke-width:0.12px">0</text>
<line x1="587.70" y1="225.15" x2="588.70" y2="225.15" stroke="#333" stroke-width="0.5"/>
<text x="587.10" y="226.80" font-size="4.6" text-anchor="end" fill="#333" style="stroke-width:0.12px">-5</text>
<text x="613.10" y="239.80" font-size="5.2" text-anchor="middle" fill="#111">UMAP_1</text>
<text transform="translate(578.90,201.50) rotate(-90)" font-size="5.2" text-anchor="middle" fill="#111">UMAP_2</text>
<text x="613.30" y="173.00" font-size="5.6" text-anchor="middle" font-weight="bold" fill="#000">KRT17</text>
<defs><linearGradient id="gKRT17" x1="0" y1="0" x2="0" y2="1"><stop offset="0.00" stop-color="#0e0514"/><stop offset="0.10" stop-color="#2e0a38"/><stop offset="0.20" stop-color="#580c5c"/><stop offset="0.32" stop-color="#8a1070"/><stop offset="0.43" stop-color="#b0186c"/><stop offset="0.55" stop-color="#d83058"/><stop offset="0.67" stop-color="#ef6340"/><stop offset="0.78" stop-color="#f9954f"/><stop offset="0.90" stop-color="#fcc07a"/><stop offset="1.00" stop-color="#fde3b0"/></linearGradient></defs>
<rect x="642.70" y="191.80" width="5.7" height="23.5" fill="url(#gKRT17)"/>
<text x="650.50" y="196.75" font-size="4.3" text-anchor="start" fill="#111">6</text>
<text x="650.50" y="203.65" font-size="4.3" text-anchor="start" fill="#111">4</text>
<text x="650.50" y="210.35" font-size="4.3" text-anchor="start" fill="#111">2</text>
<text x="650.50" y="217.75" font-size="4.3" text-anchor="start" fill="#111">0</text>
<circle cx="623.4" cy="213.0" r="0.6" fill="#fdf3ea"/>
<circle cx="622.4" cy="216.6" r="0.6" fill="#fdf3ea"/>
<circle cx="624.9" cy="212.7" r="0.6" fill="#fdf3ea"/>
<circle cx="624.5" cy="211.2" r="0.6" fill="#fdf3ea"/>
<circle cx="610.1" cy="211.8" r="0.6" fill="#fdf3ea"/>
<circle cx="623.2" cy="213.1" r="0.6" fill="#fdf3ea"/>
<circle cx="623.7" cy="216.0" r="0.6" fill="#fdf3ea"/>
<circle cx="625.0" cy="214.0" r="0.6" fill="#fdf1e6"/>
<circle cx="623.1" cy="216.8" r="0.6" fill="#fdf0e4"/>
<circle cx="601.9" cy="216.3" r="0.6" fill="#fdefe2"/>
<circle cx="624.3" cy="208.3" r="0.6" fill="#fdefe1"/>
<circle cx="612.4" cy="216.5" r="0.6" fill="#fdefe0"/>
<circle cx="623.4" cy="214.0" r="0.6" fill="#fdefe0"/>
<circle cx="619.1" cy="223.7" r="0.6" fill="#fdecda"/>
<circle cx="602.2" cy="216.0" r="0.6" fill="#fdebd9"/>
<circle cx="623.3" cy="213.5" r="0.6" fill="#fdead6"/>
<circle cx="620.0" cy="221.7" r="0.6" fill="#fdead6"/>
<circle cx="624.0" cy="210.1" r="0.6" fill="#fde8d1"/>
<circle cx="618.4" cy="226.6" r="0.6" fill="#fde6cd"/>
<circle cx="602.4" cy="214.4" r="0.6" fill="#fde6cd"/>
<circle cx="600.5" cy="216.0" r="0.6" fill="#fde6cc"/>
<circle cx="625.4" cy="211.9" r="0.6" fill="#fde4c9"/>
<circle cx="621.3" cy="221.5" r="0.6" fill="#fde4c9"/>
<circle cx="598.7" cy="213.7" r="0.6" fill="#fde4c8"/>
<circle cx="613.6" cy="221.5" r="0.6" fill="#fde3c7"/>
<circle cx="627.4" cy="208.0" r="0.6" fill="#fde3c7"/>
<circle cx="616.3" cy="225.6" r="0.6" fill="#fde1c3"/>
<circle cx="618.3" cy="220.1" r="0.6" fill="#fde1c3"/>
<circle cx="626.1" cy="211.3" r="0.6" fill="#fde0c1"/>
<circle cx="621.9" cy="216.1" r="0.6" fill="#fde0c0"/>
<circle cx="602.0" cy="214.4" r="0.6" fill="#fddfbf"/>
<circle cx="622.0" cy="215.3" r="0.6" fill="#fddfbf"/>
<circle cx="623.7" cy="209.6" r="0.6" fill="#fddfbe"/>
<circle cx="604.4" cy="206.8" r="0.6" fill="#fddebd"/>
<circle cx="624.9" cy="210.5" r="0.6" fill="#fddebd"/>
<circle cx="620.2" cy="218.7" r="0.6" fill="#fdddbc"/>
<circle cx="621.3" cy="218.1" r="0.6" fill="#fddab6"/>
<circle cx="597.5" cy="214.3" r="0.6" fill="#fddab6"/>
<circle cx="624.4" cy="211.6" r="0.6" fill="#fdd8b3"/>
<circle cx="622.0" cy="216.4" r="0.6" fill="#fdd8b3"/>
<circle cx="602.4" cy="182.1" r="0.6" fill="#fdd8b2"/>
<circle cx="612.5" cy="222.5" r="0.6" fill="#fdd8b2"/>
<circle cx="600.5" cy="209.7" r="0.6" fill="#fdd7b1"/>
<circle cx="621.3" cy="219.6" r="0.6" fill="#fdd7b0"/>
<circle cx="604.5" cy="214.4" r="0.6" fill="#fdd6b0"/>
<circle cx="622.2" cy="215.2" r="0.6" fill="#fdd6af"/>
<circle cx="615.6" cy="222.9" r="0.6" fill="#fdd5ae"/>
<circle cx="592.1" cy="210.0" r="0.6" fill="#fdd5ad"/>
<circle cx="620.0" cy="220.5" r="0.6" fill="#fdd5ad"/>
<circle cx="609.4" cy="220.5" r="0.6" fill="#fdd5ad"/>
<circle cx="605.1" cy="209.6" r="0.6" fill="#fdd4ab"/>
<circle cx="593.9" cy="210.0" r="0.6" fill="#fdd3aa"/>
<circle cx="619.8" cy="222.4" r="0.6" fill="#fcd3aa"/>
<circle cx="602.9" cy="212.4" r="0.6" fill="#fcd3aa"/>
<circle cx="601.4" cy="205.4" r="0.6" fill="#fcd2a9"/>
<circle cx="613.9" cy="217.9" r="0.6" fill="#fcd2a8"/>
<circle cx="616.1" cy="221.2" r="0.6" fill="#fcd2a8"/>
<circle cx="610.5" cy="221.6" r="0.6" fill="#fcd2a8"/>
<circle cx="620.6" cy="221.8" r="0.6" fill="#fcd2a8"/>
<circle cx="597.7" cy="214.7" r="0.6" fill="#fcd2a8"/>
<circle cx="621.9" cy="216.2" r="0.6" fill="#fcd1a7"/>
<circle cx="597.9" cy="214.9" r="0.6" fill="#fcd1a7"/>
<circle cx="600.8" cy="206.3" r="0.6" fill="#fcd1a6"/>
<circle cx="613.5" cy="218.1" r="0.6" fill="#fcd1a6"/>
<circle cx="609.5" cy="212.5" r="0.6" fill="#fcd0a6"/>
<circle cx="618.8" cy="223.5" r="0.6" fill="#fcd0a5"/>
<circle cx="594.5" cy="214.6" r="0.6" fill="#fcd0a5"/>
<circle cx="607.6" cy="215.3" r="0.6" fill="#fccfa3"/>
<circle cx="609.7" cy="219.4" r="0.6" fill="#fccea2"/>
<circle cx="612.7" cy="211.3" r="0.6" fill="#fccd9f"/>
<circle cx="599.9" cy="212.6" r="0.6" fill="#fccd9f"/>
<circle cx="616.1" cy="215.5" r="0.6" fill="#fccd9f"/>
<circle cx="627.2" cy="208.9" r="0.6" fill="#fccc9f"/>
<circle cx="607.7" cy="215.4" r="0.6" fill="#fccc9e"/>
<circle cx="616.1" cy="226.5" r="0.6" fill="#fccc9e"/>
<circle cx="612.3" cy="223.7" r="0.6" fill="#fccb9c"/>
<circle cx="599.3" cy="215.1" r="0.6" fill="#fcca9b"/>
<circle cx="625.1" cy="212.9" r="0.6" fill="#fcca9b"/>
<circle cx="611.9" cy="214.4" r="0.6" fill="#fcca9b"/>
<circle cx="615.0" cy="220.4" r="0.6" fill="#fcca9b"/>
<circle cx="624.8" cy="208.5" r="0.6" fill="#fcca9a"/>
<circle cx="610.0" cy="211.2" r="0.6" fill="#fcca9a"/>
<circle cx="610.3" cy="210.6" r="0.6" fill="#fcca9a"/>
<circle cx="617.1" cy="221.9" r="0.6" fill="#fcc999"/>
<circle cx="602.0" cy="209.2" r="0.6" fill="#fcc999"/>
<circle cx="611.5" cy="220.3" r="0.6" fill="#fcc999"/>
<circle cx="603.5" cy="210.2" r="0.6" fill="#fcc999"/>
<circle cx="624.0" cy="214.6" r="0.6" fill="#fcc998"/>
<circle cx="611.4" cy="216.5" r="0.6" fill="#fcc998"/>
<circle cx="612.0" cy="217.4" r="0.6" fill="#fcc898"/>
<circle cx="615.2" cy="222.9" r="0.6" fill="#fcc897"/>
<circle cx="622.6" cy="212.4" r="0.6" fill="#fcc897"/>
<circle cx="597.1" cy="208.3" r="0.6" fill="#fcc897"/>
<circle cx="603.2" cy="181.6" r="0.6" fill="#fcc795"/>
<circle cx="609.1" cy="220.0" r="0.6" fill="#fcc795"/>
<circle cx="621.0" cy="220.3" r="0.6" fill="#fcc795"/>
<circle cx="613.9" cy="219.3" r="0.6" fill="#fcc694"/>
<circle cx="606.6" cy="209.2" r="0.6" fill="#fcc694"/>
<circle cx="619.5" cy="223.2" r="0.6" fill="#fcc693"/>
<circle cx="602.0" cy="215.9" r="0.6" fill="#fcc592"/>
<circle cx="597.2" cy="215.0" r="0.6" fill="#fcc591"/>
<circle cx="597.9" cy="216.9" r="0.6" fill="#fcc591"/>
<circle cx="612.2" cy="216.7" r="0.6" fill="#fcc491"/>
<circle cx="612.6" cy="215.0" r="0.6" fill="#fcc491"/>
<circle cx="601.4" cy="208.5" r="0.6" fill="#fcc491"/>
<circle cx="592.0" cy="211.4" r="0.6" fill="#fcc490"/>
<circle cx="618.4" cy="217.1" r="0.6" fill="#fcc490"/>
<circle cx="600.1" cy="211.5" r="0.6" fill="#fcc490"/>
<circle cx="602.6" cy="217.0" r="0.6" fill="#fcc38f"/>
<circle cx="610.7" cy="216.5" r="0.6" fill="#fcc38e"/>
<circle cx="614.2" cy="214.7" r="0.6" fill="#fcc38e"/>
<circle cx="624.9" cy="214.0" r="0.6" fill="#fcc38e"/>
<circle cx="599.6" cy="207.1" r="0.6" fill="#fcc28e"/>
<circle cx="596.0" cy="215.4" r="0.6" fill="#fcc28e"/>
<circle cx="619.8" cy="220.0" r="0.6" fill="#fcc28d"/>
<circle cx="616.5" cy="216.7" r="0.6" fill="#fcc28d"/>
<circle cx="600.8" cy="206.7" r="0.6" fill="#fcc28d"/>
<circle cx="619.7" cy="224.3" r="0.6" fill="#fcc28d"/>
<circle cx="611.9" cy="213.4" r="0.6" fill="#fcc28d"/>
<circle cx="596.5" cy="206.7" r="0.6" fill="#fcc28d"/>
<circle cx="608.6" cy="209.2" r="0.6" fill="#fcc18d"/>
<circle cx="620.3" cy="222.7" r="0.6" fill="#fcc18c"/>
<circle cx="618.2" cy="221.2" r="0.6" fill="#fcc08b"/>
<circle cx="598.1" cy="213.8" r="0.6" fill="#fcc08b"/>
<circle cx="600.7" cy="209.6" r="0.6" fill="#fcc08b"/>
<circle cx="601.7" cy="184.5" r="0.6" fill="#fcc08b"/>
<circle cx="599.6" cy="206.9" r="0.6" fill="#fcc08b"/>
<circle cx="595.3" cy="208.3" r="0.6" fill="#fcbf8a"/>
<circle cx="617.7" cy="220.9" r="0.6" fill="#fcbf8a"/>
<circle cx="605.0" cy="214.7" r="0.6" fill="#fcbf8a"/>
<circle cx="610.0" cy="221.7" r="0.6" fill="#fcbf89"/>
<circle cx="610.2" cy="211.5" r="0.6" fill="#fcbf89"/>
<circle cx="605.3" cy="215.5" r="0.6" fill="#fcbf89"/>
<circle cx="608.1" cy="216.4" r="0.6" fill="#fcbf89"/>
<circle cx="600.6" cy="207.8" r="0.6" fill="#fcbe89"/>
<circle cx="598.9" cy="210.4" r="0.6" fill="#fcbe89"/>
<circle cx="610.7" cy="212.2" r="0.6" fill="#fcbe88"/>
<circle cx="600.3" cy="217.1" r="0.6" fill="#fcbe88"/>
<circle cx="594.3" cy="214.9" r="0.6" fill="#fbbe88"/>
<circle cx="613.5" cy="215.0" r="0.6" fill="#fbbe88"/>
<circle cx="602.4" cy="208.7" r="0.6" fill="#fbbe88"/>
<circle cx="612.8" cy="217.7" r="0.6" fill="#fbbe88"/>
<circle cx="610.4" cy="215.3" r="0.6" fill="#fbbe88"/>
<circle cx="596.9" cy="210.7" r="0.6" fill="#fbbe88"/>
<circle cx="602.0" cy="183.2" r="0.6" fill="#fbbd88"/>
<circle cx="603.5" cy="206.0" r="0.6" fill="#fbbd87"/>
<circle cx="602.2" cy="182.8" r="0.6" fill="#fbbc86"/>
<circle cx="613.1" cy="211.2" r="0.6" fill="#fbbc86"/>
<circle cx="592.1" cy="209.7" r="0.6" fill="#fbbc85"/>
<circle cx="602.0" cy="182.6" r="0.6" fill="#fbbb85"/>
<circle cx="612.9" cy="211.4" r="0.6" fill="#fbbb85"/>
<circle cx="604.2" cy="211.9" r="0.6" fill="#fbbb85"/>
<circle cx="618.1" cy="220.0" r="0.6" fill="#fbbb85"/>
<circle cx="606.0" cy="206.5" r="0.6" fill="#fbbb84"/>
<circle cx="603.3" cy="206.8" r="0.6" fill="#fbbb84"/>
<circle cx="599.2" cy="212.1" r="0.6" fill="#fbba84"/>
<circle cx="624.9" cy="213.2" r="0.6" fill="#fbba84"/>
<circle cx="612.3" cy="218.1" r="0.6" fill="#fbba83"/>
<circle cx="616.2" cy="223.2" r="0.6" fill="#fbba83"/>
<circle cx="603.7" cy="215.9" r="0.6" fill="#fbba83"/>
<circle cx="608.0" cy="207.3" r="0.6" fill="#fbb982"/>
<circle cx="601.8" cy="215.3" r="0.6" fill="#fbb982"/>
<circle cx="591.9" cy="212.3" r="0.6" fill="#fbb982"/>
<circle cx="610.0" cy="215.6" r="0.6" fill="#fbb982"/>
<circle cx="612.7" cy="211.7" r="0.6" fill="#fbb982"/>
<circle cx="614.8" cy="221.0" r="0.6" fill="#fbb982"/>
<circle cx="600.7" cy="205.8" r="0.6" fill="#fbb982"/>
<circle cx="593.7" cy="212.5" r="0.6" fill="#fbb982"/>
<circle cx="621.3" cy="220.2" r="0.6" fill="#fbb981"/>
<circle cx="609.1" cy="211.2" r="0.6" fill="#fbb881"/>
<circle cx="621.1" cy="219.8" r="0.6" fill="#fbb881"/>
<circle cx="605.2" cy="214.6" r="0.6" fill="#fbb881"/>
<circle cx="625.1" cy="212.6" r="0.6" fill="#fbb881"/>
<circle cx="618.1" cy="218.2" r="0.6" fill="#fbb881"/>
<circle cx="599.3" cy="216.6" r="0.6" fill="#fbb881"/>
<circle cx="605.5" cy="209.3" r="0.6" fill="#fbb881"/>
<circle cx="613.4" cy="223.8" r="0.6" fill="#fbb881"/>
<circle cx="613.5" cy="216.5" r="0.6" fill="#fbb880"/>
<circle cx="613.6" cy="218.2" r="0.6" fill="#fbb780"/>
<circle cx="593.0" cy="213.8" r="0.6" fill="#fbb780"/>
<circle cx="605.4" cy="209.3" r="0.6" fill="#fbb780"/>
<circle cx="603.6" cy="215.9" r="0.6" fill="#fbb780"/>
<circle cx="595.3" cy="211.4" r="0.6" fill="#fbb780"/>
<circle cx="624.4" cy="215.1" r="0.6" fill="#fbb77f"/>
<circle cx="594.6" cy="207.2" r="0.6" fill="#fbb77f"/>
<circle cx="602.0" cy="182.1" r="0.6" fill="#fbb77f"/>
<circle cx="615.9" cy="217.7" r="0.6" fill="#fbb77f"/>
<circle cx="610.7" cy="213.5" r="0.6" fill="#fbb77f"/>
<circle cx="620.4" cy="224.4" r="0.6" fill="#fbb67e"/>
<circle cx="606.9" cy="206.8" r="0.6" fill="#fbb67e"/>
<circle cx="602.1" cy="205.4" r="0.6" fill="#fbb67e"/>
<circle cx="605.4" cy="212.2" r="0.6" fill="#fbb67e"/>
<circle cx="623.9" cy="213.2" r="0.6" fill="#fbb57d"/>
<circle cx="608.8" cy="213.6" r="0.6" fill="#fbb57d"/>
<circle cx="618.8" cy="223.8" r="0.6" fill="#fbb57d"/>
<circle cx="593.9" cy="209.0" r="0.6" fill="#fbb57c"/>
<circle cx="595.0" cy="205.9" r="0.6" fill="#fbb57c"/>
<circle cx="608.1" cy="216.1" r="0.6" fill="#fbb57c"/>
<circle cx="603.8" cy="211.6" r="0.6" fill="#fbb57c"/>
<circle cx="599.6" cy="215.0" r="0.6" fill="#fbb47c"/>
<circle cx="609.7" cy="208.8" r="0.6" fill="#fbb47c"/>
<circle cx="620.8" cy="217.1" r="0.6" fill="#fbb47c"/>
<circle cx="616.6" cy="221.4" r="0.6" fill="#fbb47b"/>
<circle cx="592.4" cy="211.9" r="0.6" fill="#fbb47b"/>
<circle cx="616.0" cy="223.8" r="0.6" fill="#fbb47b"/>
<circle cx="602.7" cy="180.7" r="0.6" fill="#fbb47b"/>
<circle cx="593.9" cy="215.1" r="0.6" fill="#fbb47b"/>
<circle cx="620.3" cy="218.5" r="0.6" fill="#fbb47b"/>
<circle cx="606.0" cy="208.9" r="0.6" fill="#fbb37b"/>
<circle cx="604.0" cy="211.4" r="0.6" fill="#fbb37b"/>
<circle cx="594.2" cy="208.4" r="0.6" fill="#fbb37a"/>
<circle cx="617.1" cy="222.2" r="0.6" fill="#fbb37a"/>
<circle cx="601.9" cy="206.2" r="0.6" fill="#fbb37a"/>
<circle cx="626.5" cy="208.1" r="0.6" fill="#fbb37a"/>
<circle cx="612.3" cy="213.6" r="0.6" fill="#fbb27a"/>
<circle cx="617.2" cy="219.1" r="0.6" fill="#fbb279"/>
<circle cx="625.3" cy="213.3" r="0.6" fill="#fbb279"/>
<circle cx="599.8" cy="206.5" r="0.6" fill="#fab279"/>
<circle cx="592.4" cy="207.9" r="0.6" fill="#fab279"/>
<circle cx="622.8" cy="217.5" r="0.6" fill="#fab278"/>
<circle cx="603.3" cy="210.1" r="0.6" fill="#fab178"/>
<circle cx="595.6" cy="211.5" r="0.6" fill="#fab178"/>
<circle cx="604.6" cy="215.4" r="0.6" fill="#fab177"/>
<circle cx="605.1" cy="210.3" r="0.6" fill="#fab077"/>
<circle cx="603.1" cy="179.4" r="0.6" fill="#fab077"/>
<circle cx="603.2" cy="212.3" r="0.6" fill="#fab077"/>
<circle cx="600.7" cy="215.5" r="0.6" fill="#fab077"/>
<circle cx="621.8" cy="217.2" r="0.6" fill="#fab077"/>
<circle cx="599.0" cy="215.6" r="0.6" fill="#fab077"/>
<circle cx="611.0" cy="217.0" r="0.6" fill="#fab076"/>
<circle cx="595.7" cy="208.6" r="0.6" fill="#faaf76"/>
<circle cx="601.4" cy="183.5" r="0.6" fill="#faaf75"/>
<circle cx="600.1" cy="214.8" r="0.6" fill="#faaf75"/>
<circle cx="610.3" cy="208.2" r="0.6" fill="#faaf75"/>
<circle cx="602.4" cy="214.7" r="0.6" fill="#faaf75"/>
<circle cx="603.8" cy="208.6" r="0.6" fill="#faaf75"/>
<circle cx="597.9" cy="213.4" r="0.6" fill="#faaf75"/>
<circle cx="621.1" cy="218.0" r="0.6" fill="#faaf75"/>
<circle cx="604.7" cy="211.9" r="0.6" fill="#faaf75"/>
<circle cx="602.2" cy="216.1" r="0.6" fill="#faaf75"/>
<circle cx="625.7" cy="207.9" r="0.6" fill="#faaf75"/>
<circle cx="602.4" cy="211.5" r="0.6" fill="#faae74"/>
<circle cx="599.0" cy="205.8" r="0.6" fill="#faae74"/>
<circle cx="614.1" cy="221.3" r="0.6" fill="#faae74"/>
<circle cx="610.6" cy="215.2" r="0.6" fill="#faae73"/>
<circle cx="607.8" cy="214.8" r="0.6" fill="#faae73"/>
<circle cx="606.8" cy="210.8" r="0.6" fill="#faad73"/>
<circle cx="601.2" cy="209.9" r="0.6" fill="#faad73"/>
<circle cx="595.8" cy="213.4" r="0.6" fill="#faad73"/>
<circle cx="597.9" cy="212.1" r="0.6" fill="#faad73"/>
<circle cx="611.5" cy="215.6" r="0.6" fill="#faad73"/>
<circle cx="603.7" cy="179.8" r="0.6" fill="#faad73"/>
<circle cx="619.7" cy="224.9" r="0.6" fill="#faad72"/>
<circle cx="595.1" cy="216.8" r="0.6" fill="#faad72"/>
<circle cx="595.3" cy="208.2" r="0.6" fill="#faad72"/>
<circle cx="595.2" cy="209.8" r="0.6" fill="#faad72"/>
<circle cx="607.6" cy="209.9" r="0.6" fill="#faad72"/>
<circle cx="602.7" cy="208.3" r="0.6" fill="#faac72"/>
<circle cx="620.2" cy="221.4" r="0.6" fill="#faac72"/>
<circle cx="602.4" cy="215.2" r="0.6" fill="#faac72"/>
<circle cx="610.9" cy="221.1" r="0.6" fill="#faac72"/>
<circle cx="600.9" cy="210.6" r="0.6" fill="#faac71"/>
<circle cx="605.0" cy="214.6" r="0.6" fill="#faab71"/>
<circle cx="599.0" cy="216.4" r="0.6" fill="#faab70"/>
<circle cx="617.3" cy="224.6" r="0.6" fill="#faab70"/>
<circle cx="608.8" cy="211.4" r="0.6" fill="#faab70"/>
<circle cx="618.9" cy="222.8" r="0.6" fill="#faab70"/>
<circle cx="610.8" cy="213.8" r="0.6" fill="#faab70"/>
<circle cx="624.6" cy="214.3" r="0.6" fill="#faab70"/>
<circle cx="605.1" cy="215.0" r="0.6" fill="#faaa6f"/>
<circle cx="596.0" cy="205.4" r="0.6" fill="#faaa6f"/>
<circle cx="609.0" cy="216.4" r="0.6" fill="#faaa6f"/>
<circle cx="608.7" cy="212.6" r="0.6" fill="#faaa6e"/>
<circle cx="616.1" cy="224.4" r="0.6" fill="#faaa6e"/>
<circle cx="620.5" cy="224.1" r="0.6" fill="#faaa6e"/>
<circle cx="606.6" cy="211.7" r="0.6" fill="#faa96e"/>
<circle cx="605.7" cy="207.9" r="0.6" fill="#faa96e"/>
<circle cx="597.1" cy="202.2" r="0.6" fill="#faa96e"/>
<circle cx="614.7" cy="216.7" r="0.6" fill="#faa96e"/>
<circle cx="610.7" cy="221.5" r="0.6" fill="#faa96e"/>
<circle cx="615.6" cy="217.4" r="0.6" fill="#faa96e"/>
<circle cx="593.5" cy="216.1" r="0.6" fill="#faa96d"/>
<circle cx="598.8" cy="211.2" r="0.6" fill="#faa86d"/>
<circle cx="603.2" cy="179.3" r="0.6" fill="#faa86d"/>
<circle cx="598.0" cy="210.3" r="0.6" fill="#faa86c"/>
<circle cx="607.0" cy="207.8" r="0.6" fill="#faa86c"/>
<circle cx="610.6" cy="210.0" r="0.6" fill="#faa76b"/>
<circle cx="598.3" cy="216.2" r="0.6" fill="#faa76b"/>
<circle cx="606.1" cy="215.8" r="0.6" fill="#faa76b"/>
<circle cx="626.3" cy="211.1" r="0.6" fill="#faa76a"/>
<circle cx="607.5" cy="213.7" r="0.6" fill="#faa76a"/>
<circle cx="596.0" cy="216.0" r="0.6" fill="#faa66a"/>
<circle cx="606.3" cy="207.0" r="0.6" fill="#faa66a"/>
<circle cx="602.3" cy="182.7" r="0.6" fill="#faa66a"/>
<circle cx="612.1" cy="223.8" r="0.6" fill="#faa66a"/>
<circle cx="596.6" cy="207.9" r="0.6" fill="#f9a669"/>
<circle cx="601.4" cy="207.7" r="0.6" fill="#f9a669"/>
<circle cx="594.1" cy="212.8" r="0.6" fill="#f9a669"/>
<circle cx="617.5" cy="219.8" r="0.6" fill="#f9a669"/>
<circle cx="594.3" cy="213.4" r="0.6" fill="#f9a669"/>
<circle cx="597.1" cy="210.1" r="0.6" fill="#f9a669"/>
<circle cx="599.7" cy="213.0" r="0.6" fill="#f9a569"/>
<circle cx="610.1" cy="221.5" r="0.6" fill="#f9a568"/>
<circle cx="614.3" cy="224.3" r="0.6" fill="#f9a568"/>
<circle cx="593.1" cy="212.0" r="0.6" fill="#f9a568"/>
<circle cx="594.4" cy="214.3" r="0.6" fill="#f9a468"/>
<circle cx="607.4" cy="207.6" r="0.6" fill="#f9a468"/>
<circle cx="617.3" cy="220.2" r="0.6" fill="#f9a467"/>
<circle cx="616.0" cy="217.0" r="0.6" fill="#f9a467"/>
<circle cx="609.7" cy="215.2" r="0.6" fill="#f9a366"/>
<circle cx="595.3" cy="206.3" r="0.6" fill="#f9a366"/>
<circle cx="612.9" cy="212.4" r="0.6" fill="#f9a366"/>
<circle cx="612.1" cy="215.6" r="0.6" fill="#f9a365"/>
<circle cx="605.0" cy="214.5" r="0.6" fill="#f9a365"/>
<circle cx="609.9" cy="212.7" r="0.6" fill="#f9a365"/>
<circle cx="617.6" cy="222.4" r="0.6" fill="#f9a265"/>
<circle cx="600.5" cy="207.8" r="0.6" fill="#f9a265"/>
<circle cx="600.6" cy="207.8" r="0.6" fill="#f9a265"/>
<circle cx="602.5" cy="212.8" r="0.6" fill="#f9a264"/>
<circle cx="601.9" cy="206.4" r="0.6" fill="#f9a264"/>
<circle cx="595.3" cy="211.6" r="0.6" fill="#f9a164"/>
<circle cx="605.2" cy="212.6" r="0.6" fill="#f9a164"/>
<circle cx="598.6" cy="210.6" r="0.6" fill="#f9a164"/>
<circle cx="604.6" cy="209.1" r="0.6" fill="#f9a163"/>
<circle cx="604.8" cy="215.6" r="0.6" fill="#f9a163"/>
<circle cx="616.3" cy="218.8" r="0.6" fill="#f9a163"/>
<circle cx="604.6" cy="206.8" r="0.6" fill="#f9a163"/>
<circle cx="597.3" cy="209.5" r="0.6" fill="#f9a063"/>
<circle cx="609.3" cy="208.2" r="0.6" fill="#f9a062"/>
<circle cx="594.2" cy="215.2" r="0.6" fill="#f9a062"/>
<circle cx="607.5" cy="211.4" r="0.6" fill="#f99f62"/>
<circle cx="595.2" cy="206.2" r="0.6" fill="#f99f62"/>
<circle cx="603.2" cy="210.8" r="0.6" fill="#f99f62"/>
<circle cx="603.3" cy="216.3" r="0.6" fill="#f99f61"/>
<circle cx="599.7" cy="214.1" r="0.6" fill="#f99f61"/>
<circle cx="609.5" cy="215.9" r="0.6" fill="#f99e61"/>
<circle cx="597.3" cy="213.1" r="0.6" fill="#f99e61"/>
<circle cx="593.3" cy="207.5" r="0.6" fill="#f99e61"/>
<circle cx="618.2" cy="225.4" r="0.6" fill="#f99e61"/>
<circle cx="594.4" cy="210.5" r="0.6" fill="#f99e61"/>
<circle cx="599.3" cy="211.3" r="0.6" fill="#f99e61"/>
<circle cx="619.7" cy="223.8" r="0.6" fill="#f99e61"/>
<circle cx="606.6" cy="211.2" r="0.6" fill="#f99d61"/>
<circle cx="611.9" cy="209.5" r="0.6" fill="#f99d60"/>
<circle cx="603.3" cy="212.7" r="0.6" fill="#f99d60"/>
<circle cx="609.2" cy="213.7" r="0.6" fill="#f99d60"/>
<circle cx="595.5" cy="214.1" r="0.6" fill="#f99d60"/>
<circle cx="601.5" cy="208.8" r="0.6" fill="#f99d60"/>
<circle cx="591.8" cy="212.6" r="0.6" fill="#f89c60"/>
<circle cx="600.7" cy="215.0" r="0.6" fill="#f89c60"/>
<circle cx="596.1" cy="216.0" r="0.6" fill="#f89c60"/>
<circle cx="605.6" cy="206.2" r="0.6" fill="#f89c60"/>
<circle cx="620.1" cy="219.9" r="0.6" fill="#f89c60"/>
<circle cx="614.9" cy="219.4" r="0.6" fill="#f89c60"/>
<circle cx="608.4" cy="211.3" r="0.6" fill="#f89b5f"/>
<circle cx="598.1" cy="209.7" r="0.6" fill="#f89b5f"/>
<circle cx="600.1" cy="216.9" r="0.6" fill="#f89b5f"/>
<circle cx="595.4" cy="209.9" r="0.6" fill="#f89a5f"/>
<circle cx="608.9" cy="208.6" r="0.6" fill="#f89a5f"/>
<circle cx="608.1" cy="216.4" r="0.6" fill="#f8995e"/>
<circle cx="616.8" cy="218.1" r="0.6" fill="#f8995e"/>
<circle cx="602.7" cy="213.1" r="0.6" fill="#f8995e"/>
<circle cx="602.3" cy="214.0" r="0.6" fill="#f8995e"/>
<circle cx="624.9" cy="208.3" r="0.6" fill="#f8985e"/>
<circle cx="620.6" cy="220.3" r="0.6" fill="#f8985e"/>
<circle cx="610.8" cy="208.8" r="0.6" fill="#f8985e"/>
<circle cx="602.6" cy="179.5" r="0.6" fill="#f8985e"/>
<circle cx="596.8" cy="215.7" r="0.6" fill="#f8985e"/>
<circle cx="601.3" cy="212.3" r="0.6" fill="#f8985e"/>
<circle cx="595.1" cy="214.5" r="0.6" fill="#f8985e"/>
<circle cx="603.9" cy="216.8" r="0.6" fill="#f8975d"/>
<circle cx="601.7" cy="205.5" r="0.6" fill="#f8975d"/>
<circle cx="598.2" cy="212.7" r="0.6" fill="#f8975d"/>
<circle cx="623.8" cy="212.0" r="0.6" fill="#f8965d"/>
<circle cx="594.2" cy="213.3" r="0.6" fill="#f8965c"/>
<circle cx="601.0" cy="210.1" r="0.6" fill="#f7955c"/>
<circle cx="601.1" cy="210.5" r="0.6" fill="#f7945c"/>
<circle cx="597.7" cy="200.8" r="0.6" fill="#f7945c"/>
<circle cx="596.0" cy="206.8" r="0.6" fill="#f7945c"/>
<circle cx="601.1" cy="209.7" r="0.6" fill="#f7945b"/>
<circle cx="608.0" cy="213.7" r="0.6" fill="#f7935b"/>
<circle cx="607.0" cy="209.7" r="0.6" fill="#f7935b"/>
<circle cx="603.1" cy="217.0" r="0.6" fill="#f7925a"/>
<circle cx="600.8" cy="212.7" r="0.6" fill="#f7925a"/>
<circle cx="610.1" cy="211.3" r="0.6" fill="#f7925a"/>
<circle cx="617.2" cy="222.6" r="0.6" fill="#f7915a"/>
<circle cx="596.0" cy="212.0" r="0.6" fill="#f7915a"/>
<circle cx="597.9" cy="200.7" r="0.6" fill="#f7915a"/>
<circle cx="596.8" cy="201.4" r="0.6" fill="#f79059"/>
<circle cx="593.6" cy="211.2" r="0.6" fill="#f79059"/>
<circle cx="600.9" cy="205.9" r="0.6" fill="#f79059"/>
<circle cx="605.0" cy="216.0" r="0.6" fill="#f79059"/>
<circle cx="595.5" cy="209.0" r="0.6" fill="#f79059"/>
<circle cx="608.0" cy="211.4" r="0.6" fill="#f78f59"/>
<circle cx="596.2" cy="209.7" r="0.6" fill="#f68f59"/>
<circle cx="620.4" cy="220.0" r="0.6" fill="#f68f59"/>
<circle cx="603.1" cy="211.9" r="0.6" fill="#f68f59"/>
<circle cx="614.2" cy="218.3" r="0.6" fill="#f68e58"/>
<circle cx="595.7" cy="208.5" r="0.6" fill="#f68e58"/>
<circle cx="593.4" cy="209.8" r="0.6" fill="#f68c57"/>
<circle cx="600.2" cy="210.1" r="0.6" fill="#f68c57"/>
<circle cx="596.4" cy="216.8" r="0.6" fill="#f68c57"/>
<circle cx="600.0" cy="214.3" r="0.6" fill="#f68c57"/>
<circle cx="602.8" cy="182.2" r="0.6" fill="#f68c57"/>
<circle cx="616.1" cy="209.7" r="0.6" fill="#f68c57"/>
<circle cx="601.4" cy="184.2" r="0.6" fill="#f68b57"/>
<circle cx="597.7" cy="206.7" r="0.6" fill="#f68b57"/>
<circle cx="602.4" cy="180.5" r="0.6" fill="#f68b56"/>
<circle cx="602.2" cy="180.6" r="0.6" fill="#f68a56"/>
<circle cx="608.0" cy="211.8" r="0.6" fill="#f68956"/>
<circle cx="606.1" cy="206.8" r="0.6" fill="#f68855"/>
<circle cx="620.4" cy="209.6" r="0.6" fill="#f68855"/>
<circle cx="598.9" cy="208.9" r="0.6" fill="#f58855"/>
<circle cx="622.1" cy="218.7" r="0.6" fill="#f58855"/>
<circle cx="598.1" cy="205.4" r="0.6" fill="#f58755"/>
<circle cx="626.1" cy="210.0" r="0.6" fill="#f58755"/>
<circle cx="593.9" cy="215.1" r="0.6" fill="#f58654"/>
<circle cx="601.6" cy="216.8" r="0.6" fill="#f58654"/>
<circle cx="606.4" cy="209.9" r="0.6" fill="#f58654"/>
<circle cx="622.0" cy="218.7" r="0.6" fill="#f58554"/>
<circle cx="603.1" cy="181.0" r="0.6" fill="#f58553"/>
<circle cx="601.5" cy="212.9" r="0.6" fill="#f58553"/>
<circle cx="601.8" cy="216.4" r="0.6" fill="#f58453"/>
<circle cx="598.5" cy="216.5" r="0.6" fill="#f58453"/>
<circle cx="597.0" cy="201.4" r="0.6" fill="#f58353"/>
<circle cx="596.2" cy="215.2" r="0.6" fill="#f58352"/>
<circle cx="598.6" cy="216.6" r="0.6" fill="#f58352"/>
<circle cx="611.8" cy="212.8" r="0.6" fill="#f58352"/>
<circle cx="609.2" cy="209.5" r="0.6" fill="#f58352"/>
<circle cx="592.3" cy="211.9" r="0.6" fill="#f58252"/>
<circle cx="604.1" cy="214.5" r="0.6" fill="#f58252"/>
<circle cx="600.1" cy="206.5" r="0.6" fill="#f48151"/>
<circle cx="605.2" cy="211.6" r="0.6" fill="#f48151"/>
<circle cx="605.6" cy="210.2" r="0.6" fill="#f48151"/>
<circle cx="596.4" cy="211.3" r="0.6" fill="#f48050"/>
<circle cx="596.9" cy="209.1" r="0.6" fill="#f47f50"/>
<circle cx="602.4" cy="181.8" r="0.6" fill="#f47f50"/>
<circle cx="615.2" cy="216.3" r="0.6" fill="#f47e50"/>
<circle cx="601.3" cy="205.8" r="0.6" fill="#f47e50"/>
<circle cx="603.3" cy="206.1" r="0.6" fill="#f47d4f"/>
<circle cx="592.9" cy="208.7" r="0.6" fill="#f47d4f"/>
<circle cx="610.3" cy="215.0" r="0.6" fill="#f47d4f"/>
<circle cx="623.7" cy="213.4" r="0.6" fill="#f47d4f"/>
<circle cx="626.7" cy="208.3" r="0.6" fill="#f47d4f"/>
<circle cx="600.1" cy="215.2" r="0.6" fill="#f47d4f"/>
<circle cx="620.5" cy="220.0" r="0.6" fill="#f47d4f"/>
<circle cx="597.7" cy="200.8" r="0.6" fill="#f47d4f"/>
<circle cx="606.8" cy="207.4" r="0.6" fill="#f47c4f"/>
<circle cx="599.4" cy="205.6" r="0.6" fill="#f47c4f"/>
<circle cx="602.7" cy="213.5" r="0.6" fill="#f47c4f"/>
<circle cx="610.8" cy="212.6" r="0.6" fill="#f47c4e"/>
<circle cx="601.5" cy="209.0" r="0.6" fill="#f47a4e"/>
<circle cx="602.5" cy="180.7" r="0.6" fill="#f47a4e"/>
<circle cx="601.4" cy="210.1" r="0.6" fill="#f3794d"/>
<circle cx="601.7" cy="215.9" r="0.6" fill="#f3794d"/>
<circle cx="608.1" cy="213.1" r="0.6" fill="#f3794d"/>
<circle cx="602.5" cy="180.4" r="0.6" fill="#f3794d"/>
<circle cx="607.1" cy="210.7" r="0.6" fill="#f3794d"/>
<circle cx="595.8" cy="213.3" r="0.6" fill="#f3784d"/>
<circle cx="617.1" cy="212.7" r="0.6" fill="#f3784c"/>
<circle cx="602.2" cy="207.5" r="0.6" fill="#f3764b"/>
<circle cx="620.8" cy="220.6" r="0.6" fill="#f3764b"/>
<circle cx="613.2" cy="216.3" r="0.6" fill="#f3754b"/>
<circle cx="596.5" cy="207.4" r="0.6" fill="#f27249"/>
<circle cx="610.9" cy="208.9" r="0.6" fill="#f27249"/>
<circle cx="609.1" cy="208.8" r="0.6" fill="#f27249"/>
<circle cx="605.7" cy="213.5" r="0.6" fill="#f27149"/>
<circle cx="602.0" cy="217.2" r="0.6" fill="#f27149"/>
<circle cx="602.5" cy="210.1" r="0.6" fill="#f27148"/>
<circle cx="602.9" cy="207.2" r="0.6" fill="#f27048"/>
<circle cx="598.6" cy="213.4" r="0.6" fill="#f16d49"/>
<circle cx="601.4" cy="211.7" r="0.6" fill="#f16d49"/>
<circle cx="605.8" cy="211.6" r="0.6" fill="#f06c49"/>
<circle cx="601.4" cy="217.4" r="0.6" fill="#f06c49"/>
<circle cx="621.6" cy="207.7" r="0.6" fill="#f06b49"/>
<circle cx="606.8" cy="210.2" r="0.6" fill="#ef694a"/>
<circle cx="597.9" cy="201.0" r="0.6" fill="#ee654b"/>
<circle cx="605.7" cy="207.8" r="0.6" fill="#ed634c"/>
<circle cx="619.2" cy="208.4" r="0.6" fill="#ed634c"/>
<circle cx="614.2" cy="209.1" r="0.6" fill="#ec624c"/>
<circle cx="606.7" cy="213.9" r="0.6" fill="#eb5e4d"/>
<circle cx="617.4" cy="210.6" r="0.6" fill="#ea5c4e"/>
<circle cx="601.5" cy="213.3" r="0.6" fill="#ea5c4e"/>
<circle cx="616.8" cy="210.8" r="0.6" fill="#ea5c4e"/>
<circle cx="621.4" cy="208.5" r="0.6" fill="#e9594f"/>
<circle cx="622.7" cy="208.3" r="0.6" fill="#e9594f"/>
<circle cx="601.3" cy="205.5" r="0.6" fill="#e75450"/>
<circle cx="615.5" cy="210.4" r="0.6" fill="#e65251"/>
<circle cx="616.9" cy="212.6" r="0.6" fill="#e55051"/>
<circle cx="616.1" cy="208.7" r="0.6" fill="#e55052"/>
<circle cx="603.6" cy="209.2" r="0.6" fill="#e44c53"/>
<circle cx="619.7" cy="209.6" r="0.6" fill="#e34c53"/>
<circle cx="619.0" cy="212.2" r="0.6" fill="#e34c53"/>
<circle cx="621.7" cy="210.5" r="0.6" fill="#e34c53"/>
<circle cx="615.5" cy="212.2" r="0.6" fill="#e24a53"/>
<circle cx="617.1" cy="211.0" r="0.6" fill="#e24954"/>
<circle cx="621.9" cy="209.8" r="0.6" fill="#e24854"/>
<circle cx="617.3" cy="210.7" r="0.6" fill="#e14754"/>
<circle cx="595.8" cy="215.6" r="0.6" fill="#e14654"/>
<circle cx="603.1" cy="209.0" r="0.6" fill="#e14555"/>
<circle cx="602.1" cy="205.5" r="0.6" fill="#e04555"/>
<circle cx="615.7" cy="208.6" r="0.6" fill="#de3e57"/>
<circle cx="615.4" cy="210.2" r="0.6" fill="#de3e57"/>
<circle cx="621.8" cy="209.2" r="0.6" fill="#de3e57"/>
<circle cx="620.0" cy="211.8" r="0.6" fill="#de3e57"/>
<circle cx="621.8" cy="210.3" r="0.6" fill="#dd3d57"/>
<circle cx="621.2" cy="208.2" r="0.6" fill="#dd3c58"/>
<circle cx="597.0" cy="201.1" r="0.6" fill="#dd3b58"/>
<circle cx="619.7" cy="209.1" r="0.6" fill="#dc3a58"/>
<circle cx="621.1" cy="208.5" r="0.6" fill="#db3958"/>
<circle cx="620.7" cy="210.5" r="0.6" fill="#db3958"/>
<circle cx="615.1" cy="211.6" r="0.6" fill="#da3859"/>
<circle cx="621.8" cy="212.9" r="0.6" fill="#da3859"/>
<circle cx="619.0" cy="210.3" r="0.6" fill="#d93859"/>
<circle cx="613.2" cy="217.5" r="0.6" fill="#d7365a"/>
<circle cx="617.2" cy="212.6" r="0.6" fill="#d6355a"/>
<circle cx="617.6" cy="208.4" r="0.6" fill="#d5355b"/>
<circle cx="614.9" cy="212.5" r="0.6" fill="#d5345b"/>
<circle cx="619.5" cy="209.9" r="0.6" fill="#d1315d"/>
<circle cx="610.6" cy="219.5" r="0.6" fill="#cf305d"/>
<circle cx="616.5" cy="207.9" r="0.6" fill="#c92a60"/>
<circle cx="613.0" cy="215.1" r="0.6" fill="#c82a61"/>
<circle cx="620.3" cy="208.2" r="0.6" fill="#c72961"/>
<circle cx="619.6" cy="208.9" r="0.6" fill="#c52862"/>
<circle cx="621.5" cy="207.8" r="0.6" fill="#c52762"/>
<circle cx="621.0" cy="218.6" r="0.6" fill="#c42762"/>
<circle cx="614.1" cy="208.3" r="0.6" fill="#c22563"/>
<circle cx="619.9" cy="211.0" r="0.6" fill="#c12464"/>
<circle cx="622.0" cy="212.3" r="0.6" fill="#bf2364"/>
<circle cx="617.9" cy="211.4" r="0.6" fill="#bd2165"/>
<circle cx="621.5" cy="208.4" r="0.6" fill="#bb2066"/>
<circle cx="620.1" cy="219.7" r="0.6" fill="#bb1f66"/>
<circle cx="622.3" cy="213.9" r="0.6" fill="#ba1f67"/>
<circle cx="624.6" cy="213.4" r="0.6" fill="#b91e67"/>
<circle cx="617.0" cy="209.4" r="0.6" fill="#b71c68"/>
<circle cx="617.8" cy="212.6" r="0.6" fill="#b61b68"/>
<circle cx="622.0" cy="219.9" r="0.6" fill="#b61b68"/>
<circle cx="618.4" cy="211.7" r="0.6" fill="#b41a69"/>
<circle cx="612.3" cy="224.6" r="0.6" fill="#b41a69"/>
<circle cx="625.7" cy="208.3" r="0.6" fill="#b2186a"/>
<circle cx="618.9" cy="226.6" r="0.6" fill="#b2186a"/>
<circle cx="622.5" cy="216.1" r="0.6" fill="#b2186a"/>
<circle cx="618.8" cy="223.5" r="0.6" fill="#ae176a"/>
<circle cx="615.1" cy="210.4" r="0.6" fill="#ad176a"/>
<circle cx="624.1" cy="213.8" r="0.6" fill="#ad176a"/>
<circle cx="615.0" cy="210.9" r="0.6" fill="#ad176a"/>
<circle cx="634.9" cy="208.4" r="0.6" fill="#ac176a"/>
<circle cx="616.2" cy="215.9" r="0.6" fill="#ac176a"/>
<circle cx="626.3" cy="208.0" r="0.6" fill="#ac176a"/>
<circle cx="624.4" cy="211.8" r="0.6" fill="#a91669"/>
<circle cx="634.2" cy="207.6" r="0.6" fill="#a71669"/>
<circle cx="622.3" cy="219.7" r="0.6" fill="#a71669"/>
<circle cx="619.2" cy="225.8" r="0.6" fill="#a61569"/>
<circle cx="610.0" cy="221.5" r="0.6" fill="#a51569"/>
<circle cx="634.5" cy="207.1" r="0.6" fill="#a41569"/>
<circle cx="620.5" cy="223.2" r="0.6" fill="#a41569"/>
<circle cx="633.8" cy="196.8" r="0.6" fill="#a41569"/>
<circle cx="633.4" cy="196.4" r="0.6" fill="#a41569"/>
<circle cx="623.9" cy="212.2" r="0.6" fill="#a31569"/>
<circle cx="633.3" cy="201.9" r="0.6" fill="#a31569"/>
<circle cx="622.1" cy="218.8" r="0.6" fill="#a31569"/>
<circle cx="619.9" cy="223.8" r="0.6" fill="#a21569"/>
<circle cx="622.7" cy="212.0" r="0.6" fill="#a21469"/>
<circle cx="623.7" cy="212.6" r="0.6" fill="#a21469"/>
<circle cx="626.7" cy="208.8" r="0.6" fill="#9e1469"/>
<circle cx="625.8" cy="203.6" r="0.6" fill="#9d1369"/>
<circle cx="620.3" cy="222.1" r="0.6" fill="#9c1369"/>
<circle cx="633.4" cy="196.4" r="0.6" fill="#9b1369"/>
<circle cx="620.1" cy="225.0" r="0.6" fill="#9a1369"/>
<circle cx="635.1" cy="209.2" r="0.6" fill="#991269"/>
<circle cx="623.6" cy="212.5" r="0.6" fill="#991269"/>
<circle cx="627.5" cy="209.3" r="0.6" fill="#991269"/>
<circle cx="620.8" cy="217.7" r="0.6" fill="#981269"/>
<circle cx="633.7" cy="206.9" r="0.6" fill="#981269"/>
<circle cx="623.7" cy="210.8" r="0.6" fill="#981269"/>
<circle cx="633.3" cy="206.8" r="0.6" fill="#971269"/>
<circle cx="624.8" cy="214.9" r="0.6" fill="#961268"/>
<circle cx="633.4" cy="208.1" r="0.6" fill="#961268"/>
<circle cx="626.7" cy="203.0" r="0.6" fill="#951268"/>
<circle cx="633.6" cy="210.3" r="0.6" fill="#941168"/>
<circle cx="629.3" cy="212.1" r="0.6" fill="#941168"/>
<circle cx="632.8" cy="202.4" r="0.6" fill="#921168"/>
<circle cx="627.8" cy="205.2" r="0.6" fill="#921168"/>
<circle cx="633.6" cy="209.6" r="0.6" fill="#911168"/>
<circle cx="618.3" cy="224.5" r="0.6" fill="#911168"/>
<circle cx="630.6" cy="210.5" r="0.6" fill="#901068"/>
<circle cx="634.5" cy="203.0" r="0.6" fill="#8f1068"/>
<circle cx="633.4" cy="211.4" r="0.6" fill="#8e1068"/>
<circle cx="633.9" cy="198.9" r="0.6" fill="#8e1068"/>
<circle cx="634.9" cy="203.9" r="0.6" fill="#8e1068"/>
<circle cx="634.0" cy="198.0" r="0.6" fill="#8d1068"/>
<circle cx="626.7" cy="204.4" r="0.6" fill="#8d1068"/>
<circle cx="632.9" cy="201.2" r="0.6" fill="#8b1067"/>
<circle cx="627.8" cy="200.1" r="0.6" fill="#891066"/>
<circle cx="635.0" cy="202.5" r="0.6" fill="#881066"/>
<circle cx="627.3" cy="210.8" r="0.6" fill="#881066"/>
<circle cx="615.8" cy="217.0" r="0.6" fill="#880f66"/>
<circle cx="633.9" cy="211.9" r="0.6" fill="#880f66"/>
<circle cx="634.4" cy="209.7" r="0.6" fill="#870f66"/>
<circle cx="627.4" cy="197.4" r="0.6" fill="#860f65"/>
<circle cx="634.2" cy="209.9" r="0.6" fill="#860f65"/>
<circle cx="620.3" cy="225.6" r="0.6" fill="#850f65"/>
<circle cx="635.2" cy="203.4" r="0.6" fill="#850f65"/>
<circle cx="633.8" cy="196.6" r="0.6" fill="#810f63"/>
<circle cx="627.7" cy="213.2" r="0.6" fill="#810f63"/>
<circle cx="612.8" cy="217.2" r="0.6" fill="#800f63"/>
<circle cx="631.7" cy="197.3" r="0.6" fill="#800f63"/>
<circle cx="627.0" cy="196.3" r="0.6" fill="#800f63"/>
<circle cx="633.5" cy="198.8" r="0.6" fill="#800f63"/>
<circle cx="633.5" cy="205.2" r="0.6" fill="#800f63"/>
<circle cx="632.4" cy="200.1" r="0.6" fill="#800f63"/>
<circle cx="632.7" cy="201.2" r="0.6" fill="#7f0f63"/>
<circle cx="633.4" cy="205.5" r="0.6" fill="#7f0f63"/>
<circle cx="633.7" cy="207.3" r="0.6" fill="#7f0f62"/>
<circle cx="634.3" cy="201.1" r="0.6" fill="#7f0f62"/>
<circle cx="626.0" cy="214.4" r="0.6" fill="#7e0f62"/>
<circle cx="628.5" cy="206.7" r="0.6" fill="#7e0f62"/>
<circle cx="626.7" cy="199.7" r="0.6" fill="#7c0f61"/>
<circle cx="629.2" cy="210.9" r="0.6" fill="#7c0e61"/>
<circle cx="634.5" cy="199.8" r="0.6" fill="#7c0e61"/>
<circle cx="631.9" cy="201.4" r="0.6" fill="#7b0e61"/>
<circle cx="633.6" cy="210.4" r="0.6" fill="#7b0e61"/>
<circle cx="629.8" cy="212.1" r="0.6" fill="#7b0e61"/>
<circle cx="625.7" cy="195.4" r="0.6" fill="#7b0e61"/>
<circle cx="625.6" cy="203.4" r="0.6" fill="#7a0e60"/>
<circle cx="634.0" cy="202.0" r="0.6" fill="#790e60"/>
<circle cx="628.0" cy="209.7" r="0.6" fill="#790e60"/>
<circle cx="633.3" cy="202.6" r="0.6" fill="#790e60"/>
<circle cx="626.3" cy="202.1" r="0.6" fill="#770e5f"/>
<circle cx="629.0" cy="206.9" r="0.6" fill="#760e5f"/>
<circle cx="632.5" cy="209.4" r="0.6" fill="#760e5f"/>
<circle cx="632.4" cy="200.7" r="0.6" fill="#750e5f"/>
<circle cx="633.1" cy="206.2" r="0.6" fill="#750e5f"/>
<circle cx="628.0" cy="206.5" r="0.6" fill="#720e5e"/>
<circle cx="625.6" cy="198.2" r="0.6" fill="#720e5d"/>
<circle cx="632.7" cy="201.8" r="0.6" fill="#720e5d"/>
<circle cx="629.2" cy="211.3" r="0.6" fill="#720e5d"/>
<circle cx="622.6" cy="222.9" r="0.6" fill="#710e5d"/>
<circle cx="628.3" cy="201.9" r="0.6" fill="#710e5d"/>
<circle cx="633.7" cy="208.4" r="0.6" fill="#710e5d"/>
<circle cx="632.7" cy="208.4" r="0.6" fill="#710e5d"/>
<circle cx="628.1" cy="204.6" r="0.6" fill="#700e5d"/>
<circle cx="633.5" cy="208.7" r="0.6" fill="#700d5d"/>
<circle cx="633.1" cy="206.4" r="0.6" fill="#700d5d"/>
<circle cx="628.4" cy="206.8" r="0.6" fill="#6f0d5d"/>
<circle cx="634.5" cy="211.7" r="0.6" fill="#6f0d5c"/>
<circle cx="633.9" cy="208.0" r="0.6" fill="#6f0d5c"/>
<circle cx="632.9" cy="198.8" r="0.6" fill="#6e0d5c"/>
<circle cx="626.9" cy="204.6" r="0.6" fill="#6e0d5c"/>
<circle cx="626.0" cy="202.5" r="0.6" fill="#6d0d5b"/>
<circle cx="625.6" cy="213.8" r="0.6" fill="#6c0d5b"/>
<circle cx="625.9" cy="194.9" r="0.6" fill="#6c0d5b"/>
<circle cx="625.7" cy="213.0" r="0.6" fill="#6c0d5b"/>
<circle cx="628.4" cy="208.1" r="0.6" fill="#6b0d5b"/>
<circle cx="627.6" cy="212.3" r="0.6" fill="#6b0d5b"/>
<circle cx="628.2" cy="209.2" r="0.6" fill="#6b0d5b"/>
<circle cx="627.2" cy="201.4" r="0.6" fill="#6b0d5b"/>
<circle cx="635.1" cy="201.6" r="0.6" fill="#6b0d5b"/>
<circle cx="633.2" cy="199.3" r="0.6" fill="#6a0d5b"/>
<circle cx="627.4" cy="211.2" r="0.6" fill="#6a0d5a"/>
<circle cx="627.8" cy="205.1" r="0.6" fill="#690d5a"/>
<circle cx="632.4" cy="198.1" r="0.6" fill="#690d5a"/>
<circle cx="634.2" cy="204.2" r="0.6" fill="#690d5a"/>
<circle cx="626.8" cy="212.4" r="0.6" fill="#690d5a"/>
<circle cx="628.2" cy="209.8" r="0.6" fill="#680d5a"/>
<circle cx="627.2" cy="206.9" r="0.6" fill="#680d5a"/>
<circle cx="631.4" cy="207.2" r="0.6" fill="#680d5a"/>
<circle cx="634.0" cy="211.9" r="0.6" fill="#670d59"/>
<circle cx="632.8" cy="202.1" r="0.6" fill="#670d59"/>
<circle cx="634.4" cy="210.9" r="0.6" fill="#660d59"/>
<circle cx="634.4" cy="202.7" r="0.6" fill="#660d59"/>
<circle cx="626.5" cy="205.4" r="0.6" fill="#660d59"/>
<circle cx="624.1" cy="220.4" r="0.6" fill="#660d59"/>
<circle cx="634.8" cy="211.0" r="0.6" fill="#650d59"/>
<circle cx="627.3" cy="210.8" r="0.6" fill="#650d59"/>
<circle cx="634.9" cy="205.6" r="0.6" fill="#650d59"/>
<circle cx="625.4" cy="198.2" r="0.6" fill="#650d59"/>
<circle cx="634.2" cy="208.0" r="0.6" fill="#650d59"/>
<circle cx="634.6" cy="209.6" r="0.6" fill="#650d59"/>
<circle cx="627.0" cy="200.2" r="0.6" fill="#650d58"/>
<circle cx="628.5" cy="213.2" r="0.6" fill="#650d58"/>
<circle cx="628.4" cy="212.6" r="0.6" fill="#640d58"/>
<circle cx="626.3" cy="197.5" r="0.6" fill="#640d58"/>
<circle cx="621.5" cy="223.3" r="0.6" fill="#640d58"/>
<circle cx="634.5" cy="209.2" r="0.6" fill="#640d58"/>
<circle cx="633.1" cy="208.1" r="0.6" fill="#640d58"/>
<circle cx="626.3" cy="206.5" r="0.6" fill="#640c58"/>
<circle cx="625.4" cy="197.5" r="0.6" fill="#640c58"/>
<circle cx="630.6" cy="206.5" r="0.6" fill="#630c58"/>
<circle cx="627.4" cy="204.8" r="0.6" fill="#630c58"/>
<circle cx="631.9" cy="195.9" r="0.6" fill="#630c58"/>
<circle cx="623.9" cy="217.1" r="0.6" fill="#630c58"/>
<circle cx="627.3" cy="210.1" r="0.6" fill="#620c58"/>
<circle cx="633.2" cy="208.0" r="0.6" fill="#620c58"/>
<circle cx="633.2" cy="197.3" r="0.6" fill="#610c57"/>
<circle cx="633.0" cy="207.3" r="0.6" fill="#600c57"/>
<circle cx="632.2" cy="199.2" r="0.6" fill="#5f0c57"/>
<circle cx="627.1" cy="195.8" r="0.6" fill="#5f0c56"/>
<circle cx="633.0" cy="197.4" r="0.6" fill="#5f0c56"/>
<circle cx="628.3" cy="206.1" r="0.6" fill="#5f0c56"/>
<circle cx="630.0" cy="206.9" r="0.6" fill="#5e0c56"/>
<circle cx="626.7" cy="204.0" r="0.6" fill="#5e0c56"/>
<circle cx="628.4" cy="204.8" r="0.6" fill="#5d0c55"/>
<circle cx="632.4" cy="198.4" r="0.6" fill="#5d0c55"/>
<circle cx="632.6" cy="210.5" r="0.6" fill="#5d0c55"/>
<circle cx="628.3" cy="202.0" r="0.6" fill="#5c0c55"/>
<circle cx="629.2" cy="211.1" r="0.6" fill="#5c0c54"/>
<circle cx="626.3" cy="195.6" r="0.6" fill="#5b0c54"/>
<circle cx="633.4" cy="208.8" r="0.6" fill="#5b0c54"/>
<circle cx="626.0" cy="198.8" r="0.6" fill="#5a0c53"/>
<circle cx="624.9" cy="198.2" r="0.6" fill="#5a0c53"/>
<circle cx="630.4" cy="208.5" r="0.6" fill="#590c53"/>
<circle cx="628.0" cy="208.7" r="0.6" fill="#590c52"/>
<circle cx="627.3" cy="196.7" r="0.6" fill="#580c52"/>
<circle cx="627.9" cy="204.9" r="0.6" fill="#580c51"/>
<circle cx="627.6" cy="200.0" r="0.6" fill="#580c51"/>
<circle cx="624.0" cy="217.6" r="0.6" fill="#570c51"/>
<circle cx="633.0" cy="203.1" r="0.6" fill="#570c51"/>
<circle cx="630.3" cy="211.2" r="0.6" fill="#570c51"/>
<circle cx="627.0" cy="207.4" r="0.6" fill="#570c51"/>
<circle cx="628.4" cy="208.4" r="0.6" fill="#570c51"/>
<circle cx="626.7" cy="214.2" r="0.6" fill="#550c4f"/>
<circle cx="622.5" cy="222.8" r="0.6" fill="#540c4f"/>
<circle cx="635.0" cy="211.6" r="0.6" fill="#540c4f"/>
<circle cx="633.1" cy="210.0" r="0.6" fill="#540c4f"/>
<circle cx="632.0" cy="199.1" r="0.6" fill="#540c4f"/>
<circle cx="633.5" cy="206.5" r="0.6" fill="#530c4e"/>
<circle cx="628.3" cy="201.7" r="0.6" fill="#530c4e"/>
<circle cx="633.7" cy="211.8" r="0.6" fill="#520b4d"/>
<circle cx="627.6" cy="207.9" r="0.6" fill="#510b4c"/>
<circle cx="632.6" cy="204.3" r="0.6" fill="#510b4c"/>
<circle cx="626.0" cy="198.1" r="0.6" fill="#4f0b4b"/>
<circle cx="628.0" cy="203.9" r="0.6" fill="#4f0b4b"/>
<circle cx="628.9" cy="211.6" r="0.6" fill="#4f0b4b"/>
<circle cx="632.3" cy="201.4" r="0.6" fill="#4e0b4a"/>
<circle cx="625.4" cy="194.3" r="0.6" fill="#4e0b4a"/>
<circle cx="631.8" cy="211.8" r="0.6" fill="#4e0b4a"/>
<circle cx="632.4" cy="201.3" r="0.6" fill="#4e0b4a"/>
<circle cx="628.6" cy="209.3" r="0.6" fill="#4e0b4a"/>
<circle cx="634.3" cy="210.0" r="0.6" fill="#4d0b49"/>
<circle cx="614.6" cy="222.1" r="0.6" fill="#4d0b49"/>
<circle cx="627.9" cy="209.2" r="0.6" fill="#4c0b49"/>
<circle cx="626.2" cy="196.5" r="0.6" fill="#4c0b49"/>
<circle cx="623.5" cy="219.5" r="0.6" fill="#4b0b48"/>
<circle cx="627.7" cy="210.8" r="0.6" fill="#4b0b48"/>
<circle cx="630.5" cy="210.4" r="0.6" fill="#4b0b48"/>
<circle cx="633.7" cy="196.2" r="0.6" fill="#4b0b48"/>
<circle cx="626.5" cy="213.6" r="0.6" fill="#4a0b47"/>
<circle cx="625.3" cy="198.4" r="0.6" fill="#4a0b47"/>
<circle cx="626.5" cy="211.4" r="0.6" fill="#490b47"/>
<circle cx="632.7" cy="208.1" r="0.6" fill="#490b46"/>
<circle cx="622.9" cy="222.2" r="0.6" fill="#480b46"/>
<circle cx="633.0" cy="211.7" r="0.6" fill="#480b46"/>
<circle cx="629.9" cy="212.3" r="0.6" fill="#480b45"/>
<circle cx="625.7" cy="217.5" r="0.6" fill="#470b45"/>
<circle cx="623.9" cy="218.1" r="0.6" fill="#470b45"/>
<circle cx="621.3" cy="224.5" r="0.6" fill="#470b45"/>
<circle cx="626.0" cy="200.8" r="0.6" fill="#460b45"/>
<circle cx="627.6" cy="211.6" r="0.6" fill="#460b44"/>
<circle cx="634.6" cy="205.9" r="0.6" fill="#450b43"/>
<circle cx="625.2" cy="217.2" r="0.6" fill="#440b43"/>
<circle cx="627.2" cy="196.8" r="0.6" fill="#430b42"/>
<circle cx="628.5" cy="212.0" r="0.6" fill="#430b42"/>
<circle cx="634.0" cy="207.6" r="0.6" fill="#430b42"/>
<circle cx="627.3" cy="209.8" r="0.6" fill="#430b42"/>
<circle cx="626.4" cy="202.8" r="0.6" fill="#430b42"/>
<circle cx="627.7" cy="206.2" r="0.6" fill="#420b42"/>
<circle cx="632.5" cy="207.8" r="0.6" fill="#420b41"/>
<circle cx="631.5" cy="209.7" r="0.6" fill="#420b41"/>
<circle cx="625.8" cy="200.6" r="0.6" fill="#410b40"/>
<circle cx="631.7" cy="209.8" r="0.6" fill="#410b40"/>
<circle cx="628.0" cy="207.3" r="0.6" fill="#400b40"/>
<circle cx="625.5" cy="215.5" r="0.6" fill="#400b40"/>
<circle cx="622.9" cy="221.2" r="0.6" fill="#400b40"/>
<circle cx="631.4" cy="207.0" r="0.6" fill="#400b40"/>
<circle cx="626.1" cy="196.7" r="0.6" fill="#400b40"/>
<circle cx="631.8" cy="212.3" r="0.6" fill="#3f0b3f"/>
<circle cx="628.1" cy="207.5" r="0.6" fill="#3f0b3f"/>
<circle cx="630.9" cy="208.4" r="0.6" fill="#3f0b3f"/>
<circle cx="629.2" cy="207.8" r="0.6" fill="#3e0b3f"/>
<circle cx="620.9" cy="225.2" r="0.6" fill="#3e0b3f"/>
<circle cx="633.8" cy="210.0" r="0.6" fill="#3c0b3d"/>
<circle cx="628.4" cy="207.7" r="0.6" fill="#3c0b3d"/>
<circle cx="625.0" cy="197.0" r="0.6" fill="#3c0b3d"/>
<circle cx="626.5" cy="202.0" r="0.6" fill="#3b0a3c"/>
<circle cx="625.4" cy="214.3" r="0.6" fill="#3b0a3c"/>
<circle cx="627.6" cy="199.4" r="0.6" fill="#3a0a3c"/>
<circle cx="623.1" cy="221.5" r="0.6" fill="#390a3b"/>
<circle cx="632.4" cy="208.2" r="0.6" fill="#390a3b"/>
<circle cx="627.9" cy="199.8" r="0.6" fill="#390a3b"/>
<circle cx="629.4" cy="211.9" r="0.6" fill="#390a3a"/>
<circle cx="623.1" cy="219.6" r="0.6" fill="#380a3a"/>
<circle cx="632.5" cy="208.2" r="0.6" fill="#370a39"/>
<circle cx="625.2" cy="197.5" r="0.6" fill="#370a39"/>
<circle cx="621.8" cy="224.3" r="0.6" fill="#370a39"/>
<circle cx="625.6" cy="197.4" r="0.6" fill="#370a39"/>
<circle cx="633.1" cy="208.2" r="0.6" fill="#370a39"/>
<circle cx="627.6" cy="204.3" r="0.6" fill="#360a39"/>
<circle cx="626.8" cy="210.6" r="0.6" fill="#360a38"/>
<circle cx="626.5" cy="212.5" r="0.6" fill="#350a37"/>
<circle cx="622.4" cy="222.1" r="0.6" fill="#340a37"/>
<circle cx="633.0" cy="211.4" r="0.6" fill="#340a37"/>
<circle cx="628.3" cy="204.1" r="0.6" fill="#340a37"/>
<circle cx="628.0" cy="205.3" r="0.6" fill="#340a37"/>
<circle cx="625.8" cy="214.4" r="0.6" fill="#330a37"/>
<circle cx="629.3" cy="209.6" r="0.6" fill="#330a36"/>
<circle cx="627.4" cy="209.5" r="0.6" fill="#320a35"/>
<circle cx="631.4" cy="206.8" r="0.6" fill="#2f0a33"/>
<circle cx="622.7" cy="220.8" r="0.6" fill="#2e0a33"/>
<circle cx="625.3" cy="214.4" r="0.6" fill="#2e0a33"/>
<circle cx="625.9" cy="202.6" r="0.6" fill="#2e0a32"/>
<circle cx="626.0" cy="205.3" r="0.6" fill="#2e0a32"/>
<circle cx="628.8" cy="208.8" r="0.6" fill="#2e0a32"/>
<circle cx="623.5" cy="221.3" r="0.6" fill="#2e0a32"/>
<circle cx="627.9" cy="210.0" r="0.6" fill="#2d0931"/>
<circle cx="630.4" cy="208.0" r="0.6" fill="#2c0931"/>
<circle cx="631.7" cy="206.7" r="0.6" fill="#2c0930"/>
<circle cx="628.8" cy="210.2" r="0.6" fill="#2b0930"/>
<circle cx="622.0" cy="223.2" r="0.6" fill="#2b092f"/>
<circle cx="629.9" cy="206.7" r="0.6" fill="#2a092e"/>
<circle cx="629.6" cy="210.2" r="0.6" fill="#29092d"/>
<circle cx="634.3" cy="211.5" r="0.6" fill="#29092d"/>
<circle cx="633.5" cy="209.2" r="0.6" fill="#28092d"/>
<circle cx="626.3" cy="215.6" r="0.6" fill="#28092d"/>
<circle cx="628.4" cy="203.5" r="0.6" fill="#28092d"/>
<circle cx="625.6" cy="216.1" r="0.6" fill="#28092c"/>
<circle cx="622.2" cy="220.8" r="0.6" fill="#28092c"/>
<circle cx="627.7" cy="198.3" r="0.6" fill="#26092b"/>
<circle cx="626.8" cy="211.1" r="0.6" fill="#26082a"/>
<circle cx="621.5" cy="222.2" r="0.6" fill="#240829"/>
<circle cx="625.4" cy="215.9" r="0.6" fill="#240829"/>
<circle cx="621.9" cy="222.2" r="0.6" fill="#230828"/>
<circle cx="633.7" cy="211.2" r="0.6" fill="#220826"/>
<circle cx="625.7" cy="197.8" r="0.6" fill="#210825"/>
<circle cx="626.9" cy="215.2" r="0.6" fill="#200825"/>
<circle cx="629.4" cy="209.6" r="0.6" fill="#200825"/>
<circle cx="626.0" cy="206.5" r="0.6" fill="#1f0824"/>
<circle cx="622.9" cy="222.4" r="0.6" fill="#1f0724"/>
<circle cx="625.1" cy="217.8" r="0.6" fill="#1e0723"/>
<circle cx="628.0" cy="210.2" r="0.6" fill="#1e0723"/>
<circle cx="631.8" cy="206.6" r="0.6" fill="#1d0722"/>
<circle cx="630.3" cy="211.0" r="0.6" fill="#1d0722"/>
<circle cx="633.2" cy="209.9" r="0.6" fill="#1d0722"/>
<circle cx="631.4" cy="211.1" r="0.6" fill="#1c0721"/>
<circle cx="631.1" cy="208.4" r="0.6" fill="#1b0720"/>
<circle cx="628.4" cy="206.9" r="0.6" fill="#1a0720"/>
<circle cx="627.6" cy="212.0" r="0.6" fill="#19071e"/>
<circle cx="629.3" cy="208.4" r="0.6" fill="#18061d"/>
<circle cx="628.4" cy="204.7" r="0.6" fill="#100516"/>
<circle cx="622.8" cy="220.7" r="0.6" fill="#0e0514"/>
<line x1="502.40" y1="251.50" x2="502.40" y2="306.20" stroke="#7a7a7a" stroke-width="0.8"/>
<line x1="502.00" y1="305.80" x2="551.80" y2="305.80" stroke="#7a7a7a" stroke-width="0.8"/>
<line x1="504.30" y1="305.80" x2="504.30" y2="306.80" stroke="#333" stroke-width="0.5"/>
<text x="504.30" y="310.70" font-size="4.6" text-anchor="middle" fill="#333" style="stroke-width:0.12px">-10</text>
<line x1="515.55" y1="305.80" x2="515.55" y2="306.80" stroke="#333" stroke-width="0.5"/>
<text x="515.55" y="310.70" font-size="4.6" text-anchor="middle" fill="#333" style="stroke-width:0.12px">-5</text>
<line x1="526.80" y1="305.80" x2="526.80" y2="306.80" stroke="#333" stroke-width="0.5"/>
<text x="526.80" y="310.70" font-size="4.6" text-anchor="middle" fill="#333" style="stroke-width:0.12px">0</text>
<line x1="538.05" y1="305.80" x2="538.05" y2="306.80" stroke="#333" stroke-width="0.5"/>
<text x="538.05" y="310.70" font-size="4.6" text-anchor="middle" fill="#333" style="stroke-width:0.12px">5</text>
<line x1="549.30" y1="305.80" x2="549.30" y2="306.80" stroke="#333" stroke-width="0.5"/>
<text x="549.30" y="310.70" font-size="4.6" text-anchor="middle" fill="#333" style="stroke-width:0.12px">10</text>
<line x1="501.40" y1="256.90" x2="502.40" y2="256.90" stroke="#333" stroke-width="0.5"/>
<text x="500.80" y="258.55" font-size="4.6" text-anchor="end" fill="#333" style="stroke-width:0.12px">10</text>
<line x1="501.40" y1="271.55" x2="502.40" y2="271.55" stroke="#333" stroke-width="0.5"/>
<text x="500.80" y="273.20" font-size="4.6" text-anchor="end" fill="#333" style="stroke-width:0.12px">5</text>
<line x1="501.40" y1="286.20" x2="502.40" y2="286.20" stroke="#333" stroke-width="0.5"/>
<text x="500.80" y="287.85" font-size="4.6" text-anchor="end" fill="#333" style="stroke-width:0.12px">0</text>
<line x1="501.40" y1="300.85" x2="502.40" y2="300.85" stroke="#333" stroke-width="0.5"/>
<text x="500.80" y="302.50" font-size="4.6" text-anchor="end" fill="#333" style="stroke-width:0.12px">-5</text>
<text x="526.80" y="315.50" font-size="5.2" text-anchor="middle" fill="#111">UMAP_1</text>
<text transform="translate(492.60,277.20) rotate(-90)" font-size="5.2" text-anchor="middle" fill="#111">UMAP_2</text>
<text x="527.00" y="248.70" font-size="5.6" text-anchor="middle" font-weight="bold" fill="#000">TP63</text>
<defs><linearGradient id="gTP63" x1="0" y1="0" x2="0" y2="1"><stop offset="0.00" stop-color="#0e0514"/><stop offset="0.10" stop-color="#2e0a38"/><stop offset="0.20" stop-color="#580c5c"/><stop offset="0.32" stop-color="#8a1070"/><stop offset="0.43" stop-color="#b0186c"/><stop offset="0.55" stop-color="#d83058"/><stop offset="0.67" stop-color="#ef6340"/><stop offset="0.78" stop-color="#f9954f"/><stop offset="0.90" stop-color="#fcc07a"/><stop offset="1.00" stop-color="#fde3b0"/></linearGradient></defs>
<rect x="556.40" y="267.50" width="5.7" height="23.5" fill="url(#gTP63)"/>
<text x="564.20" y="275.35" font-size="4.3" text-anchor="start" fill="#111">1.5</text>
<text x="564.20" y="280.95" font-size="4.3" text-anchor="start" fill="#111">1.0</text>
<text x="564.20" y="286.95" font-size="4.3" text-anchor="start" fill="#111">0.5</text>
<text x="564.20" y="292.85" font-size="4.3" text-anchor="start" fill="#111">0.0</text>
<circle cx="515.0" cy="260.3" r="0.6" fill="#fdf3ea"/>
<circle cx="515.1" cy="260.4" r="0.6" fill="#fdf3ea"/>
<circle cx="515.1" cy="259.4" r="0.6" fill="#fdf3ea"/>
<circle cx="515.3" cy="259.9" r="0.6" fill="#fdf3ea"/>
<circle cx="515.5" cy="257.8" r="0.6" fill="#fdf3ea"/>
<circle cx="515.6" cy="259.4" r="0.6" fill="#fdf3ea"/>
<circle cx="515.6" cy="259.0" r="0.6" fill="#fdf3ea"/>
<circle cx="515.7" cy="256.1" r="0.6" fill="#fdf3ea"/>
<circle cx="515.8" cy="259.3" r="0.6" fill="#fdf3ea"/>
<circle cx="516.0" cy="256.5" r="0.6" fill="#fdf3ea"/>
<circle cx="516.0" cy="256.9" r="0.6" fill="#fdf3ea"/>
<circle cx="516.1" cy="258.6" r="0.6" fill="#fdf3ea"/>
<circle cx="516.1" cy="256.1" r="0.6" fill="#fdf3ea"/>
<circle cx="516.3" cy="256.5" r="0.6" fill="#fdf3ea"/>
<circle cx="516.4" cy="255.0" r="0.6" fill="#fdf3ea"/>
<circle cx="516.4" cy="258.5" r="0.6" fill="#fdf3ea"/>
<circle cx="516.5" cy="257.1" r="0.6" fill="#fdf3ea"/>
<circle cx="516.7" cy="254.7" r="0.6" fill="#fdf3ea"/>
<circle cx="516.7" cy="255.6" r="0.6" fill="#fdf3ea"/>
<circle cx="516.7" cy="256.1" r="0.6" fill="#fdf3ea"/>
<circle cx="516.9" cy="256.0" r="0.6" fill="#fdf3ea"/>
<circle cx="516.9" cy="254.6" r="0.6" fill="#fdf3ea"/>
<circle cx="532.1" cy="299.1" r="0.6" fill="#fdf3ea"/>
<circle cx="506.6" cy="287.9" r="0.6" fill="#fdf3ea"/>
<circle cx="529.2" cy="292.6" r="0.6" fill="#fdf3ea"/>
<circle cx="523.2" cy="293.8" r="0.6" fill="#fdf3ea"/>
<circle cx="513.1" cy="281.7" r="0.6" fill="#fdf3ea"/>
<circle cx="526.0" cy="285.0" r="0.6" fill="#fdf3ea"/>
<circle cx="514.1" cy="290.0" r="0.6" fill="#fdf3ea"/>
<circle cx="518.1" cy="282.8" r="0.6" fill="#fdf3ea"/>
<circle cx="519.9" cy="287.9" r="0.6" fill="#fdf3ea"/>
<circle cx="518.0" cy="286.2" r="0.6" fill="#fdf3ea"/>
<circle cx="511.2" cy="287.7" r="0.6" fill="#fdf3ea"/>
<circle cx="522.7" cy="287.4" r="0.6" fill="#fdf3ea"/>
<circle cx="508.1" cy="290.2" r="0.6" fill="#fdf3ea"/>
<circle cx="510.4" cy="277.1" r="0.6" fill="#fdf3ea"/>
<circle cx="529.6" cy="294.9" r="0.6" fill="#fdf3ea"/>
<circle cx="521.0" cy="284.0" r="0.6" fill="#fdf3ea"/>
<circle cx="519.7" cy="286.5" r="0.6" fill="#fdf3ea"/>
<circle cx="511.4" cy="291.4" r="0.6" fill="#fdf3ea"/>
<circle cx="530.7" cy="300.2" r="0.6" fill="#fdf3ea"/>
<circle cx="522.2" cy="287.6" r="0.6" fill="#fdf3ea"/>
<circle cx="525.7" cy="291.1" r="0.6" fill="#fdf3ea"/>
<circle cx="530.9" cy="297.4" r="0.6" fill="#fdf3e9"/>
<circle cx="508.1" cy="289.6" r="0.6" fill="#fdf3e9"/>
<circle cx="506.7" cy="288.6" r="0.6" fill="#fdf3e9"/>
<circle cx="508.5" cy="285.6" r="0.6" fill="#fdf3e9"/>
<circle cx="516.4" cy="287.0" r="0.6" fill="#fdf3e9"/>
<circle cx="507.7" cy="283.9" r="0.6" fill="#fdf3e9"/>
<circle cx="522.2" cy="284.7" r="0.6" fill="#fdf3e9"/>
<circle cx="520.2" cy="289.5" r="0.6" fill="#fdf3e9"/>
<circle cx="512.7" cy="289.2" r="0.6" fill="#fdf3e9"/>
<circle cx="514.2" cy="288.5" r="0.6" fill="#fdf3e9"/>
<circle cx="516.1" cy="286.2" r="0.6" fill="#fdf3e9"/>
<circle cx="517.4" cy="284.2" r="0.6" fill="#fdf3e9"/>
<circle cx="527.6" cy="296.4" r="0.6" fill="#fdf3e9"/>
<circle cx="521.6" cy="289.9" r="0.6" fill="#fdf3e9"/>
<circle cx="525.8" cy="291.5" r="0.6" fill="#fdf3e9"/>
<circle cx="519.7" cy="289.0" r="0.6" fill="#fdf3e9"/>
<circle cx="511.6" cy="276.2" r="0.6" fill="#fdf3e9"/>
<circle cx="518.5" cy="283.9" r="0.6" fill="#fdf3e9"/>
<circle cx="526.9" cy="288.4" r="0.6" fill="#fdf3e9"/>
<circle cx="508.6" cy="292.0" r="0.6" fill="#fdf3e9"/>
<circle cx="509.8" cy="289.4" r="0.6" fill="#fdf3e9"/>
<circle cx="510.8" cy="281.7" r="0.6" fill="#fdf3e9"/>
<circle cx="525.8" cy="286.0" r="0.6" fill="#fdf3e9"/>
<circle cx="529.7" cy="293.6" r="0.6" fill="#fdf3e9"/>
<circle cx="511.1" cy="284.7" r="0.6" fill="#fdf3e9"/>
<circle cx="509.7" cy="281.0" r="0.6" fill="#fdf3e9"/>
<circle cx="505.9" cy="287.8" r="0.6" fill="#fdf3e9"/>
<circle cx="515.0" cy="284.3" r="0.6" fill="#fdf2e9"/>
<circle cx="514.3" cy="291.0" r="0.6" fill="#fdf2e9"/>
<circle cx="514.6" cy="284.9" r="0.6" fill="#fdf2e9"/>
<circle cx="532.3" cy="299.0" r="0.6" fill="#fdf2e9"/>
<circle cx="527.6" cy="298.6" r="0.6" fill="#fdf2e9"/>
<circle cx="520.6" cy="284.7" r="0.6" fill="#fdf2e9"/>
<circle cx="509.6" cy="285.4" r="0.6" fill="#fdf2e9"/>
<circle cx="511.4" cy="285.0" r="0.6" fill="#fdf2e9"/>
<circle cx="518.4" cy="283.4" r="0.6" fill="#fdf2e9"/>
<circle cx="509.8" cy="280.9" r="0.6" fill="#fdf2e9"/>
<circle cx="520.2" cy="288.1" r="0.6" fill="#fdf2e9"/>
<circle cx="525.3" cy="286.6" r="0.6" fill="#fdf2e9"/>
<circle cx="512.7" cy="292.3" r="0.6" fill="#fdf2e9"/>
<circle cx="507.3" cy="289.9" r="0.6" fill="#fdf2e9"/>
<circle cx="509.0" cy="278.9" r="0.6" fill="#fdf2e8"/>
<circle cx="512.3" cy="286.1" r="0.6" fill="#fdf2e8"/>
<circle cx="517.1" cy="281.7" r="0.6" fill="#fdf2e8"/>
<circle cx="510.1" cy="284.4" r="0.6" fill="#fdf2e8"/>
<circle cx="521.6" cy="284.3" r="0.6" fill="#fdf2e8"/>
<circle cx="527.2" cy="294.9" r="0.6" fill="#fdf2e8"/>
<circle cx="509.7" cy="286.7" r="0.6" fill="#fdf2e8"/>
<circle cx="507.6" cy="284.2" r="0.6" fill="#fdf2e8"/>
<circle cx="510.7" cy="283.1" r="0.6" fill="#fdf2e8"/>
<circle cx="509.2" cy="287.2" r="0.6" fill="#fdf2e8"/>
<circle cx="510.1" cy="284.8" r="0.6" fill="#fdf2e8"/>
<circle cx="514.6" cy="282.6" r="0.6" fill="#fdf2e8"/>
<circle cx="528.8" cy="292.7" r="0.6" fill="#fdf2e8"/>
<circle cx="508.7" cy="282.6" r="0.6" fill="#fdf2e8"/>
<circle cx="518.8" cy="283.7" r="0.6" fill="#fdf2e8"/>
<circle cx="514.4" cy="288.0" r="0.6" fill="#fdf2e8"/>
<circle cx="529.9" cy="292.4" r="0.6" fill="#fdf2e8"/>
<circle cx="513.5" cy="287.1" r="0.6" fill="#fdf2e8"/>
<circle cx="524.2" cy="289.2" r="0.6" fill="#fdf2e8"/>
<circle cx="514.1" cy="282.5" r="0.6" fill="#fdf2e8"/>
<circle cx="519.3" cy="284.0" r="0.6" fill="#fdf2e8"/>
<circle cx="508.9" cy="281.2" r="0.6" fill="#fdf2e8"/>
<circle cx="520.0" cy="288.9" r="0.6" fill="#fdf2e8"/>
<circle cx="511.4" cy="292.6" r="0.6" fill="#fdf2e8"/>
<circle cx="510.8" cy="280.9" r="0.6" fill="#fdf2e8"/>
<circle cx="525.5" cy="293.9" r="0.6" fill="#fdf2e8"/>
<circle cx="520.5" cy="288.7" r="0.6" fill="#fdf2e8"/>
<circle cx="510.4" cy="283.3" r="0.6" fill="#fdf2e8"/>
<circle cx="512.7" cy="292.6" r="0.6" fill="#fdf2e8"/>
<circle cx="519.0" cy="288.4" r="0.6" fill="#fdf2e8"/>
<circle cx="523.5" cy="292.0" r="0.6" fill="#fdf2e8"/>
<circle cx="522.6" cy="289.7" r="0.6" fill="#fdf2e8"/>
<circle cx="523.0" cy="290.5" r="0.6" fill="#fdf2e8"/>
<circle cx="524.2" cy="297.6" r="0.6" fill="#fdf2e8"/>
<circle cx="509.7" cy="287.0" r="0.6" fill="#fdf2e8"/>
<circle cx="511.5" cy="291.3" r="0.6" fill="#fdf2e8"/>
<circle cx="511.5" cy="281.6" r="0.6" fill="#fdf2e8"/>
<circle cx="524.7" cy="286.7" r="0.6" fill="#fdf2e8"/>
<circle cx="520.8" cy="284.7" r="0.6" fill="#fdf2e8"/>
<circle cx="506.1" cy="284.7" r="0.6" fill="#fdf2e8"/>
<circle cx="523.3" cy="292.3" r="0.6" fill="#fdf2e8"/>
<circle cx="527.0" cy="287.7" r="0.6" fill="#fdf2e8"/>
<circle cx="523.8" cy="286.0" r="0.6" fill="#fdf2e8"/>
<circle cx="515.4" cy="285.3" r="0.6" fill="#fdf2e8"/>
<circle cx="510.5" cy="290.8" r="0.6" fill="#fdf2e7"/>
<circle cx="519.6" cy="284.0" r="0.6" fill="#fdf2e7"/>
<circle cx="519.4" cy="284.2" r="0.6" fill="#fdf2e7"/>
<circle cx="512.2" cy="283.8" r="0.6" fill="#fdf2e7"/>
<circle cx="529.5" cy="299.6" r="0.6" fill="#fdf2e7"/>
<circle cx="510.5" cy="282.7" r="0.6" fill="#fdf2e7"/>
<circle cx="510.7" cy="291.2" r="0.6" fill="#fdf2e7"/>
<circle cx="515.0" cy="292.5" r="0.6" fill="#fdf2e7"/>
<circle cx="519.3" cy="284.5" r="0.6" fill="#fdf2e7"/>
<circle cx="511.9" cy="286.7" r="0.6" fill="#fdf2e7"/>
<circle cx="521.2" cy="286.6" r="0.6" fill="#fdf2e7"/>
<circle cx="526.0" cy="290.1" r="0.6" fill="#fdf2e7"/>
<circle cx="524.1" cy="292.1" r="0.6" fill="#fdf2e7"/>
<circle cx="525.3" cy="299.8" r="0.6" fill="#fdf2e7"/>
<circle cx="513.1" cy="282.6" r="0.6" fill="#fdf2e7"/>
<circle cx="525.0" cy="291.2" r="0.6" fill="#fdf2e7"/>
<circle cx="510.8" cy="277.4" r="0.6" fill="#fdf2e7"/>
<circle cx="508.2" cy="285.5" r="0.6" fill="#fdf2e7"/>
<circle cx="511.4" cy="281.0" r="0.6" fill="#fdf2e7"/>
<circle cx="510.4" cy="289.5" r="0.6" fill="#fdf2e7"/>
<circle cx="517.2" cy="288.4" r="0.6" fill="#fdf2e7"/>
<circle cx="518.3" cy="288.6" r="0.6" fill="#fdf2e7"/>
<circle cx="518.4" cy="284.8" r="0.6" fill="#fdf2e7"/>
<circle cx="505.8" cy="283.9" r="0.6" fill="#fdf2e7"/>
<circle cx="507.1" cy="283.2" r="0.6" fill="#fdf2e7"/>
<circle cx="515.0" cy="282.1" r="0.6" fill="#fdf2e7"/>
<circle cx="520.7" cy="283.2" r="0.6" fill="#fdf1e7"/>
<circle cx="513.0" cy="290.1" r="0.6" fill="#fdf1e7"/>
<circle cx="520.3" cy="291.8" r="0.6" fill="#fdf1e7"/>
<circle cx="514.5" cy="284.9" r="0.6" fill="#fdf1e6"/>
<circle cx="525.0" cy="287.6" r="0.6" fill="#fdf1e6"/>
<circle cx="513.6" cy="284.6" r="0.6" fill="#fdf1e6"/>
<circle cx="515.7" cy="291.1" r="0.6" fill="#fdf1e6"/>
<circle cx="523.8" cy="291.6" r="0.6" fill="#fdf1e6"/>
<circle cx="510.6" cy="287.0" r="0.6" fill="#fdf1e6"/>
<circle cx="509.5" cy="288.2" r="0.6" fill="#fdf1e6"/>
<circle cx="521.0" cy="286.7" r="0.6" fill="#fdf1e6"/>
<circle cx="521.3" cy="289.1" r="0.6" fill="#fdf1e6"/>
<circle cx="518.0" cy="282.7" r="0.6" fill="#fdf1e6"/>
<circle cx="506.1" cy="287.5" r="0.6" fill="#fdf1e6"/>
<circle cx="516.9" cy="285.0" r="0.6" fill="#fdf1e6"/>
<circle cx="524.6" cy="289.2" r="0.6" fill="#fdf1e6"/>
<circle cx="529.1" cy="292.3" r="0.6" fill="#fdf1e6"/>
<circle cx="529.9" cy="298.0" r="0.6" fill="#fdf1e6"/>
<circle cx="519.0" cy="285.0" r="0.6" fill="#fdf1e6"/>
<circle cx="518.2" cy="288.5" r="0.6" fill="#fdf1e6"/>
<circle cx="518.4" cy="290.6" r="0.6" fill="#fdf1e6"/>
<circle cx="520.3" cy="282.4" r="0.6" fill="#fdf1e6"/>
<circle cx="512.6" cy="288.9" r="0.6" fill="#fdf1e6"/>
<circle cx="516.1" cy="287.6" r="0.6" fill="#fdf1e6"/>
<circle cx="526.9" cy="289.9" r="0.6" fill="#fdf1e6"/>
<circle cx="509.3" cy="291.6" r="0.6" fill="#fdf1e6"/>
<circle cx="532.5" cy="299.0" r="0.6" fill="#fdf1e6"/>
<circle cx="514.7" cy="282.6" r="0.6" fill="#fdf1e6"/>
<circle cx="524.4" cy="289.5" r="0.6" fill="#fdf1e6"/>
<circle cx="518.0" cy="287.2" r="0.6" fill="#fdf1e6"/>
<circle cx="520.3" cy="288.3" r="0.6" fill="#fdf1e6"/>
<circle cx="518.4" cy="287.7" r="0.6" fill="#fdf1e6"/>
<circle cx="515.2" cy="286.5" r="0.6" fill="#fdf1e6"/>
<circle cx="518.9" cy="292.3" r="0.6" fill="#fdf1e6"/>
<circle cx="527.2" cy="295.5" r="0.6" fill="#fdf1e6"/>
<circle cx="510.3" cy="280.9" r="0.6" fill="#fdf1e6"/>
<circle cx="525.7" cy="288.4" r="0.6" fill="#fdf1e6"/>
<circle cx="525.6" cy="287.8" r="0.6" fill="#fdf1e6"/>
<circle cx="517.3" cy="290.4" r="0.6" fill="#fdf1e6"/>
<circle cx="523.9" cy="291.7" r="0.6" fill="#fdf1e6"/>
<circle cx="527.3" cy="294.7" r="0.6" fill="#fdf1e6"/>
<circle cx="516.6" cy="292.2" r="0.6" fill="#fdf1e6"/>
<circle cx="508.2" cy="280.9" r="0.6" fill="#fdf1e6"/>
<circle cx="513.4" cy="292.1" r="0.6" fill="#fdf1e5"/>
<circle cx="509.8" cy="277.8" r="0.6" fill="#fdf1e5"/>
<circle cx="522.1" cy="286.7" r="0.6" fill="#fdf1e5"/>
<circle cx="528.8" cy="293.8" r="0.6" fill="#fdf1e5"/>
<circle cx="520.3" cy="282.7" r="0.6" fill="#fdf1e5"/>
<circle cx="520.0" cy="287.8" r="0.6" fill="#fdf1e5"/>
<circle cx="509.8" cy="289.1" r="0.6" fill="#fdf1e5"/>
<circle cx="517.5" cy="291.9" r="0.6" fill="#fdf1e5"/>
<circle cx="524.7" cy="291.0" r="0.6" fill="#fdf1e5"/>
<circle cx="510.8" cy="277.9" r="0.6" fill="#fdf1e5"/>
<circle cx="518.6" cy="287.8" r="0.6" fill="#fdf1e5"/>
<circle cx="515.5" cy="289.3" r="0.6" fill="#fdf1e5"/>
<circle cx="521.2" cy="286.0" r="0.6" fill="#fdf1e5"/>
<circle cx="520.3" cy="288.6" r="0.6" fill="#fdf1e5"/>
<circle cx="509.8" cy="292.1" r="0.6" fill="#fdf1e5"/>
<circle cx="507.4" cy="285.6" r="0.6" fill="#fdf1e5"/>
<circle cx="506.8" cy="284.7" r="0.6" fill="#fdf1e5"/>
<circle cx="507.1" cy="284.5" r="0.6" fill="#fdf1e5"/>
<circle cx="514.0" cy="288.5" r="0.6" fill="#fdf1e5"/>
<circle cx="518.6" cy="290.8" r="0.6" fill="#fdf1e5"/>
<circle cx="508.1" cy="288.1" r="0.6" fill="#fdf1e5"/>
<circle cx="520.2" cy="287.1" r="0.6" fill="#fdf1e5"/>
<circle cx="513.7" cy="287.6" r="0.6" fill="#fdf1e5"/>
<circle cx="507.2" cy="283.2" r="0.6" fill="#fdf1e5"/>
<circle cx="526.1" cy="287.6" r="0.6" fill="#fdf1e5"/>
<circle cx="513.2" cy="289.9" r="0.6" fill="#fdf1e5"/>
<circle cx="514.3" cy="286.9" r="0.6" fill="#fdf1e5"/>
<circle cx="529.7" cy="297.0" r="0.6" fill="#fdf1e4"/>
<circle cx="523.4" cy="284.5" r="0.6" fill="#fdf1e4"/>
<circle cx="524.1" cy="284.7" r="0.6" fill="#fdf0e4"/>
<circle cx="519.0" cy="288.1" r="0.6" fill="#fdf0e4"/>
<circle cx="508.7" cy="287.7" r="0.6" fill="#fdf0e4"/>
<circle cx="514.7" cy="283.4" r="0.6" fill="#fdf0e4"/>
<circle cx="529.2" cy="294.1" r="0.6" fill="#fdf0e4"/>
<circle cx="523.4" cy="286.1" r="0.6" fill="#fdf0e4"/>
<circle cx="521.9" cy="289.2" r="0.6" fill="#fdf0e4"/>
<circle cx="516.1" cy="291.9" r="0.6" fill="#fdf0e4"/>
<circle cx="518.7" cy="283.8" r="0.6" fill="#fdf0e4"/>
<circle cx="527.3" cy="295.1" r="0.6" fill="#fdf0e4"/>
<circle cx="520.0" cy="292.3" r="0.6" fill="#fdf0e4"/>
<circle cx="521.1" cy="284.1" r="0.6" fill="#fdf0e4"/>
<circle cx="509.9" cy="288.3" r="0.6" fill="#fdf0e4"/>
<circle cx="527.1" cy="299.2" r="0.6" fill="#fdf0e4"/>
<circle cx="510.6" cy="286.1" r="0.6" fill="#fdf0e4"/>
<circle cx="509.6" cy="287.7" r="0.6" fill="#fdf0e4"/>
<circle cx="512.9" cy="284.9" r="0.6" fill="#fdf0e4"/>
<circle cx="526.7" cy="299.2" r="0.6" fill="#fdf0e4"/>
<circle cx="530.5" cy="291.6" r="0.6" fill="#fdf0e4"/>
<circle cx="514.4" cy="288.5" r="0.6" fill="#fdf0e4"/>
<circle cx="530.6" cy="297.7" r="0.6" fill="#fdf0e4"/>
<circle cx="522.5" cy="290.3" r="0.6" fill="#fdf0e4"/>
<circle cx="522.9" cy="289.9" r="0.6" fill="#fdf0e4"/>
<circle cx="526.0" cy="288.7" r="0.6" fill="#fdf0e3"/>
<circle cx="507.7" cy="281.7" r="0.6" fill="#fdf0e3"/>
<circle cx="511.5" cy="287.1" r="0.6" fill="#fdf0e3"/>
<circle cx="517.4" cy="286.4" r="0.6" fill="#fdf0e3"/>
<circle cx="505.8" cy="289.8" r="0.6" fill="#fdf0e3"/>
<circle cx="517.5" cy="285.5" r="0.6" fill="#fdf0e3"/>
<circle cx="522.4" cy="291.1" r="0.6" fill="#fdf0e3"/>
<circle cx="509.9" cy="291.0" r="0.6" fill="#fdf0e3"/>
<circle cx="513.7" cy="289.7" r="0.6" fill="#fdf0e3"/>
<circle cx="524.4" cy="297.5" r="0.6" fill="#fdf0e3"/>
<circle cx="511.3" cy="283.5" r="0.6" fill="#fdf0e3"/>
<circle cx="516.3" cy="288.7" r="0.6" fill="#fdf0e3"/>
<circle cx="518.4" cy="289.4" r="0.6" fill="#fdf0e3"/>
<circle cx="517.7" cy="283.8" r="0.6" fill="#fdf0e3"/>
<circle cx="517.7" cy="287.4" r="0.6" fill="#fdf0e3"/>
<circle cx="515.2" cy="286.7" r="0.6" fill="#fdf0e3"/>
<circle cx="525.4" cy="290.6" r="0.6" fill="#fdf0e3"/>
<circle cx="509.3" cy="291.2" r="0.6" fill="#fdf0e3"/>
<circle cx="517.8" cy="289.5" r="0.6" fill="#fdf0e3"/>
<circle cx="521.6" cy="283.0" r="0.6" fill="#fdf0e3"/>
<circle cx="508.1" cy="289.3" r="0.6" fill="#fdf0e3"/>
<circle cx="517.8" cy="285.9" r="0.6" fill="#fdf0e3"/>
<circle cx="522.4" cy="288.4" r="0.6" fill="#fdf0e3"/>
<circle cx="516.3" cy="283.0" r="0.6" fill="#fdf0e2"/>
<circle cx="510.2" cy="287.4" r="0.6" fill="#fdf0e2"/>
<circle cx="513.7" cy="287.5" r="0.6" fill="#fdf0e2"/>
<circle cx="527.5" cy="292.9" r="0.6" fill="#fdf0e2"/>
<circle cx="520.5" cy="290.8" r="0.6" fill="#fdefe2"/>
<circle cx="506.3" cy="290.8" r="0.6" fill="#fdefe2"/>
<circle cx="508.8" cy="282.6" r="0.6" fill="#fdefe2"/>
<circle cx="525.1" cy="290.9" r="0.6" fill="#fdefe2"/>
<circle cx="514.0" cy="282.9" r="0.6" fill="#fdefe2"/>
<circle cx="517.8" cy="285.5" r="0.6" fill="#fdefe2"/>
<circle cx="507.8" cy="281.9" r="0.6" fill="#fdefe2"/>
<circle cx="518.4" cy="285.3" r="0.6" fill="#fdefe2"/>
<circle cx="506.1" cy="285.6" r="0.6" fill="#fdefe2"/>
<circle cx="517.7" cy="288.8" r="0.6" fill="#fdefe2"/>
<circle cx="506.8" cy="284.6" r="0.6" fill="#fdefe2"/>
<circle cx="507.8" cy="288.3" r="0.6" fill="#fdefe2"/>
<circle cx="514.3" cy="285.4" r="0.6" fill="#fdefe2"/>
<circle cx="528.6" cy="297.7" r="0.6" fill="#fdefe2"/>
<circle cx="523.6" cy="292.3" r="0.6" fill="#fdefe1"/>
<circle cx="528.7" cy="294.4" r="0.6" fill="#fdefe1"/>
<circle cx="512.4" cy="288.4" r="0.6" fill="#fdefe1"/>
<circle cx="520.6" cy="283.7" r="0.6" fill="#fdefe1"/>
<circle cx="525.5" cy="295.9" r="0.6" fill="#fdefe1"/>
<circle cx="525.7" cy="286.8" r="0.6" fill="#fdefe1"/>
<circle cx="523.2" cy="284.1" r="0.6" fill="#fdefe1"/>
<circle cx="507.5" cy="284.3" r="0.6" fill="#fdefe1"/>
<circle cx="513.1" cy="284.6" r="0.6" fill="#fdefe1"/>
<circle cx="516.8" cy="289.2" r="0.6" fill="#fdefe1"/>
<circle cx="508.2" cy="285.2" r="0.6" fill="#fdefe1"/>
<circle cx="505.8" cy="289.5" r="0.6" fill="#fdefe1"/>
<circle cx="507.7" cy="287.2" r="0.6" fill="#fdefe1"/>
<circle cx="507.4" cy="289.6" r="0.6" fill="#fdefe1"/>
<circle cx="522.3" cy="285.1" r="0.6" fill="#fdefe1"/>
<circle cx="513.6" cy="286.2" r="0.6" fill="#fdefe1"/>
<circle cx="513.9" cy="292.9" r="0.6" fill="#fdefe1"/>
<circle cx="506.8" cy="287.4" r="0.6" fill="#fdefe1"/>
<circle cx="518.2" cy="284.4" r="0.6" fill="#fdefe0"/>
<circle cx="523.9" cy="291.2" r="0.6" fill="#fdefe0"/>
<circle cx="510.3" cy="291.6" r="0.6" fill="#fdefe0"/>
<circle cx="513.8" cy="286.6" r="0.6" fill="#fdefe0"/>
<circle cx="520.9" cy="282.5" r="0.6" fill="#fdefe0"/>
<circle cx="515.1" cy="282.9" r="0.6" fill="#fdefe0"/>
<circle cx="523.7" cy="284.9" r="0.6" fill="#fdeee0"/>
<circle cx="518.8" cy="291.6" r="0.6" fill="#fdeee0"/>
<circle cx="520.5" cy="284.7" r="0.6" fill="#fdeee0"/>
<circle cx="511.9" cy="287.5" r="0.6" fill="#fdeedf"/>
<circle cx="513.1" cy="283.3" r="0.6" fill="#fdeedf"/>
<circle cx="525.0" cy="285.7" r="0.6" fill="#fdeedf"/>
<circle cx="526.6" cy="299.5" r="0.6" fill="#fdeedf"/>
<circle cx="523.6" cy="290.3" r="0.6" fill="#fdeedf"/>
<circle cx="514.1" cy="283.1" r="0.6" fill="#fdeedf"/>
<circle cx="508.0" cy="283.6" r="0.6" fill="#fdeedf"/>
<circle cx="530.8" cy="297.5" r="0.6" fill="#fdeedf"/>
<circle cx="514.3" cy="284.7" r="0.6" fill="#fdeedf"/>
<circle cx="510.5" cy="276.4" r="0.6" fill="#fdeedf"/>
<circle cx="520.3" cy="290.0" r="0.6" fill="#fdeede"/>
<circle cx="520.1" cy="284.0" r="0.6" fill="#fdeede"/>
<circle cx="531.1" cy="296.0" r="0.6" fill="#fdedde"/>
<circle cx="528.0" cy="288.0" r="0.6" fill="#fdeddd"/>
<circle cx="528.2" cy="286.3" r="0.6" fill="#fdeddd"/>
<circle cx="528.3" cy="284.6" r="0.6" fill="#fdeddd"/>
<circle cx="529.3" cy="286.7" r="0.6" fill="#fdeddd"/>
<circle cx="530.4" cy="288.1" r="0.6" fill="#fdeddd"/>
<circle cx="530.7" cy="286.0" r="0.6" fill="#fdeddd"/>
<circle cx="530.7" cy="285.7" r="0.6" fill="#fdeddd"/>
<circle cx="530.9" cy="283.9" r="0.6" fill="#fdeddd"/>
<circle cx="531.3" cy="288.7" r="0.6" fill="#fdeddd"/>
<circle cx="531.4" cy="284.8" r="0.6" fill="#fdeddd"/>
<circle cx="531.5" cy="285.5" r="0.6" fill="#fdeddd"/>
<circle cx="532.0" cy="298.4" r="0.6" fill="#fdeddd"/>
<circle cx="532.3" cy="287.5" r="0.6" fill="#fdeddd"/>
<circle cx="532.3" cy="298.3" r="0.6" fill="#fdeddd"/>
<circle cx="532.7" cy="299.5" r="0.6" fill="#fdeddd"/>
<circle cx="532.8" cy="302.1" r="0.6" fill="#fdeddd"/>
<circle cx="532.9" cy="286.9" r="0.6" fill="#fdeddd"/>
<circle cx="533.0" cy="300.8" r="0.6" fill="#fdeddd"/>
<circle cx="533.1" cy="299.1" r="0.6" fill="#fdeddd"/>
<circle cx="533.1" cy="300.1" r="0.6" fill="#fdeddd"/>
<circle cx="533.4" cy="297.5" r="0.6" fill="#fdeddd"/>
<circle cx="533.4" cy="288.9" r="0.6" fill="#fdeddd"/>
<circle cx="533.4" cy="284.2" r="0.6" fill="#fdeddd"/>
<circle cx="533.5" cy="285.3" r="0.6" fill="#fdeddd"/>
<circle cx="533.7" cy="283.5" r="0.6" fill="#fdeddd"/>
<circle cx="533.8" cy="298.0" r="0.6" fill="#fdeddd"/>
<circle cx="534.1" cy="284.3" r="0.6" fill="#fdeddd"/>
<circle cx="534.1" cy="298.3" r="0.6" fill="#fdeddd"/>
<circle cx="534.2" cy="298.7" r="0.6" fill="#fdeddd"/>
<circle cx="534.4" cy="284.1" r="0.6" fill="#fdeddd"/>
<circle cx="534.4" cy="297.2" r="0.6" fill="#fdeddd"/>
<circle cx="534.5" cy="295.5" r="0.6" fill="#fdeddd"/>
<circle cx="534.6" cy="297.9" r="0.6" fill="#fdeddd"/>
<circle cx="534.7" cy="285.5" r="0.6" fill="#fdeddd"/>
<circle cx="534.7" cy="298.2" r="0.6" fill="#fdeddd"/>
<circle cx="534.8" cy="298.2" r="0.6" fill="#fdeddd"/>
<circle cx="534.9" cy="286.7" r="0.6" fill="#fdeddd"/>
<circle cx="534.9" cy="299.0" r="0.6" fill="#fdeddd"/>
<circle cx="535.0" cy="295.4" r="0.6" fill="#fdeddd"/>
<circle cx="535.0" cy="299.4" r="0.6" fill="#fdeddd"/>
<circle cx="535.1" cy="297.0" r="0.6" fill="#fdeddd"/>
<circle cx="535.7" cy="293.1" r="0.6" fill="#fdeddd"/>
<circle cx="536.0" cy="292.4" r="0.6" fill="#fdeddd"/>
<circle cx="536.0" cy="297.1" r="0.6" fill="#fdeddd"/>
<circle cx="536.1" cy="285.5" r="0.6" fill="#fdeddd"/>
<circle cx="536.2" cy="294.3" r="0.6" fill="#fdeddd"/>
<circle cx="536.2" cy="296.4" r="0.6" fill="#fdeddd"/>
<circle cx="536.5" cy="297.0" r="0.6" fill="#fdeddd"/>
<circle cx="536.5" cy="295.7" r="0.6" fill="#fdeddd"/>
<circle cx="536.7" cy="292.7" r="0.6" fill="#fdeddd"/>
<circle cx="536.7" cy="289.0" r="0.6" fill="#fdeddd"/>
<circle cx="536.9" cy="294.0" r="0.6" fill="#fdeddd"/>
<circle cx="536.9" cy="287.8" r="0.6" fill="#fdeddd"/>
<circle cx="537.0" cy="296.8" r="0.6" fill="#fdeddd"/>
<circle cx="537.2" cy="293.8" r="0.6" fill="#fdeddd"/>
<circle cx="537.2" cy="296.5" r="0.6" fill="#fdeddd"/>
<circle cx="537.3" cy="286.3" r="0.6" fill="#fdeddd"/>
<circle cx="537.3" cy="285.2" r="0.6" fill="#fdeddd"/>
<circle cx="537.4" cy="284.8" r="0.6" fill="#fdeddd"/>
<circle cx="537.4" cy="291.7" r="0.6" fill="#fdeddd"/>
<circle cx="537.6" cy="286.2" r="0.6" fill="#fdeddd"/>
<circle cx="537.7" cy="290.8" r="0.6" fill="#fdeddd"/>
<circle cx="537.7" cy="284.6" r="0.6" fill="#fdeddd"/>
<circle cx="537.7" cy="288.2" r="0.6" fill="#fdeddd"/>
<circle cx="537.8" cy="293.9" r="0.6" fill="#fdeddd"/>
<circle cx="537.9" cy="290.0" r="0.6" fill="#fdeddd"/>
<circle cx="537.9" cy="290.6" r="0.6" fill="#fdeddd"/>
<circle cx="538.0" cy="287.7" r="0.6" fill="#fdeddd"/>
<circle cx="538.0" cy="283.6" r="0.6" fill="#fdeddd"/>
<circle cx="538.0" cy="288.8" r="0.6" fill="#fdeddd"/>
<circle cx="538.1" cy="289.8" r="0.6" fill="#fdeddd"/>
<circle cx="538.1" cy="284.2" r="0.6" fill="#fdeddd"/>
<circle cx="538.4" cy="292.6" r="0.6" fill="#fdeddd"/>
<circle cx="538.4" cy="286.3" r="0.6" fill="#fdeddd"/>
<circle cx="538.5" cy="291.0" r="0.6" fill="#fdeddd"/>
<circle cx="538.6" cy="284.5" r="0.6" fill="#fdeddd"/>
<circle cx="538.6" cy="285.5" r="0.6" fill="#fdeddd"/>
<circle cx="538.6" cy="291.9" r="0.6" fill="#fdeddd"/>
<circle cx="538.8" cy="284.6" r="0.6" fill="#fdeddd"/>
<circle cx="538.8" cy="293.7" r="0.6" fill="#fdeddd"/>
<circle cx="539.1" cy="288.1" r="0.6" fill="#fdeddd"/>
<circle cx="539.2" cy="292.0" r="0.6" fill="#fdeddd"/>
<circle cx="539.3" cy="287.3" r="0.6" fill="#fdeddd"/>
<circle cx="539.4" cy="285.3" r="0.6" fill="#fdeddd"/>
<circle cx="539.4" cy="286.5" r="0.6" fill="#fdeddd"/>
<circle cx="539.5" cy="284.8" r="0.6" fill="#fdeddd"/>
<circle cx="539.6" cy="292.7" r="0.6" fill="#fdeddd"/>
<circle cx="539.6" cy="290.1" r="0.6" fill="#fdeddd"/>
<circle cx="539.8" cy="291.8" r="0.6" fill="#fdeddd"/>
<circle cx="539.9" cy="287.8" r="0.6" fill="#fdeddd"/>
<circle cx="539.9" cy="284.7" r="0.6" fill="#fdeddd"/>
<circle cx="540.0" cy="288.5" r="0.6" fill="#fdeddd"/>
<circle cx="540.2" cy="284.9" r="0.6" fill="#fdeddd"/>
<circle cx="540.8" cy="286.2" r="0.6" fill="#fdeddd"/>
<circle cx="541.4" cy="284.6" r="0.6" fill="#fdeddd"/>
<circle cx="541.6" cy="286.6" r="0.6" fill="#fdeddd"/>
<circle cx="541.7" cy="287.5" r="0.6" fill="#fdeddd"/>
<circle cx="541.8" cy="288.1" r="0.6" fill="#fdeddd"/>
<circle cx="541.8" cy="287.5" r="0.6" fill="#fdeddd"/>
<circle cx="541.8" cy="284.7" r="0.6" fill="#fdeddd"/>
<circle cx="541.9" cy="284.9" r="0.6" fill="#fdeddd"/>
<circle cx="542.1" cy="284.9" r="0.6" fill="#fdeddd"/>
<circle cx="542.2" cy="284.4" r="0.6" fill="#fdeddd"/>
<circle cx="542.3" cy="287.5" r="0.6" fill="#fdeddd"/>
<circle cx="542.4" cy="283.8" r="0.6" fill="#fdeddd"/>
<circle cx="542.5" cy="286.2" r="0.6" fill="#fdeddd"/>
<circle cx="542.8" cy="287.4" r="0.6" fill="#fdeddd"/>
<circle cx="542.9" cy="285.2" r="0.6" fill="#fdeddd"/>
<circle cx="519.1" cy="290.1" r="0.6" fill="#fdeddd"/>
<circle cx="518.3" cy="282.4" r="0.6" fill="#fdeddd"/>
<circle cx="521.2" cy="286.4" r="0.6" fill="#fdeddd"/>
<circle cx="525.8" cy="295.0" r="0.6" fill="#fdeddd"/>
<circle cx="516.3" cy="292.3" r="0.6" fill="#fdeddd"/>
<circle cx="513.6" cy="288.2" r="0.6" fill="#fdeddd"/>
<circle cx="512.9" cy="289.8" r="0.6" fill="#fdeddd"/>
<circle cx="524.6" cy="295.1" r="0.6" fill="#fdeddc"/>
<circle cx="512.4" cy="289.5" r="0.6" fill="#fdeddc"/>
<circle cx="526.8" cy="288.5" r="0.6" fill="#fdeddc"/>
<circle cx="508.6" cy="283.5" r="0.6" fill="#fdeddc"/>
<circle cx="507.2" cy="291.9" r="0.6" fill="#fdeddc"/>
<circle cx="510.8" cy="283.3" r="0.6" fill="#fdecdb"/>
<circle cx="525.2" cy="285.4" r="0.6" fill="#fdecdb"/>
<circle cx="513.2" cy="282.2" r="0.6" fill="#fdecda"/>
<circle cx="523.7" cy="294.4" r="0.6" fill="#fdebd9"/>
<circle cx="516.6" cy="285.8" r="0.6" fill="#fdebd9"/>
<circle cx="530.8" cy="299.0" r="0.6" fill="#fdebd9"/>
<circle cx="521.7" cy="288.0" r="0.6" fill="#fdebd8"/>
<circle cx="519.1" cy="286.6" r="0.6" fill="#fdebd8"/>
<circle cx="520.7" cy="292.4" r="0.6" fill="#fde9d4"/>
<circle cx="519.5" cy="287.6" r="0.6" fill="#fbb37a"/>
<circle cx="530.8" cy="298.8" r="0.6" fill="#fbb279"/>
<circle cx="536.6" cy="288.7" r="0.6" fill="#fbb279"/>
<circle cx="511.1" cy="286.6" r="0.6" fill="#fab279"/>
<circle cx="520.2" cy="285.8" r="0.6" fill="#faac71"/>
<circle cx="516.5" cy="283.9" r="0.6" fill="#faac71"/>
<circle cx="541.8" cy="285.1" r="0.6" fill="#faac71"/>
<circle cx="541.0" cy="289.8" r="0.6" fill="#faaa6f"/>
<circle cx="536.1" cy="288.7" r="0.6" fill="#faa96d"/>
<circle cx="505.5" cy="288.9" r="0.6" fill="#faa96d"/>
<circle cx="538.3" cy="286.2" r="0.6" fill="#faa76b"/>
<circle cx="528.7" cy="296.1" r="0.6" fill="#faa76b"/>
<circle cx="536.5" cy="294.8" r="0.6" fill="#faa66a"/>
<circle cx="538.3" cy="291.6" r="0.6" fill="#f9a669"/>
<circle cx="530.4" cy="299.3" r="0.6" fill="#f9a467"/>
<circle cx="540.3" cy="288.1" r="0.6" fill="#f9a366"/>
<circle cx="526.1" cy="295.1" r="0.6" fill="#f9a163"/>
<circle cx="530.8" cy="298.4" r="0.6" fill="#f9a163"/>
<circle cx="518.0" cy="284.8" r="0.6" fill="#f9a062"/>
<circle cx="519.9" cy="287.7" r="0.6" fill="#f99f61"/>
<circle cx="528.8" cy="295.2" r="0.6" fill="#f99e61"/>
<circle cx="538.0" cy="289.6" r="0.6" fill="#f99e61"/>
<circle cx="528.9" cy="294.9" r="0.6" fill="#f99e61"/>
<circle cx="536.0" cy="284.0" r="0.6" fill="#f89c60"/>
<circle cx="511.7" cy="282.9" r="0.6" fill="#f89b5f"/>
<circle cx="535.2" cy="288.8" r="0.6" fill="#f8995e"/>
<circle cx="540.1" cy="290.1" r="0.6" fill="#f8995e"/>
<circle cx="531.9" cy="286.9" r="0.6" fill="#f7955c"/>
<circle cx="528.3" cy="285.5" r="0.6" fill="#f7925a"/>
<circle cx="515.2" cy="281.4" r="0.6" fill="#f7915a"/>
<circle cx="536.0" cy="296.4" r="0.6" fill="#f7915a"/>
<circle cx="526.2" cy="297.4" r="0.6" fill="#f79059"/>
<circle cx="534.5" cy="299.6" r="0.6" fill="#f79059"/>
<circle cx="515.6" cy="290.7" r="0.6" fill="#f79059"/>
<circle cx="531.7" cy="286.4" r="0.6" fill="#f79059"/>
<circle cx="530.2" cy="294.0" r="0.6" fill="#f78f59"/>
<circle cx="540.3" cy="289.2" r="0.6" fill="#f78f59"/>
<circle cx="528.8" cy="299.8" r="0.6" fill="#f68e58"/>
<circle cx="538.9" cy="284.9" r="0.6" fill="#f68d58"/>
<circle cx="540.6" cy="284.7" r="0.6" fill="#f68c57"/>
<circle cx="525.8" cy="292.0" r="0.6" fill="#f68b57"/>
<circle cx="517.4" cy="283.9" r="0.6" fill="#f68b56"/>
<circle cx="506.8" cy="288.6" r="0.6" fill="#f68a56"/>
<circle cx="533.9" cy="296.5" r="0.6" fill="#f68a56"/>
<circle cx="524.9" cy="287.7" r="0.6" fill="#f68956"/>
<circle cx="527.3" cy="284.5" r="0.6" fill="#f68855"/>
<circle cx="534.7" cy="294.0" r="0.6" fill="#f58855"/>
<circle cx="532.0" cy="300.2" r="0.6" fill="#f58754"/>
<circle cx="538.3" cy="283.6" r="0.6" fill="#f58654"/>
<circle cx="538.7" cy="287.5" r="0.6" fill="#f58553"/>
<circle cx="531.9" cy="294.5" r="0.6" fill="#f58453"/>
<circle cx="535.8" cy="283.6" r="0.6" fill="#f58453"/>
<circle cx="526.3" cy="294.4" r="0.6" fill="#f58353"/>
<circle cx="539.0" cy="292.6" r="0.6" fill="#f58352"/>
<circle cx="539.5" cy="288.7" r="0.6" fill="#f48151"/>
<circle cx="522.6" cy="292.8" r="0.6" fill="#f48151"/>
<circle cx="525.3" cy="295.1" r="0.6" fill="#f48051"/>
<circle cx="537.7" cy="291.6" r="0.6" fill="#f48051"/>
<circle cx="534.9" cy="296.2" r="0.6" fill="#f48051"/>
<circle cx="540.8" cy="290.8" r="0.6" fill="#f48051"/>
<circle cx="542.2" cy="286.0" r="0.6" fill="#f47e50"/>
<circle cx="523.2" cy="296.8" r="0.6" fill="#f47e50"/>
<circle cx="507.1" cy="284.3" r="0.6" fill="#f47d4f"/>
<circle cx="533.5" cy="286.0" r="0.6" fill="#f47d4f"/>
<circle cx="523.5" cy="290.6" r="0.6" fill="#f47c4f"/>
<circle cx="506.5" cy="287.9" r="0.6" fill="#f37a4d"/>
<circle cx="532.5" cy="298.9" r="0.6" fill="#f3794d"/>
<circle cx="538.4" cy="289.4" r="0.6" fill="#f3794d"/>
<circle cx="524.9" cy="296.5" r="0.6" fill="#f3794d"/>
<circle cx="531.3" cy="287.4" r="0.6" fill="#f3794d"/>
<circle cx="534.3" cy="287.4" r="0.6" fill="#f3774c"/>
<circle cx="535.3" cy="297.9" r="0.6" fill="#f3764b"/>
<circle cx="535.2" cy="288.2" r="0.6" fill="#f3764b"/>
<circle cx="520.5" cy="290.7" r="0.6" fill="#f3754b"/>
<circle cx="535.4" cy="296.4" r="0.6" fill="#f3754b"/>
<circle cx="520.6" cy="285.0" r="0.6" fill="#f3754a"/>
<circle cx="537.9" cy="284.9" r="0.6" fill="#f3744a"/>
<circle cx="537.2" cy="286.1" r="0.6" fill="#f3744a"/>
<circle cx="532.9" cy="298.7" r="0.6" fill="#f2734a"/>
<circle cx="538.4" cy="284.5" r="0.6" fill="#f27349"/>
<circle cx="534.2" cy="283.5" r="0.6" fill="#f27249"/>
<circle cx="546.1" cy="286.8" r="0.6" fill="#f27249"/>
<circle cx="534.0" cy="284.8" r="0.6" fill="#f27148"/>
<circle cx="536.0" cy="295.6" r="0.6" fill="#f27048"/>
<circle cx="525.6" cy="298.5" r="0.6" fill="#f27048"/>
<circle cx="523.7" cy="291.3" r="0.6" fill="#f27048"/>
<circle cx="539.7" cy="290.1" r="0.6" fill="#f27048"/>
<circle cx="523.0" cy="295.2" r="0.6" fill="#f26f48"/>
<circle cx="529.3" cy="296.6" r="0.6" fill="#f16f48"/>
<circle cx="535.4" cy="289.0" r="0.6" fill="#f16e49"/>
<circle cx="536.4" cy="297.0" r="0.6" fill="#f16d49"/>
<circle cx="536.2" cy="297.9" r="0.6" fill="#f16c49"/>
<circle cx="514.0" cy="282.4" r="0.6" fill="#f06c49"/>
<circle cx="539.8" cy="286.6" r="0.6" fill="#f06c49"/>
<circle cx="534.3" cy="301.1" r="0.6" fill="#f06b49"/>
<circle cx="533.4" cy="302.1" r="0.6" fill="#f06b49"/>
<circle cx="535.8" cy="297.8" r="0.6" fill="#ef694a"/>
<circle cx="510.7" cy="281.7" r="0.6" fill="#ef694a"/>
<circle cx="522.7" cy="289.6" r="0.6" fill="#ef694a"/>
<circle cx="542.3" cy="285.5" r="0.6" fill="#ef684a"/>
<circle cx="513.4" cy="285.1" r="0.6" fill="#ef684a"/>
<circle cx="536.4" cy="295.3" r="0.6" fill="#ef684a"/>
<circle cx="529.2" cy="296.5" r="0.6" fill="#ef674b"/>
<circle cx="532.8" cy="299.7" r="0.6" fill="#ee674b"/>
<circle cx="539.1" cy="287.5" r="0.6" fill="#ee664b"/>
<circle cx="536.5" cy="292.1" r="0.6" fill="#ee664b"/>
<circle cx="541.6" cy="286.0" r="0.6" fill="#ee664b"/>
<circle cx="534.5" cy="294.2" r="0.6" fill="#ee664b"/>
<circle cx="525.2" cy="298.1" r="0.6" fill="#ee664b"/>
<circle cx="535.6" cy="290.2" r="0.6" fill="#ee654b"/>
<circle cx="531.9" cy="285.1" r="0.6" fill="#ee654b"/>
<circle cx="541.1" cy="290.7" r="0.6" fill="#ed644b"/>
<circle cx="542.4" cy="287.3" r="0.6" fill="#ed644c"/>
<circle cx="539.4" cy="292.3" r="0.6" fill="#ed634c"/>
<circle cx="532.5" cy="301.3" r="0.6" fill="#ed634c"/>
<circle cx="530.8" cy="298.2" r="0.6" fill="#ed634c"/>
<circle cx="539.4" cy="287.6" r="0.6" fill="#ec614c"/>
<circle cx="525.7" cy="294.2" r="0.6" fill="#ec604d"/>
<circle cx="534.3" cy="298.8" r="0.6" fill="#eb604d"/>
<circle cx="531.5" cy="287.1" r="0.6" fill="#eb604d"/>
<circle cx="534.8" cy="292.4" r="0.6" fill="#eb604d"/>
<circle cx="534.1" cy="299.7" r="0.6" fill="#eb604d"/>
<circle cx="540.1" cy="290.1" r="0.6" fill="#eb604d"/>
<circle cx="540.4" cy="288.8" r="0.6" fill="#eb5f4d"/>
<circle cx="537.6" cy="287.1" r="0.6" fill="#eb5f4d"/>
<circle cx="535.8" cy="287.5" r="0.6" fill="#eb5e4d"/>
<circle cx="538.1" cy="292.7" r="0.6" fill="#eb5e4d"/>
<circle cx="538.7" cy="285.0" r="0.6" fill="#eb5e4d"/>
<circle cx="539.1" cy="290.3" r="0.6" fill="#ea5d4e"/>
<circle cx="539.1" cy="290.2" r="0.6" fill="#ea5c4e"/>
<circle cx="534.4" cy="285.9" r="0.6" fill="#ea5c4e"/>
<circle cx="541.8" cy="289.3" r="0.6" fill="#ea5c4e"/>
<circle cx="532.6" cy="287.8" r="0.6" fill="#e95b4e"/>
<circle cx="530.8" cy="300.5" r="0.6" fill="#e95b4e"/>
<circle cx="547.7" cy="285.0" r="0.6" fill="#e95a4e"/>
<circle cx="521.2" cy="288.7" r="0.6" fill="#e95a4e"/>
<circle cx="511.0" cy="275.9" r="0.6" fill="#e9594f"/>
<circle cx="541.1" cy="289.0" r="0.6" fill="#e8594f"/>
<circle cx="524.0" cy="297.0" r="0.6" fill="#e8584f"/>
<circle cx="536.2" cy="295.8" r="0.6" fill="#e8584f"/>
<circle cx="537.4" cy="288.7" r="0.6" fill="#e8574f"/>
<circle cx="533.6" cy="298.5" r="0.6" fill="#e75550"/>
<circle cx="541.9" cy="283.8" r="0.6" fill="#e75550"/>
<circle cx="536.0" cy="283.8" r="0.6" fill="#e75550"/>
<circle cx="535.0" cy="296.3" r="0.6" fill="#e75450"/>
<circle cx="544.2" cy="283.3" r="0.6" fill="#e75450"/>
<circle cx="537.3" cy="292.0" r="0.6" fill="#e65350"/>
<circle cx="539.7" cy="290.8" r="0.6" fill="#e65351"/>
<circle cx="515.2" cy="287.6" r="0.6" fill="#e55151"/>
<circle cx="537.1" cy="292.2" r="0.6" fill="#e55151"/>
<circle cx="527.4" cy="292.6" r="0.6" fill="#e55151"/>
<circle cx="538.9" cy="289.7" r="0.6" fill="#e55052"/>
<circle cx="537.7" cy="285.0" r="0.6" fill="#e54f52"/>
<circle cx="525.0" cy="294.5" r="0.6" fill="#e44e52"/>
<circle cx="529.9" cy="294.3" r="0.6" fill="#e44d52"/>
<circle cx="534.8" cy="286.4" r="0.6" fill="#e44d52"/>
<circle cx="531.2" cy="285.6" r="0.6" fill="#e44d53"/>
<circle cx="538.9" cy="291.6" r="0.6" fill="#e34c53"/>
<circle cx="539.1" cy="292.3" r="0.6" fill="#e34b53"/>
<circle cx="515.5" cy="285.7" r="0.6" fill="#e34b53"/>
<circle cx="546.2" cy="284.9" r="0.6" fill="#e34b53"/>
<circle cx="538.3" cy="286.1" r="0.6" fill="#e24954"/>
<circle cx="527.8" cy="285.0" r="0.6" fill="#e24854"/>
<circle cx="535.0" cy="300.2" r="0.6" fill="#e14654"/>
<circle cx="548.2" cy="282.4" r="0.6" fill="#e14655"/>
<circle cx="530.5" cy="287.3" r="0.6" fill="#e14555"/>
<circle cx="532.3" cy="302.0" r="0.6" fill="#e04355"/>
<circle cx="542.3" cy="285.8" r="0.6" fill="#df4256"/>
<circle cx="532.2" cy="285.0" r="0.6" fill="#df4156"/>
<circle cx="536.8" cy="292.7" r="0.6" fill="#df4156"/>
<circle cx="534.4" cy="294.8" r="0.6" fill="#de3e57"/>
<circle cx="533.2" cy="285.7" r="0.6" fill="#dd3e57"/>
<circle cx="539.9" cy="286.4" r="0.6" fill="#dd3d57"/>
<circle cx="538.2" cy="287.7" r="0.6" fill="#dd3c57"/>
<circle cx="532.5" cy="287.9" r="0.6" fill="#db3959"/>
<circle cx="536.8" cy="292.0" r="0.6" fill="#da3859"/>
<circle cx="548.1" cy="286.5" r="0.6" fill="#d93859"/>
<circle cx="529.0" cy="300.9" r="0.6" fill="#d8375a"/>
<circle cx="540.4" cy="289.4" r="0.6" fill="#d8375a"/>
<circle cx="533.3" cy="296.9" r="0.6" fill="#d8375a"/>
<circle cx="542.6" cy="284.1" r="0.6" fill="#d8375a"/>
<circle cx="547.8" cy="279.4" r="0.6" fill="#d8375a"/>
<circle cx="545.2" cy="283.7" r="0.6" fill="#d6355a"/>
<circle cx="539.9" cy="284.4" r="0.6" fill="#d5355b"/>
<circle cx="531.9" cy="288.3" r="0.6" fill="#d5355b"/>
<circle cx="532.9" cy="300.7" r="0.6" fill="#d5345b"/>
<circle cx="548.1" cy="274.8" r="0.6" fill="#d4345b"/>
<circle cx="545.9" cy="287.6" r="0.6" fill="#d3335c"/>
<circle cx="547.7" cy="284.7" r="0.6" fill="#cf305e"/>
<circle cx="547.6" cy="279.2" r="0.6" fill="#cf2f5e"/>
<circle cx="547.1" cy="273.4" r="0.6" fill="#ce2f5e"/>
<circle cx="532.0" cy="299.6" r="0.6" fill="#cc2d5f"/>
<circle cx="546.5" cy="271.4" r="0.6" fill="#ca2b60"/>
<circle cx="536.7" cy="296.4" r="0.6" fill="#c82a60"/>
<circle cx="542.5" cy="282.4" r="0.6" fill="#c82a60"/>
<circle cx="532.4" cy="302.3" r="0.6" fill="#c82a61"/>
<circle cx="544.9" cy="283.0" r="0.6" fill="#c52762"/>
<circle cx="545.4" cy="287.8" r="0.6" fill="#c42762"/>
<circle cx="547.5" cy="279.0" r="0.6" fill="#c42662"/>
<circle cx="536.2" cy="296.3" r="0.6" fill="#c12563"/>
<circle cx="540.0" cy="290.4" r="0.6" fill="#bf2265"/>
<circle cx="548.3" cy="286.2" r="0.6" fill="#be2265"/>
<circle cx="548.6" cy="276.3" r="0.6" fill="#bd2165"/>
<circle cx="548.7" cy="280.1" r="0.6" fill="#bd2165"/>
<circle cx="546.9" cy="286.1" r="0.6" fill="#bb2066"/>
<circle cx="547.9" cy="283.5" r="0.6" fill="#ba1f66"/>
<circle cx="546.1" cy="287.6" r="0.6" fill="#ba1f67"/>
<circle cx="543.4" cy="285.1" r="0.6" fill="#ba1e67"/>
<circle cx="538.6" cy="273.5" r="0.6" fill="#b81d67"/>
<circle cx="540.6" cy="276.9" r="0.6" fill="#b81d67"/>
<circle cx="544.3" cy="286.7" r="0.6" fill="#b61c68"/>
<circle cx="542.5" cy="284.2" r="0.6" fill="#b61c68"/>
<circle cx="543.3" cy="285.0" r="0.6" fill="#b61b68"/>
<circle cx="548.2" cy="275.6" r="0.6" fill="#b51a69"/>
<circle cx="540.6" cy="275.3" r="0.6" fill="#b41a69"/>
<circle cx="547.9" cy="280.6" r="0.6" fill="#b3196a"/>
<circle cx="546.4" cy="277.1" r="0.6" fill="#b1186a"/>
<circle cx="540.0" cy="282.6" r="0.6" fill="#af176a"/>
<circle cx="543.4" cy="284.8" r="0.6" fill="#ad176a"/>
<circle cx="539.5" cy="269.7" r="0.6" fill="#ad176a"/>
<circle cx="547.7" cy="286.1" r="0.6" fill="#ac176a"/>
<circle cx="546.1" cy="279.0" r="0.6" fill="#ac176a"/>
<circle cx="544.5" cy="286.6" r="0.6" fill="#ab166a"/>
<circle cx="545.8" cy="278.6" r="0.6" fill="#a9166a"/>
<circle cx="540.0" cy="270.3" r="0.6" fill="#a81669"/>
<circle cx="547.0" cy="276.3" r="0.6" fill="#a81669"/>
<circle cx="548.6" cy="281.7" r="0.6" fill="#a71669"/>
<circle cx="548.3" cy="274.1" r="0.6" fill="#a71669"/>
<circle cx="540.4" cy="284.7" r="0.6" fill="#a71669"/>
<circle cx="539.0" cy="275.2" r="0.6" fill="#a71669"/>
<circle cx="545.5" cy="274.2" r="0.6" fill="#a71569"/>
<circle cx="547.7" cy="277.2" r="0.6" fill="#a61569"/>
<circle cx="541.9" cy="277.0" r="0.6" fill="#a61569"/>
<circle cx="545.1" cy="282.3" r="0.6" fill="#a61569"/>
<circle cx="539.0" cy="276.7" r="0.6" fill="#a51569"/>
<circle cx="541.0" cy="280.2" r="0.6" fill="#a51569"/>
<circle cx="540.9" cy="278.0" r="0.6" fill="#a51569"/>
<circle cx="547.1" cy="287.0" r="0.6" fill="#a21569"/>
<circle cx="540.0" cy="282.6" r="0.6" fill="#a21569"/>
<circle cx="543.5" cy="285.1" r="0.6" fill="#a21469"/>
<circle cx="545.9" cy="272.1" r="0.6" fill="#a21469"/>
<circle cx="546.4" cy="282.6" r="0.6" fill="#a11469"/>
<circle cx="546.8" cy="283.5" r="0.6" fill="#a11469"/>
<circle cx="545.8" cy="272.1" r="0.6" fill="#a01469"/>
<circle cx="547.9" cy="279.6" r="0.6" fill="#9f1469"/>
<circle cx="548.0" cy="273.4" r="0.6" fill="#9e1469"/>
<circle cx="548.2" cy="276.1" r="0.6" fill="#9e1469"/>
<circle cx="547.5" cy="275.9" r="0.6" fill="#9d1369"/>
<circle cx="543.6" cy="288.2" r="0.6" fill="#9d1369"/>
<circle cx="540.7" cy="276.1" r="0.6" fill="#9c1369"/>
<circle cx="545.0" cy="286.7" r="0.6" fill="#9c1369"/>
<circle cx="540.8" cy="286.7" r="0.6" fill="#9c1369"/>
<circle cx="547.0" cy="274.3" r="0.6" fill="#9b1369"/>
<circle cx="539.7" cy="274.0" r="0.6" fill="#9b1369"/>
<circle cx="548.5" cy="277.1" r="0.6" fill="#9b1369"/>
<circle cx="547.1" cy="282.7" r="0.6" fill="#9b1369"/>
<circle cx="547.9" cy="279.4" r="0.6" fill="#9a1369"/>
<circle cx="540.9" cy="278.1" r="0.6" fill="#9a1369"/>
<circle cx="546.4" cy="284.0" r="0.6" fill="#9a1369"/>
<circle cx="548.1" cy="285.4" r="0.6" fill="#971269"/>
<circle cx="547.4" cy="283.9" r="0.6" fill="#971269"/>
<circle cx="541.5" cy="286.9" r="0.6" fill="#971269"/>
<circle cx="544.0" cy="285.8" r="0.6" fill="#971269"/>
<circle cx="544.1" cy="287.7" r="0.6" fill="#971268"/>
<circle cx="539.6" cy="277.5" r="0.6" fill="#971268"/>
<circle cx="547.0" cy="277.5" r="0.6" fill="#961268"/>
<circle cx="540.4" cy="273.2" r="0.6" fill="#951268"/>
<circle cx="541.4" cy="286.1" r="0.6" fill="#941168"/>
<circle cx="548.9" cy="282.6" r="0.6" fill="#941168"/>
<circle cx="543.0" cy="282.3" r="0.6" fill="#941168"/>
<circle cx="545.2" cy="283.0" r="0.6" fill="#931168"/>
<circle cx="541.3" cy="283.1" r="0.6" fill="#931168"/>
<circle cx="540.8" cy="272.4" r="0.6" fill="#931168"/>
<circle cx="546.6" cy="273.8" r="0.6" fill="#921168"/>
<circle cx="547.7" cy="287.0" r="0.6" fill="#921168"/>
<circle cx="546.7" cy="287.0" r="0.6" fill="#901168"/>
<circle cx="541.1" cy="285.0" r="0.6" fill="#901068"/>
<circle cx="539.6" cy="270.5" r="0.6" fill="#901068"/>
<circle cx="539.5" cy="279.3" r="0.6" fill="#8f1068"/>
<circle cx="542.2" cy="281.5" r="0.6" fill="#8e1068"/>
<circle cx="542.2" cy="286.1" r="0.6" fill="#8d1068"/>
<circle cx="543.4" cy="286.0" r="0.6" fill="#8d1068"/>
<circle cx="545.9" cy="285.7" r="0.6" fill="#8d1068"/>
<circle cx="540.9" cy="272.4" r="0.6" fill="#8d1068"/>
<circle cx="546.4" cy="283.8" r="0.6" fill="#8c1067"/>
<circle cx="544.1" cy="283.5" r="0.6" fill="#8c1067"/>
<circle cx="548.6" cy="287.0" r="0.6" fill="#8b1067"/>
<circle cx="539.6" cy="278.3" r="0.6" fill="#891066"/>
<circle cx="546.7" cy="276.7" r="0.6" fill="#880f66"/>
<circle cx="539.6" cy="279.1" r="0.6" fill="#880f66"/>
<circle cx="540.2" cy="282.7" r="0.6" fill="#880f66"/>
<circle cx="547.7" cy="274.2" r="0.6" fill="#870f65"/>
<circle cx="547.4" cy="284.1" r="0.6" fill="#870f65"/>
<circle cx="547.1" cy="274.2" r="0.6" fill="#860f65"/>
<circle cx="541.7" cy="285.8" r="0.6" fill="#850f64"/>
<circle cx="545.7" cy="276.8" r="0.6" fill="#840f64"/>
<circle cx="542.8" cy="285.0" r="0.6" fill="#840f64"/>
<circle cx="541.5" cy="281.0" r="0.6" fill="#840f64"/>
<circle cx="546.8" cy="285.7" r="0.6" fill="#830f64"/>
<circle cx="540.9" cy="282.3" r="0.6" fill="#830f64"/>
<circle cx="541.4" cy="282.1" r="0.6" fill="#830f64"/>
<circle cx="548.0" cy="282.0" r="0.6" fill="#820f64"/>
<circle cx="540.8" cy="282.6" r="0.6" fill="#820f63"/>
<circle cx="539.4" cy="276.1" r="0.6" fill="#810f63"/>
<circle cx="545.0" cy="282.2" r="0.6" fill="#7e0f62"/>
<circle cx="547.9" cy="273.3" r="0.6" fill="#7e0f62"/>
<circle cx="546.5" cy="275.7" r="0.6" fill="#7d0f62"/>
<circle cx="543.2" cy="285.1" r="0.6" fill="#7d0f61"/>
<circle cx="547.0" cy="277.3" r="0.6" fill="#7d0f61"/>
<circle cx="547.0" cy="276.7" r="0.6" fill="#7c0f61"/>
<circle cx="546.8" cy="273.9" r="0.6" fill="#7c0e61"/>
<circle cx="548.7" cy="287.7" r="0.6" fill="#7b0e61"/>
<circle cx="540.6" cy="277.7" r="0.6" fill="#7a0e61"/>
<circle cx="540.7" cy="275.3" r="0.6" fill="#7a0e60"/>
<circle cx="544.1" cy="284.4" r="0.6" fill="#7a0e60"/>
<circle cx="540.0" cy="274.9" r="0.6" fill="#790e60"/>
<circle cx="545.6" cy="284.2" r="0.6" fill="#790e60"/>
<circle cx="546.0" cy="271.7" r="0.6" fill="#780e60"/>
<circle cx="547.4" cy="286.7" r="0.6" fill="#770e5f"/>
<circle cx="545.8" cy="283.4" r="0.6" fill="#770e5f"/>
<circle cx="540.8" cy="275.2" r="0.6" fill="#760e5f"/>
<circle cx="546.6" cy="287.4" r="0.6" fill="#760e5f"/>
<circle cx="538.5" cy="271.0" r="0.6" fill="#750e5f"/>
<circle cx="547.5" cy="275.1" r="0.6" fill="#750e5f"/>
<circle cx="541.2" cy="278.7" r="0.6" fill="#750e5e"/>
<circle cx="545.5" cy="287.6" r="0.6" fill="#740e5e"/>
<circle cx="545.4" cy="283.5" r="0.6" fill="#730e5e"/>
<circle cx="541.0" cy="277.5" r="0.6" fill="#720e5d"/>
<circle cx="539.8" cy="276.1" r="0.6" fill="#720e5d"/>
<circle cx="547.0" cy="276.9" r="0.6" fill="#720e5d"/>
<circle cx="539.2" cy="274.2" r="0.6" fill="#710e5d"/>
<circle cx="547.4" cy="280.2" r="0.6" fill="#710e5d"/>
<circle cx="539.4" cy="270.7" r="0.6" fill="#700e5d"/>
<circle cx="548.1" cy="287.4" r="0.6" fill="#700d5d"/>
<circle cx="545.5" cy="275.3" r="0.6" fill="#700d5d"/>
<circle cx="545.9" cy="275.0" r="0.6" fill="#700d5d"/>
<circle cx="547.1" cy="283.0" r="0.6" fill="#6f0d5c"/>
<circle cx="543.1" cy="286.9" r="0.6" fill="#6f0d5c"/>
<circle cx="548.7" cy="285.3" r="0.6" fill="#6f0d5c"/>
<circle cx="547.5" cy="273.8" r="0.6" fill="#6e0d5c"/>
<circle cx="549.1" cy="278.4" r="0.6" fill="#6e0d5c"/>
<circle cx="547.0" cy="282.9" r="0.6" fill="#6b0d5b"/>
<circle cx="540.8" cy="282.6" r="0.6" fill="#690d5a"/>
<circle cx="546.5" cy="286.0" r="0.6" fill="#690d5a"/>
<circle cx="547.9" cy="282.4" r="0.6" fill="#680d5a"/>
<circle cx="539.0" cy="271.3" r="0.6" fill="#680d5a"/>
<circle cx="546.6" cy="274.8" r="0.6" fill="#670d59"/>
<circle cx="540.0" cy="279.3" r="0.6" fill="#660d59"/>
<circle cx="548.2" cy="285.4" r="0.6" fill="#660d59"/>
<circle cx="538.7" cy="271.8" r="0.6" fill="#660d59"/>
<circle cx="538.9" cy="275.3" r="0.6" fill="#660d59"/>
<circle cx="540.7" cy="276.9" r="0.6" fill="#640c58"/>
<circle cx="548.1" cy="282.2" r="0.6" fill="#640c58"/>
<circle cx="545.6" cy="274.0" r="0.6" fill="#630c58"/>
<circle cx="546.4" cy="274.5" r="0.6" fill="#630c58"/>
<circle cx="546.5" cy="275.6" r="0.6" fill="#630c58"/>
<circle cx="539.3" cy="275.1" r="0.6" fill="#600c57"/>
<circle cx="547.7" cy="277.6" r="0.6" fill="#600c57"/>
<circle cx="540.4" cy="273.6" r="0.6" fill="#5f0c56"/>
<circle cx="539.0" cy="273.8" r="0.6" fill="#5f0c56"/>
<circle cx="540.7" cy="272.4" r="0.6" fill="#5d0c55"/>
<circle cx="539.2" cy="276.2" r="0.6" fill="#5a0c53"/>
<circle cx="541.0" cy="282.4" r="0.6" fill="#590c52"/>
<circle cx="539.4" cy="277.4" r="0.6" fill="#580c51"/>
<circle cx="539.6" cy="278.1" r="0.6" fill="#580c51"/>
<circle cx="540.6" cy="273.6" r="0.6" fill="#570c51"/>
<circle cx="539.8" cy="269.7" r="0.6" fill="#570c51"/>
<circle cx="548.5" cy="278.9" r="0.6" fill="#550c50"/>
<circle cx="547.0" cy="285.4" r="0.6" fill="#550c50"/>
<circle cx="541.8" cy="277.9" r="0.6" fill="#4f0b4b"/>
<circle cx="548.9" cy="278.5" r="0.6" fill="#4f0b4b"/>
<circle cx="538.7" cy="272.6" r="0.6" fill="#4e0b4a"/>
<circle cx="539.7" cy="278.7" r="0.6" fill="#4d0b4a"/>
<circle cx="539.9" cy="273.3" r="0.6" fill="#4d0b49"/>
<circle cx="548.5" cy="275.0" r="0.6" fill="#4d0b49"/>
<circle cx="540.9" cy="283.0" r="0.6" fill="#4d0b49"/>
<circle cx="540.8" cy="280.9" r="0.6" fill="#4d0b49"/>
<circle cx="547.2" cy="283.0" r="0.6" fill="#4c0b49"/>
<circle cx="539.4" cy="273.3" r="0.6" fill="#4a0b47"/>
<circle cx="540.2" cy="279.7" r="0.6" fill="#490b47"/>
<circle cx="541.5" cy="276.1" r="0.6" fill="#460b44"/>
<circle cx="539.7" cy="275.8" r="0.6" fill="#420b42"/>
<circle cx="540.5" cy="276.4" r="0.6" fill="#420b41"/>
<circle cx="541.2" cy="282.3" r="0.6" fill="#400b3f"/>
<circle cx="539.8" cy="275.4" r="0.6" fill="#3f0b3f"/>
<circle cx="541.0" cy="280.9" r="0.6" fill="#390a3a"/>
<circle cx="540.4" cy="273.3" r="0.6" fill="#370a39"/>
<circle cx="548.2" cy="278.5" r="0.6" fill="#330a36"/>
<circle cx="539.8" cy="273.0" r="0.6" fill="#2d0a31"/>
<circle cx="541.2" cy="277.3" r="0.6" fill="#1c0721"/>
<circle cx="540.9" cy="273.6" r="0.6" fill="#0e0514"/>
<line x1="588.70" y1="251.50" x2="588.70" y2="306.20" stroke="#7a7a7a" stroke-width="0.8"/>
<line x1="588.30" y1="305.80" x2="638.10" y2="305.80" stroke="#7a7a7a" stroke-width="0.8"/>
<line x1="590.60" y1="305.80" x2="590.60" y2="306.80" stroke="#333" stroke-width="0.5"/>
<text x="590.60" y="310.70" font-size="4.6" text-anchor="middle" fill="#333" style="stroke-width:0.12px">-10</text>
<line x1="601.85" y1="305.80" x2="601.85" y2="306.80" stroke="#333" stroke-width="0.5"/>
<text x="601.85" y="310.70" font-size="4.6" text-anchor="middle" fill="#333" style="stroke-width:0.12px">-5</text>
<line x1="613.10" y1="305.80" x2="613.10" y2="306.80" stroke="#333" stroke-width="0.5"/>
<text x="613.10" y="310.70" font-size="4.6" text-anchor="middle" fill="#333" style="stroke-width:0.12px">0</text>
<line x1="624.35" y1="305.80" x2="624.35" y2="306.80" stroke="#333" stroke-width="0.5"/>
<text x="624.35" y="310.70" font-size="4.6" text-anchor="middle" fill="#333" style="stroke-width:0.12px">5</text>
<line x1="635.60" y1="305.80" x2="635.60" y2="306.80" stroke="#333" stroke-width="0.5"/>
<text x="635.60" y="310.70" font-size="4.6" text-anchor="middle" fill="#333" style="stroke-width:0.12px">10</text>
<line x1="587.70" y1="256.90" x2="588.70" y2="256.90" stroke="#333" stroke-width="0.5"/>
<text x="587.10" y="258.55" font-size="4.6" text-anchor="end" fill="#333" style="stroke-width:0.12px">10</text>
<line x1="587.70" y1="271.55" x2="588.70" y2="271.55" stroke="#333" stroke-width="0.5"/>
<text x="587.10" y="273.20" font-size="4.6" text-anchor="end" fill="#333" style="stroke-width:0.12px">5</text>
<line x1="587.70" y1="286.20" x2="588.70" y2="286.20" stroke="#333" stroke-width="0.5"/>
<text x="587.10" y="287.85" font-size="4.6" text-anchor="end" fill="#333" style="stroke-width:0.12px">0</text>
<line x1="587.70" y1="300.85" x2="588.70" y2="300.85" stroke="#333" stroke-width="0.5"/>
<text x="587.10" y="302.50" font-size="4.6" text-anchor="end" fill="#333" style="stroke-width:0.12px">-5</text>
<text x="613.10" y="315.50" font-size="5.2" text-anchor="middle" fill="#111">UMAP_1</text>
<text transform="translate(578.90,277.20) rotate(-90)" font-size="5.2" text-anchor="middle" fill="#111">UMAP_2</text>
<text x="613.30" y="248.70" font-size="5.6" text-anchor="middle" font-weight="bold" fill="#000">TGFB1l1</text>
<defs><linearGradient id="gTGFB1l1" x1="0" y1="0" x2="0" y2="1"><stop offset="0.00" stop-color="#0e0514"/><stop offset="0.10" stop-color="#2e0a38"/><stop offset="0.20" stop-color="#580c5c"/><stop offset="0.32" stop-color="#8a1070"/><stop offset="0.43" stop-color="#b0186c"/><stop offset="0.55" stop-color="#d83058"/><stop offset="0.67" stop-color="#ef6340"/><stop offset="0.78" stop-color="#f9954f"/><stop offset="0.90" stop-color="#fcc07a"/><stop offset="1.00" stop-color="#fde3b0"/></linearGradient></defs>
<rect x="642.70" y="267.50" width="5.7" height="23.5" fill="url(#gTGFB1l1)"/>
<text x="650.50" y="271.10" font-size="3.9" text-anchor="start" fill="#111">1.00</text>
<text x="650.50" y="276.80" font-size="3.9" text-anchor="start" fill="#111">0.75</text>
<text x="650.50" y="282.20" font-size="3.9" text-anchor="start" fill="#111">0.50</text>
<text x="650.50" y="287.60" font-size="3.9" text-anchor="start" fill="#111">0.25</text>
<text x="650.50" y="293.50" font-size="3.9" text-anchor="start" fill="#111">0.00</text>
<circle cx="618.9" cy="298.3" r="0.6" fill="#fdf3ea"/>
<circle cx="605.4" cy="282.6" r="0.6" fill="#fdf3ea"/>
<circle cx="610.5" cy="288.0" r="0.6" fill="#fdf3ea"/>
<circle cx="604.8" cy="282.8" r="0.6" fill="#fdf3ea"/>
<circle cx="617.0" cy="287.0" r="0.6" fill="#fdf3ea"/>
<circle cx="599.7" cy="289.6" r="0.6" fill="#fdf3ea"/>
<circle cx="606.9" cy="286.8" r="0.6" fill="#fdf3ea"/>
<circle cx="625.7" cy="284.4" r="0.6" fill="#fdf3ea"/>
<circle cx="603.5" cy="285.9" r="0.6" fill="#fdf3ea"/>
<circle cx="611.0" cy="291.2" r="0.6" fill="#fdf3ea"/>
<circle cx="610.1" cy="290.7" r="0.6" fill="#fdf3ea"/>
<circle cx="632.3" cy="284.9" r="0.6" fill="#fdf3ea"/>
<circle cx="629.3" cy="282.5" r="0.6" fill="#fdf3ea"/>
<circle cx="627.8" cy="284.4" r="0.6" fill="#fdf3ea"/>
<circle cx="608.1" cy="290.2" r="0.6" fill="#fdf3ea"/>
<circle cx="611.6" cy="291.5" r="0.6" fill="#fdf3ea"/>
<circle cx="609.0" cy="290.2" r="0.6" fill="#fdf3ea"/>
<circle cx="605.4" cy="284.3" r="0.6" fill="#fdf3ea"/>
<circle cx="626.5" cy="292.1" r="0.6" fill="#fdf3ea"/>
<circle cx="596.7" cy="289.1" r="0.6" fill="#fdf3ea"/>
<circle cx="626.9" cy="277.1" r="0.6" fill="#fdf3ea"/>
<circle cx="606.2" cy="282.3" r="0.6" fill="#fdf3ea"/>
<circle cx="606.8" cy="290.2" r="0.6" fill="#fdf3ea"/>
<circle cx="614.7" cy="291.9" r="0.6" fill="#fdf3ea"/>
<circle cx="597.5" cy="287.5" r="0.6" fill="#fdf3ea"/>
<circle cx="601.6" cy="282.8" r="0.6" fill="#fdf3ea"/>
<circle cx="616.8" cy="297.6" r="0.6" fill="#fdf3ea"/>
<circle cx="611.6" cy="289.8" r="0.6" fill="#fdf3ea"/>
<circle cx="613.9" cy="284.3" r="0.6" fill="#fdf3ea"/>
<circle cx="614.7" cy="295.3" r="0.6" fill="#fdf3ea"/>
<circle cx="621.3" cy="294.0" r="0.6" fill="#fdf3ea"/>
<circle cx="609.2" cy="287.4" r="0.6" fill="#fdf3ea"/>
<circle cx="600.7" cy="287.6" r="0.6" fill="#fdf3ea"/>
<circle cx="625.5" cy="284.9" r="0.6" fill="#fdf3ea"/>
<circle cx="601.4" cy="283.7" r="0.6" fill="#fdf3ea"/>
<circle cx="623.6" cy="286.7" r="0.6" fill="#fdf3e9"/>
<circle cx="632.8" cy="273.0" r="0.6" fill="#fdf3e9"/>
<circle cx="617.7" cy="294.0" r="0.6" fill="#fdf3e9"/>
<circle cx="624.4" cy="283.6" r="0.6" fill="#fdf3e9"/>
<circle cx="610.1" cy="294.7" r="0.6" fill="#fdf3e9"/>
<circle cx="633.9" cy="276.3" r="0.6" fill="#fdf3e9"/>
<circle cx="614.6" cy="301.1" r="0.6" fill="#fdf3e9"/>
<circle cx="624.1" cy="286.8" r="0.6" fill="#fdf3e9"/>
<circle cx="603.5" cy="292.4" r="0.6" fill="#fdf3e9"/>
<circle cx="620.5" cy="296.0" r="0.6" fill="#fdf3e9"/>
<circle cx="602.4" cy="256.2" r="0.6" fill="#fdf3e9"/>
<circle cx="624.0" cy="288.8" r="0.6" fill="#fdf3e9"/>
<circle cx="600.4" cy="292.6" r="0.6" fill="#fdf3e9"/>
<circle cx="607.7" cy="285.1" r="0.6" fill="#fdf3e9"/>
<circle cx="592.9" cy="290.2" r="0.6" fill="#fdf3e9"/>
<circle cx="606.9" cy="286.2" r="0.6" fill="#fdf3e9"/>
<circle cx="619.7" cy="295.5" r="0.6" fill="#fdf3e9"/>
<circle cx="602.4" cy="291.6" r="0.6" fill="#fdf3e9"/>
<circle cx="602.3" cy="256.6" r="0.6" fill="#fdf3e9"/>
<circle cx="605.0" cy="283.2" r="0.6" fill="#fdf3e9"/>
<circle cx="605.0" cy="282.4" r="0.6" fill="#fdf3e9"/>
<circle cx="618.3" cy="295.0" r="0.6" fill="#fdf3e9"/>
<circle cx="602.5" cy="257.5" r="0.6" fill="#fdf3e9"/>
<circle cx="608.0" cy="284.0" r="0.6" fill="#fdf3e9"/>
<circle cx="601.6" cy="291.8" r="0.6" fill="#fdf3e9"/>
<circle cx="604.2" cy="289.5" r="0.6" fill="#fdf3e9"/>
<circle cx="627.3" cy="280.7" r="0.6" fill="#fdf3e9"/>
<circle cx="634.4" cy="278.2" r="0.6" fill="#fdf3e9"/>
<circle cx="618.7" cy="297.9" r="0.6" fill="#fdf3e9"/>
<circle cx="628.5" cy="286.6" r="0.6" fill="#fdf3e9"/>
<circle cx="608.3" cy="289.8" r="0.6" fill="#fdf3e9"/>
<circle cx="597.8" cy="292.5" r="0.6" fill="#fdf3e9"/>
<circle cx="594.0" cy="284.4" r="0.6" fill="#fdf3e9"/>
<circle cx="609.3" cy="292.1" r="0.6" fill="#fdf3e9"/>
<circle cx="620.0" cy="284.6" r="0.6" fill="#fdf3e9"/>
<circle cx="601.9" cy="286.0" r="0.6" fill="#fdf3e9"/>
<circle cx="628.1" cy="283.2" r="0.6" fill="#fdf3e9"/>
<circle cx="598.3" cy="284.7" r="0.6" fill="#fdf3e9"/>
<circle cx="625.8" cy="283.5" r="0.6" fill="#fdf3e9"/>
<circle cx="629.2" cy="285.3" r="0.6" fill="#fdf2e9"/>
<circle cx="601.8" cy="284.6" r="0.6" fill="#fdf2e9"/>
<circle cx="624.3" cy="294.3" r="0.6" fill="#fdf2e9"/>
<circle cx="598.0" cy="283.3" r="0.6" fill="#fdf2e9"/>
<circle cx="621.2" cy="284.3" r="0.6" fill="#fdf2e9"/>
<circle cx="621.6" cy="286.5" r="0.6" fill="#fdf2e9"/>
<circle cx="605.8" cy="286.1" r="0.6" fill="#fdf2e9"/>
<circle cx="597.4" cy="287.4" r="0.6" fill="#fdf2e9"/>
<circle cx="602.4" cy="257.0" r="0.6" fill="#fdf2e9"/>
<circle cx="607.0" cy="285.8" r="0.6" fill="#fdf2e9"/>
<circle cx="599.3" cy="292.8" r="0.6" fill="#fdf2e9"/>
<circle cx="629.5" cy="283.5" r="0.6" fill="#fdf2e9"/>
<circle cx="624.0" cy="285.4" r="0.6" fill="#fdf2e9"/>
<circle cx="618.2" cy="297.6" r="0.6" fill="#fdf2e9"/>
<circle cx="603.7" cy="289.8" r="0.6" fill="#fdf2e9"/>
<circle cx="603.1" cy="285.5" r="0.6" fill="#fdf2e9"/>
<circle cx="630.9" cy="282.8" r="0.6" fill="#fdf2e9"/>
<circle cx="634.2" cy="272.5" r="0.6" fill="#fdf2e9"/>
<circle cx="596.4" cy="282.6" r="0.6" fill="#fdf2e9"/>
<circle cx="597.3" cy="285.3" r="0.6" fill="#fdf2e9"/>
<circle cx="610.7" cy="290.5" r="0.6" fill="#fdf2e9"/>
<circle cx="633.9" cy="282.3" r="0.6" fill="#fdf2e9"/>
<circle cx="634.4" cy="286.1" r="0.6" fill="#fdf2e9"/>
<circle cx="608.9" cy="289.5" r="0.6" fill="#fdf2e9"/>
<circle cx="616.2" cy="287.9" r="0.6" fill="#fdf2e9"/>
<circle cx="609.4" cy="295.8" r="0.6" fill="#fdf2e9"/>
<circle cx="622.9" cy="287.9" r="0.6" fill="#fdf2e9"/>
<circle cx="612.4" cy="285.4" r="0.6" fill="#fdf2e9"/>
<circle cx="593.3" cy="290.2" r="0.6" fill="#fdf2e9"/>
<circle cx="611.1" cy="287.6" r="0.6" fill="#fdf2e9"/>
<circle cx="623.9" cy="285.5" r="0.6" fill="#fdf2e9"/>
<circle cx="605.0" cy="286.3" r="0.6" fill="#fdf2e9"/>
<circle cx="622.5" cy="295.4" r="0.6" fill="#fdf2e8"/>
<circle cx="625.3" cy="284.4" r="0.6" fill="#fdf2e8"/>
<circle cx="599.9" cy="282.6" r="0.6" fill="#fdf2e8"/>
<circle cx="593.4" cy="282.6" r="0.6" fill="#fdf2e8"/>
<circle cx="608.4" cy="286.2" r="0.6" fill="#fdf2e8"/>
<circle cx="593.9" cy="288.4" r="0.6" fill="#fdf2e8"/>
<circle cx="611.1" cy="290.0" r="0.6" fill="#fdf2e8"/>
<circle cx="598.2" cy="288.3" r="0.6" fill="#fdf2e8"/>
<circle cx="608.8" cy="285.1" r="0.6" fill="#fdf2e8"/>
<circle cx="608.9" cy="283.8" r="0.6" fill="#fdf2e8"/>
<circle cx="597.1" cy="282.8" r="0.6" fill="#fdf2e8"/>
<circle cx="616.8" cy="298.6" r="0.6" fill="#fdf2e8"/>
<circle cx="618.3" cy="300.7" r="0.6" fill="#fdf2e8"/>
<circle cx="634.1" cy="279.3" r="0.6" fill="#fdf2e8"/>
<circle cx="627.0" cy="273.7" r="0.6" fill="#fdf2e8"/>
<circle cx="601.2" cy="292.7" r="0.6" fill="#fdf2e8"/>
<circle cx="603.2" cy="290.4" r="0.6" fill="#fdf2e8"/>
<circle cx="627.1" cy="275.9" r="0.6" fill="#fdf2e8"/>
<circle cx="596.2" cy="291.3" r="0.6" fill="#fdf2e8"/>
<circle cx="626.5" cy="287.9" r="0.6" fill="#fdf2e8"/>
<circle cx="605.0" cy="285.2" r="0.6" fill="#fdf2e8"/>
<circle cx="622.4" cy="295.3" r="0.6" fill="#fdf2e8"/>
<circle cx="605.3" cy="292.7" r="0.6" fill="#fdf2e8"/>
<circle cx="597.4" cy="275.4" r="0.6" fill="#fdf2e8"/>
<circle cx="605.8" cy="292.3" r="0.6" fill="#fdf2e8"/>
<circle cx="620.6" cy="294.2" r="0.6" fill="#fdf2e8"/>
<circle cx="612.4" cy="296.7" r="0.6" fill="#fdf2e8"/>
<circle cx="601.1" cy="286.2" r="0.6" fill="#fdf2e8"/>
<circle cx="600.0" cy="288.7" r="0.6" fill="#fdf2e8"/>
<circle cx="625.1" cy="287.3" r="0.6" fill="#fdf2e8"/>
<circle cx="603.5" cy="254.7" r="0.6" fill="#fdf2e8"/>
<circle cx="593.8" cy="284.4" r="0.6" fill="#fdf2e8"/>
<circle cx="597.0" cy="292.4" r="0.6" fill="#fdf2e8"/>
<circle cx="611.7" cy="286.2" r="0.6" fill="#fdf2e8"/>
<circle cx="604.1" cy="289.1" r="0.6" fill="#fdf2e8"/>
<circle cx="622.2" cy="298.4" r="0.6" fill="#fdf2e8"/>
<circle cx="618.2" cy="299.6" r="0.6" fill="#fdf2e8"/>
<circle cx="619.0" cy="287.3" r="0.6" fill="#fdf2e8"/>
<circle cx="612.7" cy="300.0" r="0.6" fill="#fdf2e8"/>
<circle cx="625.8" cy="284.4" r="0.6" fill="#fdf2e8"/>
<circle cx="606.7" cy="286.8" r="0.6" fill="#fdf2e8"/>
<circle cx="627.6" cy="284.5" r="0.6" fill="#fdf2e8"/>
<circle cx="615.3" cy="299.3" r="0.6" fill="#fdf2e8"/>
<circle cx="601.3" cy="287.1" r="0.6" fill="#fdf2e8"/>
<circle cx="602.7" cy="292.5" r="0.6" fill="#fdf2e8"/>
<circle cx="623.2" cy="286.7" r="0.6" fill="#fdf2e8"/>
<circle cx="602.6" cy="293.1" r="0.6" fill="#fdf2e8"/>
<circle cx="614.3" cy="296.1" r="0.6" fill="#fdf2e8"/>
<circle cx="610.1" cy="288.1" r="0.6" fill="#fdf2e8"/>
<circle cx="621.7" cy="295.3" r="0.6" fill="#fdf2e8"/>
<circle cx="602.0" cy="257.4" r="0.6" fill="#fdf2e8"/>
<circle cx="624.6" cy="271.4" r="0.6" fill="#fdf2e8"/>
<circle cx="614.7" cy="296.8" r="0.6" fill="#fdf2e8"/>
<circle cx="633.6" cy="274.7" r="0.6" fill="#fdf2e8"/>
<circle cx="621.3" cy="284.5" r="0.6" fill="#fdf2e8"/>
<circle cx="605.0" cy="286.6" r="0.6" fill="#fdf2e8"/>
<circle cx="613.8" cy="294.9" r="0.6" fill="#fdf2e8"/>
<circle cx="608.0" cy="283.1" r="0.6" fill="#fdf2e8"/>
<circle cx="603.7" cy="289.7" r="0.6" fill="#fdf2e8"/>
<circle cx="628.2" cy="286.8" r="0.6" fill="#fdf2e8"/>
<circle cx="599.1" cy="291.6" r="0.6" fill="#fdf2e8"/>
<circle cx="602.4" cy="255.9" r="0.6" fill="#fdf2e8"/>
<circle cx="596.6" cy="278.9" r="0.6" fill="#fdf2e8"/>
<circle cx="610.2" cy="293.5" r="0.6" fill="#fdf2e8"/>
<circle cx="621.3" cy="293.6" r="0.6" fill="#fdf2e8"/>
<circle cx="606.0" cy="284.4" r="0.6" fill="#fdf2e8"/>
<circle cx="598.1" cy="290.9" r="0.6" fill="#fdf2e8"/>
<circle cx="601.6" cy="288.1" r="0.6" fill="#fdf2e8"/>
<circle cx="603.3" cy="290.3" r="0.6" fill="#fdf2e8"/>
<circle cx="618.2" cy="286.4" r="0.6" fill="#fdf2e8"/>
<circle cx="626.7" cy="283.6" r="0.6" fill="#fdf2e8"/>
<circle cx="611.0" cy="295.9" r="0.6" fill="#fdf2e8"/>
<circle cx="609.0" cy="287.8" r="0.6" fill="#fdf2e8"/>
<circle cx="627.8" cy="282.2" r="0.6" fill="#fdf2e8"/>
<circle cx="620.2" cy="298.7" r="0.6" fill="#fdf2e8"/>
<circle cx="599.7" cy="285.7" r="0.6" fill="#fdf2e8"/>
<circle cx="595.3" cy="285.4" r="0.6" fill="#fdf2e8"/>
<circle cx="626.3" cy="289.0" r="0.6" fill="#fdf2e7"/>
<circle cx="614.5" cy="294.4" r="0.6" fill="#fdf2e7"/>
<circle cx="611.5" cy="291.3" r="0.6" fill="#fdf2e7"/>
<circle cx="612.8" cy="290.5" r="0.6" fill="#fdf2e7"/>
<circle cx="618.1" cy="299.1" r="0.6" fill="#fdf2e7"/>
<circle cx="597.7" cy="284.3" r="0.6" fill="#fdf2e7"/>
<circle cx="592.1" cy="286.3" r="0.6" fill="#fdf2e7"/>
<circle cx="596.3" cy="288.9" r="0.6" fill="#fdf2e7"/>
<circle cx="616.1" cy="294.2" r="0.6" fill="#fdf2e7"/>
<circle cx="603.7" cy="289.0" r="0.6" fill="#fdf2e7"/>
<circle cx="628.2" cy="285.4" r="0.6" fill="#fdf2e7"/>
<circle cx="600.6" cy="290.7" r="0.6" fill="#fdf2e7"/>
<circle cx="595.9" cy="289.3" r="0.6" fill="#fdf2e7"/>
<circle cx="632.6" cy="283.6" r="0.6" fill="#fdf2e7"/>
<circle cx="621.4" cy="299.4" r="0.6" fill="#fdf2e7"/>
<circle cx="610.7" cy="289.7" r="0.6" fill="#fdf2e7"/>
<circle cx="632.2" cy="273.9" r="0.6" fill="#fdf2e7"/>
<circle cx="609.7" cy="287.3" r="0.6" fill="#fdf2e7"/>
<circle cx="602.4" cy="257.6" r="0.6" fill="#fdf2e7"/>
<circle cx="621.1" cy="296.2" r="0.6" fill="#fdf2e7"/>
<circle cx="616.6" cy="286.5" r="0.6" fill="#fdf2e7"/>
<circle cx="622.5" cy="289.6" r="0.6" fill="#fdf2e7"/>
<circle cx="607.0" cy="290.3" r="0.6" fill="#fdf2e7"/>
<circle cx="615.6" cy="299.9" r="0.6" fill="#fdf2e7"/>
<circle cx="625.7" cy="273.5" r="0.6" fill="#fdf2e7"/>
<circle cx="594.3" cy="285.3" r="0.6" fill="#fdf2e7"/>
<circle cx="601.2" cy="260.3" r="0.6" fill="#fdf2e7"/>
<circle cx="594.1" cy="289.3" r="0.6" fill="#fdf2e7"/>
<circle cx="621.8" cy="294.3" r="0.6" fill="#fdf2e7"/>
<circle cx="634.7" cy="285.1" r="0.6" fill="#fdf2e7"/>
<circle cx="601.7" cy="257.8" r="0.6" fill="#fdf2e7"/>
<circle cx="626.4" cy="270.1" r="0.6" fill="#fdf2e7"/>
<circle cx="626.7" cy="283.0" r="0.6" fill="#fdf2e7"/>
<circle cx="610.2" cy="289.1" r="0.6" fill="#fdf2e7"/>
<circle cx="604.6" cy="292.0" r="0.6" fill="#fdf2e7"/>
<circle cx="595.7" cy="283.3" r="0.6" fill="#fdf2e7"/>
<circle cx="632.4" cy="275.5" r="0.6" fill="#fdf2e7"/>
<circle cx="594.5" cy="283.2" r="0.6" fill="#fdf2e7"/>
<circle cx="625.0" cy="284.3" r="0.6" fill="#fdf2e7"/>
<circle cx="593.1" cy="291.4" r="0.6" fill="#fdf2e7"/>
<circle cx="605.8" cy="290.9" r="0.6" fill="#fdf2e7"/>
<circle cx="592.3" cy="283.7" r="0.6" fill="#fdf2e7"/>
<circle cx="626.5" cy="275.3" r="0.6" fill="#fdf2e7"/>
<circle cx="619.8" cy="302.0" r="0.6" fill="#fdf2e7"/>
<circle cx="612.4" cy="294.9" r="0.6" fill="#fdf2e7"/>
<circle cx="630.6" cy="286.1" r="0.6" fill="#fdf2e7"/>
<circle cx="604.3" cy="288.0" r="0.6" fill="#fdf2e7"/>
<circle cx="592.5" cy="284.0" r="0.6" fill="#fdf2e7"/>
<circle cx="627.8" cy="286.3" r="0.6" fill="#fdf2e7"/>
<circle cx="623.1" cy="291.4" r="0.6" fill="#fdf2e7"/>
<circle cx="599.9" cy="287.3" r="0.6" fill="#fdf2e7"/>
<circle cx="609.1" cy="296.8" r="0.6" fill="#fdf2e7"/>
<circle cx="624.6" cy="285.9" r="0.6" fill="#fdf1e7"/>
<circle cx="633.6" cy="280.5" r="0.6" fill="#fdf1e7"/>
<circle cx="624.4" cy="290.0" r="0.6" fill="#fdf1e7"/>
<circle cx="610.4" cy="294.0" r="0.6" fill="#fdf1e7"/>
<circle cx="632.9" cy="272.9" r="0.6" fill="#fdf1e7"/>
<circle cx="611.7" cy="299.8" r="0.6" fill="#fdf1e7"/>
<circle cx="619.3" cy="299.1" r="0.6" fill="#fdf1e7"/>
<circle cx="605.9" cy="285.4" r="0.6" fill="#fdf1e7"/>
<circle cx="620.5" cy="300.2" r="0.6" fill="#fdf1e7"/>
<circle cx="623.8" cy="294.3" r="0.6" fill="#fdf1e7"/>
<circle cx="596.5" cy="284.8" r="0.6" fill="#fdf1e6"/>
<circle cx="611.2" cy="294.6" r="0.6" fill="#fdf1e6"/>
<circle cx="602.3" cy="289.6" r="0.6" fill="#fdf1e6"/>
<circle cx="610.9" cy="288.9" r="0.6" fill="#fdf1e6"/>
<circle cx="614.1" cy="295.3" r="0.6" fill="#fdf1e6"/>
<circle cx="632.9" cy="276.7" r="0.6" fill="#fdf1e6"/>
<circle cx="597.7" cy="282.4" r="0.6" fill="#fdf1e6"/>
<circle cx="625.8" cy="273.9" r="0.6" fill="#fdf1e6"/>
<circle cx="624.1" cy="285.6" r="0.6" fill="#fdf1e6"/>
<circle cx="621.3" cy="285.1" r="0.6" fill="#fdf1e6"/>
<circle cx="597.3" cy="289.8" r="0.6" fill="#fdf1e6"/>
<circle cx="614.7" cy="297.0" r="0.6" fill="#fdf1e6"/>
<circle cx="633.2" cy="278.1" r="0.6" fill="#fdf1e6"/>
<circle cx="598.5" cy="282.9" r="0.6" fill="#fdf1e6"/>
<circle cx="610.9" cy="287.4" r="0.6" fill="#fdf1e6"/>
<circle cx="600.5" cy="282.9" r="0.6" fill="#fdf1e6"/>
<circle cx="604.3" cy="282.3" r="0.6" fill="#fdf1e6"/>
<circle cx="602.5" cy="282.7" r="0.6" fill="#fdf1e6"/>
<circle cx="628.7" cy="285.0" r="0.6" fill="#fdf1e6"/>
<circle cx="597.1" cy="287.8" r="0.6" fill="#fdf1e6"/>
<circle cx="611.3" cy="288.0" r="0.6" fill="#fdf1e6"/>
<circle cx="627.7" cy="286.0" r="0.6" fill="#fdf1e6"/>
<circle cx="626.3" cy="284.8" r="0.6" fill="#fdf1e6"/>
<circle cx="603.3" cy="283.1" r="0.6" fill="#fdf1e6"/>
<circle cx="611.0" cy="284.8" r="0.6" fill="#fdf1e6"/>
<circle cx="595.4" cy="291.3" r="0.6" fill="#fdf1e6"/>
<circle cx="627.6" cy="282.2" r="0.6" fill="#fdf1e6"/>
<circle cx="616.3" cy="286.7" r="0.6" fill="#fdf1e6"/>
<circle cx="621.0" cy="293.2" r="0.6" fill="#fdf1e6"/>
<circle cx="595.9" cy="291.1" r="0.6" fill="#fdf1e6"/>
<circle cx="603.7" cy="287.8" r="0.6" fill="#fdf1e6"/>
<circle cx="595.7" cy="288.9" r="0.6" fill="#fdf1e6"/>
<circle cx="611.9" cy="284.6" r="0.6" fill="#fdf1e6"/>
<circle cx="622.8" cy="295.3" r="0.6" fill="#fdf1e6"/>
<circle cx="605.9" cy="287.1" r="0.6" fill="#fdf1e6"/>
<circle cx="626.6" cy="291.6" r="0.6" fill="#fdf1e6"/>
<circle cx="632.3" cy="287.0" r="0.6" fill="#fdf1e6"/>
<circle cx="612.1" cy="294.6" r="0.6" fill="#fdf1e6"/>
<circle cx="614.7" cy="295.3" r="0.6" fill="#fdf1e6"/>
<circle cx="624.6" cy="286.6" r="0.6" fill="#fdf1e6"/>
<circle cx="628.0" cy="284.2" r="0.6" fill="#fdf1e6"/>
<circle cx="616.1" cy="301.1" r="0.6" fill="#fdf1e6"/>
<circle cx="604.8" cy="284.2" r="0.6" fill="#fdf1e6"/>
<circle cx="601.6" cy="291.4" r="0.6" fill="#fdf1e6"/>
<circle cx="630.3" cy="284.8" r="0.6" fill="#fdf1e6"/>
<circle cx="609.6" cy="294.9" r="0.6" fill="#fdf1e6"/>
<circle cx="606.6" cy="291.1" r="0.6" fill="#fdf1e6"/>
<circle cx="602.9" cy="255.0" r="0.6" fill="#fdf1e6"/>
<circle cx="625.3" cy="290.4" r="0.6" fill="#fdf1e6"/>
<circle cx="611.6" cy="285.0" r="0.6" fill="#fdf1e6"/>
<circle cx="618.0" cy="296.8" r="0.6" fill="#fdf1e6"/>
<circle cx="600.5" cy="283.9" r="0.6" fill="#fdf1e6"/>
<circle cx="614.6" cy="301.4" r="0.6" fill="#fdf1e6"/>
<circle cx="624.6" cy="284.3" r="0.6" fill="#fdf1e6"/>
<circle cx="632.8" cy="276.4" r="0.6" fill="#fdf1e6"/>
<circle cx="596.4" cy="277.5" r="0.6" fill="#fdf1e6"/>
<circle cx="612.5" cy="295.2" r="0.6" fill="#fdf1e6"/>
<circle cx="602.8" cy="286.9" r="0.6" fill="#fdf1e6"/>
<circle cx="613.6" cy="293.6" r="0.6" fill="#fdf1e6"/>
<circle cx="609.5" cy="294.6" r="0.6" fill="#fdf1e6"/>
<circle cx="610.7" cy="298.2" r="0.6" fill="#fdf1e6"/>
<circle cx="596.8" cy="286.4" r="0.6" fill="#fdf1e5"/>
<circle cx="593.5" cy="286.1" r="0.6" fill="#fdf1e5"/>
<circle cx="595.5" cy="282.2" r="0.6" fill="#fdf1e5"/>
<circle cx="634.2" cy="280.7" r="0.6" fill="#fdf1e5"/>
<circle cx="596.8" cy="276.7" r="0.6" fill="#fdf1e5"/>
<circle cx="634.8" cy="283.8" r="0.6" fill="#fdf1e5"/>
<circle cx="626.0" cy="279.5" r="0.6" fill="#fdf1e5"/>
<circle cx="596.9" cy="276.4" r="0.6" fill="#fdf1e5"/>
<circle cx="625.6" cy="285.9" r="0.6" fill="#fdf1e5"/>
<circle cx="631.8" cy="274.9" r="0.6" fill="#fdf1e5"/>
<circle cx="626.6" cy="290.9" r="0.6" fill="#fdf1e5"/>
<circle cx="610.6" cy="287.6" r="0.6" fill="#fdf1e5"/>
<circle cx="596.9" cy="282.3" r="0.6" fill="#fdf1e5"/>
<circle cx="625.7" cy="285.9" r="0.6" fill="#fdf1e5"/>
<circle cx="602.1" cy="283.0" r="0.6" fill="#fdf1e5"/>
<circle cx="601.9" cy="258.7" r="0.6" fill="#fdf1e5"/>
<circle cx="632.1" cy="276.5" r="0.6" fill="#fdf1e5"/>
<circle cx="629.4" cy="285.2" r="0.6" fill="#fdf1e5"/>
<circle cx="616.5" cy="291.8" r="0.6" fill="#fdf1e5"/>
<circle cx="603.2" cy="257.4" r="0.6" fill="#fdf1e5"/>
<circle cx="592.9" cy="286.7" r="0.6" fill="#fdf1e5"/>
<circle cx="611.8" cy="288.9" r="0.6" fill="#fdf1e5"/>
<circle cx="593.4" cy="286.8" r="0.6" fill="#fdf1e5"/>
<circle cx="626.4" cy="283.6" r="0.6" fill="#fdf1e5"/>
<circle cx="620.4" cy="288.6" r="0.6" fill="#fdf1e5"/>
<circle cx="611.0" cy="291.1" r="0.6" fill="#fdf1e5"/>
<circle cx="600.7" cy="293.1" r="0.6" fill="#fdf1e5"/>
<circle cx="602.3" cy="289.4" r="0.6" fill="#fdf1e5"/>
<circle cx="603.6" cy="291.7" r="0.6" fill="#fdf1e5"/>
<circle cx="604.9" cy="289.6" r="0.6" fill="#fdf1e5"/>
<circle cx="599.0" cy="289.4" r="0.6" fill="#fdf1e5"/>
<circle cx="624.0" cy="290.3" r="0.6" fill="#fdf1e5"/>
<circle cx="633.8" cy="286.6" r="0.6" fill="#fdf1e5"/>
<circle cx="618.4" cy="283.7" r="0.6" fill="#fdf1e5"/>
<circle cx="624.2" cy="294.3" r="0.6" fill="#fdf1e5"/>
<circle cx="625.1" cy="290.8" r="0.6" fill="#fdf1e5"/>
<circle cx="625.5" cy="271.2" r="0.6" fill="#fdf1e5"/>
<circle cx="627.0" cy="275.6" r="0.6" fill="#fdf1e5"/>
<circle cx="601.4" cy="282.5" r="0.6" fill="#fdf1e5"/>
<circle cx="601.7" cy="282.8" r="0.6" fill="#fdf1e5"/>
<circle cx="623.7" cy="294.3" r="0.6" fill="#fdf1e5"/>
<circle cx="596.7" cy="291.0" r="0.6" fill="#fdf1e5"/>
<circle cx="608.1" cy="290.2" r="0.6" fill="#fdf1e5"/>
<circle cx="627.3" cy="287.8" r="0.6" fill="#fdf1e5"/>
<circle cx="607.1" cy="285.4" r="0.6" fill="#fdf1e5"/>
<circle cx="596.2" cy="287.5" r="0.6" fill="#fdf1e5"/>
<circle cx="625.3" cy="289.2" r="0.6" fill="#fdf1e5"/>
<circle cx="609.0" cy="291.3" r="0.6" fill="#fdf1e5"/>
<circle cx="626.1" cy="269.8" r="0.6" fill="#fdf1e5"/>
<circle cx="599.7" cy="288.4" r="0.6" fill="#fdf1e5"/>
<circle cx="616.5" cy="300.4" r="0.6" fill="#fdf1e5"/>
<circle cx="619.6" cy="296.7" r="0.6" fill="#fdf1e5"/>
<circle cx="622.5" cy="289.2" r="0.6" fill="#fdf1e5"/>
<circle cx="599.7" cy="284.7" r="0.6" fill="#fdf1e5"/>
<circle cx="593.8" cy="281.7" r="0.6" fill="#fdf1e5"/>
<circle cx="630.1" cy="287.7" r="0.6" fill="#fdf1e5"/>
<circle cx="615.3" cy="287.1" r="0.6" fill="#fdf1e5"/>
<circle cx="625.4" cy="289.6" r="0.6" fill="#fdf1e5"/>
<circle cx="608.2" cy="290.2" r="0.6" fill="#fdf1e5"/>
<circle cx="618.6" cy="298.8" r="0.6" fill="#fdf1e4"/>
<circle cx="610.8" cy="288.4" r="0.6" fill="#fdf1e4"/>
<circle cx="611.3" cy="285.7" r="0.6" fill="#fdf1e4"/>
<circle cx="609.4" cy="290.7" r="0.6" fill="#fdf1e4"/>
<circle cx="623.9" cy="284.0" r="0.6" fill="#fdf1e4"/>
<circle cx="606.0" cy="286.3" r="0.6" fill="#fdf1e4"/>
<circle cx="628.4" cy="286.9" r="0.6" fill="#fdf1e4"/>
<circle cx="617.3" cy="297.9" r="0.6" fill="#fdf1e4"/>
<circle cx="612.7" cy="295.3" r="0.6" fill="#fdf1e4"/>
<circle cx="597.4" cy="284.5" r="0.6" fill="#fdf0e4"/>
<circle cx="604.6" cy="284.2" r="0.6" fill="#fdf0e4"/>
<circle cx="625.4" cy="290.2" r="0.6" fill="#fdf0e4"/>
<circle cx="614.7" cy="300.5" r="0.6" fill="#fdf0e4"/>
<circle cx="601.8" cy="286.0" r="0.6" fill="#fdf0e4"/>
<circle cx="626.3" cy="283.5" r="0.6" fill="#fdf0e4"/>
<circle cx="602.2" cy="282.4" r="0.6" fill="#fdf0e4"/>
<circle cx="598.1" cy="287.4" r="0.6" fill="#fdf0e4"/>
<circle cx="613.9" cy="286.7" r="0.6" fill="#fdf0e4"/>
<circle cx="626.1" cy="278.0" r="0.6" fill="#fdf0e4"/>
<circle cx="608.6" cy="286.5" r="0.6" fill="#fdf0e4"/>
<circle cx="596.5" cy="292.0" r="0.6" fill="#fdf0e4"/>
<circle cx="633.4" cy="285.4" r="0.6" fill="#fdf0e4"/>
<circle cx="603.9" cy="282.6" r="0.6" fill="#fdf0e4"/>
<circle cx="613.0" cy="299.2" r="0.6" fill="#fdf0e4"/>
<circle cx="619.4" cy="285.5" r="0.6" fill="#fdf0e4"/>
<circle cx="620.4" cy="286.2" r="0.6" fill="#fdf0e4"/>
<circle cx="617.1" cy="294.2" r="0.6" fill="#fdf0e4"/>
<circle cx="614.5" cy="295.5" r="0.6" fill="#fdf0e4"/>
<circle cx="597.5" cy="290.4" r="0.6" fill="#fdf0e4"/>
<circle cx="634.0" cy="278.8" r="0.6" fill="#fdf0e4"/>
<circle cx="615.5" cy="287.0" r="0.6" fill="#fdf0e4"/>
<circle cx="621.9" cy="298.2" r="0.6" fill="#fdf0e4"/>
<circle cx="609.2" cy="285.3" r="0.6" fill="#fdf0e4"/>
<circle cx="617.6" cy="299.6" r="0.6" fill="#fdf0e4"/>
<circle cx="616.1" cy="288.4" r="0.6" fill="#fdf0e4"/>
<circle cx="607.8" cy="291.2" r="0.6" fill="#fdf0e4"/>
<circle cx="595.4" cy="288.4" r="0.6" fill="#fdf0e4"/>
<circle cx="625.4" cy="288.0" r="0.6" fill="#fdf0e4"/>
<circle cx="605.6" cy="283.7" r="0.6" fill="#fdf0e4"/>
<circle cx="620.4" cy="286.9" r="0.6" fill="#fdf0e4"/>
<circle cx="593.3" cy="286.1" r="0.6" fill="#fdf0e4"/>
<circle cx="594.2" cy="285.2" r="0.6" fill="#fdf0e4"/>
<circle cx="599.4" cy="283.4" r="0.6" fill="#fdf0e4"/>
<circle cx="619.5" cy="284.2" r="0.6" fill="#fdf0e4"/>
<circle cx="623.9" cy="286.6" r="0.6" fill="#fdf0e4"/>
<circle cx="628.2" cy="287.7" r="0.6" fill="#fdf0e4"/>
<circle cx="607.7" cy="290.6" r="0.6" fill="#fdf0e4"/>
<circle cx="610.2" cy="289.0" r="0.6" fill="#fdf0e4"/>
<circle cx="608.1" cy="287.9" r="0.6" fill="#fdf0e4"/>
<circle cx="600.2" cy="283.8" r="0.6" fill="#fdf0e4"/>
<circle cx="613.8" cy="295.0" r="0.6" fill="#fdf0e4"/>
<circle cx="604.5" cy="284.0" r="0.6" fill="#fdf0e4"/>
<circle cx="594.1" cy="286.3" r="0.6" fill="#fdf0e4"/>
<circle cx="628.5" cy="287.3" r="0.6" fill="#fdf0e4"/>
<circle cx="617.1" cy="286.6" r="0.6" fill="#fdf0e4"/>
<circle cx="620.3" cy="284.8" r="0.6" fill="#fdf0e4"/>
<circle cx="610.0" cy="292.8" r="0.6" fill="#fdf0e4"/>
<circle cx="596.3" cy="290.7" r="0.6" fill="#fdf0e4"/>
<circle cx="624.8" cy="270.4" r="0.6" fill="#fdf0e4"/>
<circle cx="601.3" cy="287.9" r="0.6" fill="#fdf0e4"/>
<circle cx="612.7" cy="288.4" r="0.6" fill="#fdf0e3"/>
<circle cx="629.3" cy="284.9" r="0.6" fill="#fdf0e3"/>
<circle cx="613.9" cy="284.5" r="0.6" fill="#fdf0e3"/>
<circle cx="609.7" cy="288.1" r="0.6" fill="#fdf0e3"/>
<circle cx="624.3" cy="285.8" r="0.6" fill="#fdf0e3"/>
<circle cx="625.6" cy="288.3" r="0.6" fill="#fdf0e3"/>
<circle cx="627.3" cy="276.5" r="0.6" fill="#fdf0e3"/>
<circle cx="616.8" cy="286.9" r="0.6" fill="#fdf0e3"/>
<circle cx="593.0" cy="284.0" r="0.6" fill="#fdf0e3"/>
<circle cx="618.5" cy="287.3" r="0.6" fill="#fdf0e3"/>
<circle cx="634.6" cy="285.9" r="0.6" fill="#fdf0e3"/>
<circle cx="617.8" cy="292.4" r="0.6" fill="#fdf0e3"/>
<circle cx="626.2" cy="286.1" r="0.6" fill="#fdf0e3"/>
<circle cx="608.1" cy="285.5" r="0.6" fill="#fdf0e3"/>
<circle cx="599.4" cy="292.5" r="0.6" fill="#fdf0e3"/>
<circle cx="594.9" cy="281.2" r="0.6" fill="#fdf0e3"/>
<circle cx="633.7" cy="280.8" r="0.6" fill="#fdf0e3"/>
<circle cx="595.7" cy="284.1" r="0.6" fill="#fdf0e3"/>
<circle cx="597.1" cy="292.6" r="0.6" fill="#fdf0e3"/>
<circle cx="627.9" cy="282.5" r="0.6" fill="#fdf0e3"/>
<circle cx="627.7" cy="274.4" r="0.6" fill="#fdf0e3"/>
<circle cx="596.5" cy="281.8" r="0.6" fill="#fdf0e3"/>
<circle cx="625.2" cy="272.3" r="0.6" fill="#fdf0e3"/>
<circle cx="618.0" cy="297.5" r="0.6" fill="#fdf0e3"/>
<circle cx="607.9" cy="290.2" r="0.6" fill="#fdf0e3"/>
<circle cx="601.7" cy="283.8" r="0.6" fill="#fdf0e3"/>
<circle cx="602.9" cy="257.3" r="0.6" fill="#fdf0e3"/>
<circle cx="626.3" cy="286.8" r="0.6" fill="#fdf0e3"/>
<circle cx="602.3" cy="290.0" r="0.6" fill="#fdf0e3"/>
<circle cx="624.7" cy="291.2" r="0.6" fill="#fdf0e3"/>
<circle cx="609.2" cy="288.3" r="0.6" fill="#fdf0e3"/>
<circle cx="615.1" cy="294.1" r="0.6" fill="#fdf0e3"/>
<circle cx="620.0" cy="298.1" r="0.6" fill="#fdf0e3"/>
<circle cx="598.5" cy="287.7" r="0.6" fill="#fdf0e3"/>
<circle cx="595.1" cy="289.1" r="0.6" fill="#fdf0e3"/>
<circle cx="612.6" cy="287.7" r="0.6" fill="#fdf0e3"/>
<circle cx="604.0" cy="283.7" r="0.6" fill="#fdf0e3"/>
<circle cx="607.3" cy="291.9" r="0.6" fill="#fdf0e3"/>
<circle cx="628.3" cy="286.6" r="0.6" fill="#fdf0e3"/>
<circle cx="609.4" cy="289.1" r="0.6" fill="#fdf0e3"/>
<circle cx="600.4" cy="284.4" r="0.6" fill="#fdf0e3"/>
<circle cx="633.7" cy="287.4" r="0.6" fill="#fdf0e3"/>
<circle cx="613.9" cy="295.5" r="0.6" fill="#fdf0e3"/>
<circle cx="622.7" cy="289.8" r="0.6" fill="#fdf0e3"/>
<circle cx="625.6" cy="288.4" r="0.6" fill="#fdf0e3"/>
<circle cx="608.0" cy="287.7" r="0.6" fill="#fdf0e3"/>
<circle cx="621.4" cy="287.6" r="0.6" fill="#fdf0e3"/>
<circle cx="618.7" cy="302.3" r="0.6" fill="#fdf0e3"/>
<circle cx="601.7" cy="260.1" r="0.6" fill="#fdf0e3"/>
<circle cx="619.9" cy="299.1" r="0.6" fill="#fdf0e3"/>
<circle cx="604.4" cy="283.9" r="0.6" fill="#fdf0e2"/>
<circle cx="597.0" cy="285.3" r="0.6" fill="#fdf0e2"/>
<circle cx="632.3" cy="285.3" r="0.6" fill="#fdf0e2"/>
<circle cx="625.4" cy="272.5" r="0.6" fill="#fdf0e2"/>
<circle cx="621.6" cy="294.3" r="0.6" fill="#fdf0e2"/>
<circle cx="621.2" cy="286.0" r="0.6" fill="#fdf0e2"/>
<circle cx="615.4" cy="298.6" r="0.6" fill="#fdf0e2"/>
<circle cx="618.5" cy="285.4" r="0.6" fill="#fdf0e2"/>
<circle cx="623.1" cy="290.5" r="0.6" fill="#fdf0e2"/>
<circle cx="622.7" cy="287.6" r="0.6" fill="#fdf0e2"/>
<circle cx="593.8" cy="285.8" r="0.6" fill="#fdefe2"/>
<circle cx="627.3" cy="284.2" r="0.6" fill="#fdefe2"/>
<circle cx="632.5" cy="272.5" r="0.6" fill="#fdefe2"/>
<circle cx="621.3" cy="300.4" r="0.6" fill="#fdefe2"/>
<circle cx="606.1" cy="285.5" r="0.6" fill="#fdefe2"/>
<circle cx="604.1" cy="286.8" r="0.6" fill="#fdefe2"/>
<circle cx="614.8" cy="285.3" r="0.6" fill="#fdefe2"/>
<circle cx="617.2" cy="293.4" r="0.6" fill="#fdefe2"/>
<circle cx="611.9" cy="289.8" r="0.6" fill="#fdefe2"/>
<circle cx="601.3" cy="258.4" r="0.6" fill="#fdefe2"/>
<circle cx="614.3" cy="290.9" r="0.6" fill="#fdefe2"/>
<circle cx="601.7" cy="258.3" r="0.6" fill="#fdefe2"/>
<circle cx="626.8" cy="285.1" r="0.6" fill="#fdefe2"/>
<circle cx="629.5" cy="285.4" r="0.6" fill="#fdefe2"/>
<circle cx="595.8" cy="283.6" r="0.6" fill="#fdefe2"/>
<circle cx="613.1" cy="297.1" r="0.6" fill="#fdefe2"/>
<circle cx="602.2" cy="284.3" r="0.6" fill="#fdefe2"/>
<circle cx="632.8" cy="284.3" r="0.6" fill="#fdefe2"/>
<circle cx="617.1" cy="292.7" r="0.6" fill="#fdefe2"/>
<circle cx="607.7" cy="286.1" r="0.6" fill="#fdefe1"/>
<circle cx="620.0" cy="301.2" r="0.6" fill="#fdefe1"/>
<circle cx="596.8" cy="276.4" r="0.6" fill="#fdefe1"/>
<circle cx="597.4" cy="286.6" r="0.6" fill="#fdefe1"/>
<circle cx="618.5" cy="295.5" r="0.6" fill="#fdefe1"/>
<circle cx="620.0" cy="298.3" r="0.6" fill="#fdefe1"/>
<circle cx="603.1" cy="281.1" r="0.6" fill="#fdefe1"/>
<circle cx="595.7" cy="290.8" r="0.6" fill="#fdefe1"/>
<circle cx="623.9" cy="296.5" r="0.6" fill="#fdefe1"/>
<circle cx="601.8" cy="287.6" r="0.6" fill="#fdefe1"/>
<circle cx="629.9" cy="287.2" r="0.6" fill="#fdefe1"/>
<circle cx="598.1" cy="276.5" r="0.6" fill="#fdefe1"/>
<circle cx="626.4" cy="282.8" r="0.6" fill="#fdefe1"/>
<circle cx="625.0" cy="293.5" r="0.6" fill="#fdefe1"/>
<circle cx="597.2" cy="282.2" r="0.6" fill="#fdefe1"/>
<circle cx="633.0" cy="279.4" r="0.6" fill="#fdefe1"/>
<circle cx="618.4" cy="287.8" r="0.6" fill="#fdefe1"/>
<circle cx="632.0" cy="271.9" r="0.6" fill="#fdefe1"/>
<circle cx="601.5" cy="259.0" r="0.6" fill="#fdefe1"/>
<circle cx="593.8" cy="286.3" r="0.6" fill="#fdefe1"/>
<circle cx="610.5" cy="294.4" r="0.6" fill="#fdefe1"/>
<circle cx="633.0" cy="278.0" r="0.6" fill="#fdefe1"/>
<circle cx="598.5" cy="291.1" r="0.6" fill="#fdefe1"/>
<circle cx="618.1" cy="293.8" r="0.6" fill="#fdefe1"/>
<circle cx="614.8" cy="298.4" r="0.6" fill="#fdefe1"/>
<circle cx="609.7" cy="286.8" r="0.6" fill="#fdefe1"/>
<circle cx="629.5" cy="283.0" r="0.6" fill="#fdefe1"/>
<circle cx="628.2" cy="277.3" r="0.6" fill="#fdefe1"/>
<circle cx="623.1" cy="291.9" r="0.6" fill="#fdefe1"/>
<circle cx="611.4" cy="286.3" r="0.6" fill="#fdefe1"/>
<circle cx="625.0" cy="292.3" r="0.6" fill="#fdefe1"/>
<circle cx="605.9" cy="284.7" r="0.6" fill="#fdefe1"/>
<circle cx="626.4" cy="281.7" r="0.6" fill="#fdefe1"/>
<circle cx="631.4" cy="283.2" r="0.6" fill="#fdefe1"/>
<circle cx="614.2" cy="287.6" r="0.6" fill="#fdefe1"/>
<circle cx="626.2" cy="276.9" r="0.6" fill="#fdefe1"/>
<circle cx="612.5" cy="295.3" r="0.6" fill="#fdefe1"/>
<circle cx="598.6" cy="281.0" r="0.6" fill="#fdefe1"/>
<circle cx="592.5" cy="284.7" r="0.6" fill="#fdefe1"/>
<circle cx="609.8" cy="297.4" r="0.6" fill="#fdefe1"/>
<circle cx="625.2" cy="273.5" r="0.6" fill="#fdefe1"/>
<circle cx="626.9" cy="287.3" r="0.6" fill="#fdefe1"/>
<circle cx="629.2" cy="285.1" r="0.6" fill="#fdefe1"/>
<circle cx="620.4" cy="298.0" r="0.6" fill="#fdefe1"/>
<circle cx="620.2" cy="284.8" r="0.6" fill="#fdefe1"/>
<circle cx="598.8" cy="283.7" r="0.6" fill="#fdefe1"/>
<circle cx="623.2" cy="289.3" r="0.6" fill="#fdefe0"/>
<circle cx="627.9" cy="289.6" r="0.6" fill="#fdefe0"/>
<circle cx="609.1" cy="293.6" r="0.6" fill="#fdefe0"/>
<circle cx="605.2" cy="284.3" r="0.6" fill="#fdefe0"/>
<circle cx="611.5" cy="288.8" r="0.6" fill="#fdefe0"/>
<circle cx="594.3" cy="286.9" r="0.6" fill="#fdefe0"/>
<circle cx="632.9" cy="282.8" r="0.6" fill="#fdefe0"/>
<circle cx="595.6" cy="288.4" r="0.6" fill="#fdefe0"/>
<circle cx="610.5" cy="287.4" r="0.6" fill="#fdefe0"/>
<circle cx="625.9" cy="285.2" r="0.6" fill="#fdefe0"/>
<circle cx="616.1" cy="301.1" r="0.6" fill="#fdefe0"/>
<circle cx="630.5" cy="286.2" r="0.6" fill="#fdefe0"/>
<circle cx="601.3" cy="283.2" r="0.6" fill="#fdefe0"/>
<circle cx="605.8" cy="286.4" r="0.6" fill="#fdefe0"/>
<circle cx="617.8" cy="300.6" r="0.6" fill="#fdefe0"/>
<circle cx="625.8" cy="291.4" r="0.6" fill="#fdefe0"/>
<circle cx="595.7" cy="289.0" r="0.6" fill="#fdefe0"/>
<circle cx="606.0" cy="292.5" r="0.6" fill="#fdefe0"/>
<circle cx="613.2" cy="295.6" r="0.6" fill="#fdefe0"/>
<circle cx="619.0" cy="285.4" r="0.6" fill="#fdefe0"/>
<circle cx="617.1" cy="287.7" r="0.6" fill="#fdefe0"/>
<circle cx="598.9" cy="288.3" r="0.6" fill="#fdefe0"/>
<circle cx="595.5" cy="278.9" r="0.6" fill="#fdefe0"/>
<circle cx="609.7" cy="289.4" r="0.6" fill="#fdefe0"/>
<circle cx="610.0" cy="290.3" r="0.6" fill="#fdeee0"/>
<circle cx="601.9" cy="256.3" r="0.6" fill="#fdeee0"/>
<circle cx="608.3" cy="291.0" r="0.6" fill="#fdeee0"/>
<circle cx="606.6" cy="287.8" r="0.6" fill="#fdeee0"/>
<circle cx="601.9" cy="256.6" r="0.6" fill="#fdeee0"/>
<circle cx="600.8" cy="283.1" r="0.6" fill="#fdeee0"/>
<circle cx="600.8" cy="290.2" r="0.6" fill="#fdeee0"/>
<circle cx="633.1" cy="285.4" r="0.6" fill="#fdeee0"/>
<circle cx="607.3" cy="291.6" r="0.6" fill="#fdeee0"/>
<circle cx="624.6" cy="287.3" r="0.6" fill="#fdeee0"/>
<circle cx="619.0" cy="283.5" r="0.6" fill="#fdeee0"/>
<circle cx="596.0" cy="287.6" r="0.6" fill="#fdeee0"/>
<circle cx="628.0" cy="283.7" r="0.6" fill="#fdeee0"/>
<circle cx="625.3" cy="273.9" r="0.6" fill="#fdeee0"/>
<circle cx="609.6" cy="289.7" r="0.6" fill="#fdeedf"/>
<circle cx="634.7" cy="282.7" r="0.6" fill="#fdeedf"/>
<circle cx="604.2" cy="291.9" r="0.6" fill="#fdeedf"/>
<circle cx="604.3" cy="289.6" r="0.6" fill="#fdeedf"/>
<circle cx="602.2" cy="292.2" r="0.6" fill="#fdeedf"/>
<circle cx="612.6" cy="289.7" r="0.6" fill="#fdeedf"/>
<circle cx="601.2" cy="282.5" r="0.6" fill="#fdeedf"/>
<circle cx="605.0" cy="290.4" r="0.6" fill="#fdeedf"/>
<circle cx="622.5" cy="298.9" r="0.6" fill="#fdeedf"/>
<circle cx="605.0" cy="284.8" r="0.6" fill="#fdeedf"/>
<circle cx="615.5" cy="300.4" r="0.6" fill="#fdeedf"/>
<circle cx="621.0" cy="299.7" r="0.6" fill="#fdeedf"/>
<circle cx="616.1" cy="286.3" r="0.6" fill="#fdeedf"/>
<circle cx="618.8" cy="299.2" r="0.6" fill="#fdeedf"/>
<circle cx="612.5" cy="295.8" r="0.6" fill="#fdeedf"/>
<circle cx="625.7" cy="292.0" r="0.6" fill="#fdeedf"/>
<circle cx="626.5" cy="285.6" r="0.6" fill="#fdeedf"/>
<circle cx="616.1" cy="287.8" r="0.6" fill="#fdeedf"/>
<circle cx="597.3" cy="281.6" r="0.6" fill="#fdeedf"/>
<circle cx="599.4" cy="281.3" r="0.6" fill="#fdeedf"/>
<circle cx="612.0" cy="286.5" r="0.6" fill="#fdeedf"/>
<circle cx="603.1" cy="291.6" r="0.6" fill="#fdeede"/>
<circle cx="599.1" cy="282.6" r="0.6" fill="#fdeede"/>
<circle cx="595.8" cy="284.9" r="0.6" fill="#fdeede"/>
<circle cx="603.9" cy="255.7" r="0.6" fill="#fdeede"/>
<circle cx="621.8" cy="296.3" r="0.6" fill="#fdeede"/>
<circle cx="603.8" cy="284.0" r="0.6" fill="#fdeede"/>
<circle cx="626.5" cy="270.4" r="0.6" fill="#fdeede"/>
<circle cx="595.4" cy="283.5" r="0.6" fill="#fdeede"/>
<circle cx="629.0" cy="285.1" r="0.6" fill="#fdeede"/>
<circle cx="611.2" cy="284.7" r="0.6" fill="#fdeede"/>
<circle cx="609.4" cy="292.3" r="0.6" fill="#fdeede"/>
<circle cx="621.3" cy="300.0" r="0.6" fill="#fdeede"/>
<circle cx="602.2" cy="285.9" r="0.6" fill="#fdeede"/>
<circle cx="632.4" cy="284.7" r="0.6" fill="#fdedde"/>
<circle cx="599.3" cy="287.7" r="0.6" fill="#fdedde"/>
<circle cx="600.8" cy="287.7" r="0.6" fill="#fdedde"/>
<circle cx="594.9" cy="286.6" r="0.6" fill="#fdedde"/>
<circle cx="626.0" cy="273.0" r="0.6" fill="#fdedde"/>
<circle cx="623.3" cy="290.5" r="0.6" fill="#fdedde"/>
<circle cx="625.1" cy="275.0" r="0.6" fill="#fdedde"/>
<circle cx="603.8" cy="284.9" r="0.6" fill="#fdeddd"/>
<circle cx="632.7" cy="276.7" r="0.6" fill="#fdeddd"/>
<circle cx="625.1" cy="293.6" r="0.6" fill="#fdeddd"/>
<circle cx="628.2" cy="282.1" r="0.6" fill="#fdeddd"/>
<circle cx="632.2" cy="277.4" r="0.6" fill="#fdeddd"/>
<circle cx="595.7" cy="286.7" r="0.6" fill="#fdeddd"/>
<circle cx="608.4" cy="287.2" r="0.6" fill="#fdeddd"/>
<circle cx="605.8" cy="285.5" r="0.6" fill="#fdeddd"/>
<circle cx="627.6" cy="287.3" r="0.6" fill="#fdeddd"/>
<circle cx="626.4" cy="284.4" r="0.6" fill="#fdeddd"/>
<circle cx="618.6" cy="301.3" r="0.6" fill="#fdeddd"/>
<circle cx="601.4" cy="291.4" r="0.6" fill="#fdeddd"/>
<circle cx="626.6" cy="280.5" r="0.6" fill="#fdeddd"/>
<circle cx="625.2" cy="286.7" r="0.6" fill="#fdeddd"/>
<circle cx="633.6" cy="274.9" r="0.6" fill="#fdeddd"/>
<circle cx="612.1" cy="291.3" r="0.6" fill="#fdeddd"/>
<circle cx="603.3" cy="283.1" r="0.6" fill="#fdeddd"/>
<circle cx="601.6" cy="260.1" r="0.6" fill="#fdeddd"/>
<circle cx="634.2" cy="276.8" r="0.6" fill="#fdeddd"/>
<circle cx="596.9" cy="288.3" r="0.6" fill="#fdeddd"/>
<circle cx="626.7" cy="273.6" r="0.6" fill="#fdeddd"/>
<circle cx="598.4" cy="282.8" r="0.6" fill="#fdeddd"/>
<circle cx="620.3" cy="298.1" r="0.6" fill="#fdeddd"/>
<circle cx="613.0" cy="300.1" r="0.6" fill="#fdeddc"/>
<circle cx="621.7" cy="285.1" r="0.6" fill="#fdeddc"/>
<circle cx="598.0" cy="285.3" r="0.6" fill="#fdeddc"/>
<circle cx="616.5" cy="296.2" r="0.6" fill="#fdeddc"/>
<circle cx="613.1" cy="298.7" r="0.6" fill="#fdeddc"/>
<circle cx="596.1" cy="285.6" r="0.6" fill="#fdeddc"/>
<circle cx="625.4" cy="293.1" r="0.6" fill="#fdeddc"/>
<circle cx="629.0" cy="287.0" r="0.6" fill="#fdeddc"/>
<circle cx="620.3" cy="288.2" r="0.6" fill="#fdeddc"/>
<circle cx="622.1" cy="284.0" r="0.6" fill="#fdeddc"/>
<circle cx="619.2" cy="285.6" r="0.6" fill="#fdeddc"/>
<circle cx="600.1" cy="292.5" r="0.6" fill="#fdeddc"/>
<circle cx="632.9" cy="278.0" r="0.6" fill="#fdecdb"/>
<circle cx="633.1" cy="280.9" r="0.6" fill="#fdecdb"/>
<circle cx="595.3" cy="287.4" r="0.6" fill="#fdecdb"/>
<circle cx="625.7" cy="291.3" r="0.6" fill="#fdecdb"/>
<circle cx="628.0" cy="285.5" r="0.6" fill="#fdecdb"/>
<circle cx="633.9" cy="286.6" r="0.6" fill="#fdecdb"/>
<circle cx="598.0" cy="282.4" r="0.6" fill="#fdecdb"/>
<circle cx="632.8" cy="282.4" r="0.6" fill="#fdecdb"/>
<circle cx="604.0" cy="285.3" r="0.6" fill="#fdecdb"/>
<circle cx="597.5" cy="288.6" r="0.6" fill="#fdecda"/>
<circle cx="614.7" cy="285.3" r="0.6" fill="#fdecda"/>
<circle cx="619.2" cy="287.5" r="0.6" fill="#fdecda"/>
<circle cx="633.0" cy="279.6" r="0.6" fill="#fdecda"/>
<circle cx="621.5" cy="285.3" r="0.6" fill="#fdecda"/>
<circle cx="624.1" cy="283.7" r="0.6" fill="#fdecda"/>
<circle cx="607.2" cy="292.5" r="0.6" fill="#fdecda"/>
<circle cx="619.2" cy="299.3" r="0.6" fill="#fdecda"/>
<circle cx="606.7" cy="282.4" r="0.6" fill="#fdecda"/>
<circle cx="623.6" cy="291.5" r="0.6" fill="#fdecda"/>
<circle cx="593.8" cy="288.0" r="0.6" fill="#fdecda"/>
<circle cx="606.9" cy="291.7" r="0.6" fill="#fdecd9"/>
<circle cx="624.2" cy="288.8" r="0.6" fill="#fdecd9"/>
<circle cx="614.8" cy="284.0" r="0.6" fill="#fdebd9"/>
<circle cx="627.8" cy="282.7" r="0.6" fill="#fdebd9"/>
<circle cx="631.7" cy="272.4" r="0.6" fill="#fdebd9"/>
<circle cx="620.4" cy="296.6" r="0.6" fill="#fdebd8"/>
<circle cx="609.9" cy="286.3" r="0.6" fill="#fdebd8"/>
<circle cx="625.5" cy="287.9" r="0.6" fill="#fdebd8"/>
<circle cx="594.7" cy="283.3" r="0.6" fill="#fdebd8"/>
<circle cx="635.1" cy="279.1" r="0.6" fill="#fdebd8"/>
<circle cx="616.9" cy="297.4" r="0.6" fill="#fdebd7"/>
<circle cx="602.1" cy="283.1" r="0.6" fill="#fdead7"/>
<circle cx="634.7" cy="283.9" r="0.6" fill="#fdead7"/>
<circle cx="622.6" cy="294.3" r="0.6" fill="#fdead6"/>
<circle cx="626.7" cy="283.1" r="0.6" fill="#fdead6"/>
<circle cx="614.8" cy="284.0" r="0.6" fill="#fdead6"/>
<circle cx="616.6" cy="296.2" r="0.6" fill="#fdead6"/>
<circle cx="617.0" cy="285.3" r="0.6" fill="#fdead6"/>
<circle cx="620.7" cy="297.6" r="0.6" fill="#fdead5"/>
<circle cx="623.2" cy="295.6" r="0.6" fill="#fde9d4"/>
<circle cx="628.1" cy="285.0" r="0.6" fill="#fde9d4"/>
<circle cx="626.5" cy="291.3" r="0.6" fill="#fde9d4"/>
<circle cx="628.3" cy="285.8" r="0.6" fill="#fde9d3"/>
<circle cx="610.6" cy="294.9" r="0.6" fill="#fde9d3"/>
<circle cx="631.9" cy="275.5" r="0.6" fill="#fde9d3"/>
<circle cx="615.5" cy="286.2" r="0.6" fill="#fde9d3"/>
<circle cx="595.0" cy="289.0" r="0.6" fill="#fde8d2"/>
<circle cx="624.9" cy="269.8" r="0.6" fill="#fde8d2"/>
<circle cx="623.1" cy="293.8" r="0.6" fill="#fde8d2"/>
<circle cx="634.2" cy="279.9" r="0.6" fill="#fde8d1"/>
<circle cx="632.1" cy="286.9" r="0.6" fill="#fde8d1"/>
<circle cx="623.1" cy="286.7" r="0.6" fill="#f9a66a"/>
<circle cx="626.3" cy="283.7" r="0.6" fill="#f9a669"/>
<circle cx="623.6" cy="295.1" r="0.6" fill="#f9a669"/>
<circle cx="624.6" cy="294.8" r="0.6" fill="#f9a467"/>
<circle cx="620.4" cy="299.5" r="0.6" fill="#f9a264"/>
<circle cx="621.3" cy="291.6" r="0.6" fill="#f9a164"/>
<circle cx="621.5" cy="294.3" r="0.6" fill="#f9a062"/>
<circle cx="620.4" cy="294.5" r="0.6" fill="#f99d60"/>
<circle cx="627.0" cy="291.4" r="0.6" fill="#f89b5f"/>
<circle cx="621.5" cy="293.1" r="0.6" fill="#f89a5f"/>
<circle cx="622.0" cy="296.7" r="0.6" fill="#f8995e"/>
<circle cx="623.1" cy="290.0" r="0.6" fill="#f7945b"/>
<circle cx="626.5" cy="289.2" r="0.6" fill="#f68f59"/>
<circle cx="623.8" cy="291.7" r="0.6" fill="#f68e58"/>
<circle cx="622.9" cy="287.6" r="0.6" fill="#f68855"/>
<circle cx="620.6" cy="293.6" r="0.6" fill="#f58755"/>
<circle cx="620.7" cy="301.5" r="0.6" fill="#f58453"/>
<circle cx="624.7" cy="291.8" r="0.6" fill="#f58453"/>
<circle cx="621.7" cy="294.6" r="0.6" fill="#f58352"/>
<circle cx="627.9" cy="284.4" r="0.6" fill="#f47f50"/>
<circle cx="622.2" cy="297.7" r="0.6" fill="#f47b4e"/>
<circle cx="625.6" cy="293.1" r="0.6" fill="#f37a4d"/>
<circle cx="626.1" cy="288.6" r="0.6" fill="#f3774c"/>
<circle cx="624.4" cy="293.4" r="0.6" fill="#f3754b"/>
<circle cx="628.6" cy="284.0" r="0.6" fill="#f27048"/>
<circle cx="628.4" cy="288.2" r="0.6" fill="#f27048"/>
<circle cx="625.8" cy="292.9" r="0.6" fill="#f16e49"/>
<circle cx="624.3" cy="289.7" r="0.6" fill="#f16d49"/>
<circle cx="626.4" cy="286.8" r="0.6" fill="#f06b4a"/>
<circle cx="618.4" cy="299.5" r="0.6" fill="#f06a4a"/>
<circle cx="618.2" cy="300.6" r="0.6" fill="#ef694a"/>
<circle cx="626.9" cy="288.4" r="0.6" fill="#ee674b"/>
<circle cx="624.0" cy="295.8" r="0.6" fill="#ee674b"/>
<circle cx="621.4" cy="293.0" r="0.6" fill="#ed644b"/>
<circle cx="623.0" cy="292.5" r="0.6" fill="#ec624c"/>
<circle cx="631.6" cy="283.2" r="0.6" fill="#ea5c4e"/>
<circle cx="634.4" cy="275.1" r="0.6" fill="#ea5b4e"/>
<circle cx="626.0" cy="278.0" r="0.6" fill="#e95b4e"/>
<circle cx="633.0" cy="287.6" r="0.6" fill="#e95a4e"/>
<circle cx="630.8" cy="283.1" r="0.6" fill="#e95a4f"/>
<circle cx="633.9" cy="284.0" r="0.6" fill="#e95a4f"/>
<circle cx="634.2" cy="277.6" r="0.6" fill="#e8584f"/>
<circle cx="628.3" cy="283.0" r="0.6" fill="#e8584f"/>
<circle cx="624.3" cy="295.1" r="0.6" fill="#e8574f"/>
<circle cx="624.8" cy="273.0" r="0.6" fill="#e75550"/>
<circle cx="628.1" cy="286.8" r="0.6" fill="#e75450"/>
<circle cx="624.0" cy="295.7" r="0.6" fill="#e65351"/>
<circle cx="633.8" cy="282.2" r="0.6" fill="#e65351"/>
<circle cx="618.9" cy="302.1" r="0.6" fill="#e55151"/>
<circle cx="622.8" cy="289.1" r="0.6" fill="#e44f52"/>
<circle cx="628.4" cy="282.5" r="0.6" fill="#e44d52"/>
<circle cx="628.5" cy="284.9" r="0.6" fill="#e44d52"/>
<circle cx="634.0" cy="276.5" r="0.6" fill="#e34c53"/>
<circle cx="628.7" cy="286.1" r="0.6" fill="#e34b53"/>
<circle cx="630.5" cy="286.7" r="0.6" fill="#e24a53"/>
<circle cx="634.8" cy="282.4" r="0.6" fill="#e24a53"/>
<circle cx="626.0" cy="282.2" r="0.6" fill="#e24953"/>
<circle cx="632.9" cy="281.7" r="0.6" fill="#e14754"/>
<circle cx="626.3" cy="276.5" r="0.6" fill="#e04455"/>
<circle cx="628.3" cy="286.4" r="0.6" fill="#df4156"/>
<circle cx="626.8" cy="282.7" r="0.6" fill="#dd3d57"/>
<circle cx="631.9" cy="277.1" r="0.6" fill="#dd3c57"/>
<circle cx="626.8" cy="279.9" r="0.6" fill="#dd3c58"/>
<circle cx="633.3" cy="284.8" r="0.6" fill="#db3958"/>
<circle cx="632.7" cy="284.7" r="0.6" fill="#da3859"/>
<circle cx="629.2" cy="286.0" r="0.6" fill="#d8365a"/>
<circle cx="627.2" cy="278.4" r="0.6" fill="#d5345b"/>
<circle cx="630.0" cy="282.2" r="0.6" fill="#d4345b"/>
<circle cx="625.7" cy="273.0" r="0.6" fill="#d4335c"/>
<circle cx="630.3" cy="286.2" r="0.6" fill="#d1315d"/>
<circle cx="633.1" cy="275.2" r="0.6" fill="#d1315d"/>
<circle cx="631.7" cy="284.4" r="0.6" fill="#ce2e5e"/>
<circle cx="625.9" cy="275.7" r="0.6" fill="#cc2d5f"/>
<circle cx="634.2" cy="271.3" r="0.6" fill="#cc2d5f"/>
<circle cx="634.3" cy="278.8" r="0.6" fill="#c92b60"/>
<circle cx="626.8" cy="274.8" r="0.6" fill="#c82a61"/>
<circle cx="634.2" cy="284.8" r="0.6" fill="#c62862"/>
<circle cx="633.1" cy="284.6" r="0.6" fill="#c62862"/>
<circle cx="632.9" cy="274.8" r="0.6" fill="#c62862"/>
<circle cx="629.5" cy="285.7" r="0.6" fill="#c52762"/>
<circle cx="633.3" cy="284.7" r="0.6" fill="#c22563"/>
<circle cx="629.6" cy="284.4" r="0.6" fill="#bc2066"/>
<circle cx="626.9" cy="279.7" r="0.6" fill="#bc2066"/>
<circle cx="627.3" cy="279.6" r="0.6" fill="#ba1f66"/>
<circle cx="627.1" cy="282.4" r="0.6" fill="#b91e67"/>
<circle cx="633.7" cy="281.3" r="0.6" fill="#b81d67"/>
<circle cx="635.1" cy="279.3" r="0.6" fill="#b81d67"/>
<circle cx="628.3" cy="283.1" r="0.6" fill="#b81d68"/>
<circle cx="631.8" cy="276.1" r="0.6" fill="#b71c68"/>
<circle cx="633.1" cy="285.0" r="0.6" fill="#b61b68"/>
<circle cx="626.6" cy="270.8" r="0.6" fill="#b51b69"/>
<circle cx="625.9" cy="275.5" r="0.6" fill="#b41a69"/>
<circle cx="626.1" cy="279.3" r="0.6" fill="#b2186a"/>
<circle cx="628.4" cy="284.9" r="0.6" fill="#b2186a"/>
<circle cx="628.4" cy="284.4" r="0.6" fill="#b0186a"/>
<circle cx="624.9" cy="270.9" r="0.6" fill="#af176a"/>
<circle cx="632.2" cy="275.9" r="0.6" fill="#af176a"/>
<circle cx="628.9" cy="282.1" r="0.6" fill="#ae176a"/>
<circle cx="628.4" cy="286.0" r="0.6" fill="#ae176a"/>
<circle cx="633.6" cy="287.4" r="0.6" fill="#ae176a"/>
<circle cx="625.3" cy="274.8" r="0.6" fill="#ad176a"/>
<circle cx="631.9" cy="276.8" r="0.6" fill="#ad176a"/>
<circle cx="627.2" cy="271.9" r="0.6" fill="#ad176a"/>
<circle cx="633.5" cy="281.7" r="0.6" fill="#ac176a"/>
<circle cx="626.7" cy="278.5" r="0.6" fill="#ab166a"/>
<circle cx="625.0" cy="274.7" r="0.6" fill="#a81669"/>
<circle cx="631.2" cy="282.6" r="0.6" fill="#a81669"/>
<circle cx="632.3" cy="283.7" r="0.6" fill="#a51569"/>
<circle cx="626.7" cy="281.5" r="0.6" fill="#a41569"/>
<circle cx="628.2" cy="285.5" r="0.6" fill="#a31569"/>
<circle cx="626.8" cy="282.4" r="0.6" fill="#a21569"/>
<circle cx="634.7" cy="285.4" r="0.6" fill="#a21469"/>
<circle cx="633.9" cy="283.4" r="0.6" fill="#a01469"/>
<circle cx="633.0" cy="283.8" r="0.6" fill="#9f1469"/>
<circle cx="631.3" cy="285.0" r="0.6" fill="#9e1369"/>
<circle cx="625.5" cy="274.6" r="0.6" fill="#9c1369"/>
<circle cx="631.8" cy="283.5" r="0.6" fill="#9c1369"/>
<circle cx="626.5" cy="280.0" r="0.6" fill="#9c1369"/>
<circle cx="633.9" cy="284.0" r="0.6" fill="#9b1369"/>
<circle cx="634.7" cy="275.2" r="0.6" fill="#991269"/>
<circle cx="634.4" cy="287.0" r="0.6" fill="#981269"/>
<circle cx="631.8" cy="286.8" r="0.6" fill="#981269"/>
<circle cx="628.2" cy="280.5" r="0.6" fill="#971269"/>
<circle cx="625.7" cy="277.4" r="0.6" fill="#961268"/>
<circle cx="633.9" cy="278.6" r="0.6" fill="#951268"/>
<circle cx="627.3" cy="279.5" r="0.6" fill="#951268"/>
<circle cx="626.2" cy="275.1" r="0.6" fill="#951168"/>
<circle cx="627.5" cy="274.3" r="0.6" fill="#941168"/>
<circle cx="626.8" cy="282.3" r="0.6" fill="#931168"/>
<circle cx="633.8" cy="281.2" r="0.6" fill="#931168"/>
<circle cx="633.3" cy="287.1" r="0.6" fill="#921168"/>
<circle cx="626.5" cy="283.1" r="0.6" fill="#911168"/>
<circle cx="633.3" cy="271.9" r="0.6" fill="#901068"/>
<circle cx="630.6" cy="282.9" r="0.6" fill="#8f1068"/>
<circle cx="626.6" cy="278.6" r="0.6" fill="#8e1068"/>
<circle cx="594.9" cy="287.7" r="0.9" fill="#e24954"/>
<ellipse cx="625.3" cy="284.7" rx="17.8" ry="7.0" transform="rotate(-60.5 625.3 284.7)" fill="none" stroke="#2a3f4e" stroke-width="0.95"/>
<circle cx="602.6" cy="255.9" r="0.7" fill="#faae74"/>
<circle cx="613.8" cy="286.7" r="0.7" fill="#faae74"/>
</svg>
</body></html>
